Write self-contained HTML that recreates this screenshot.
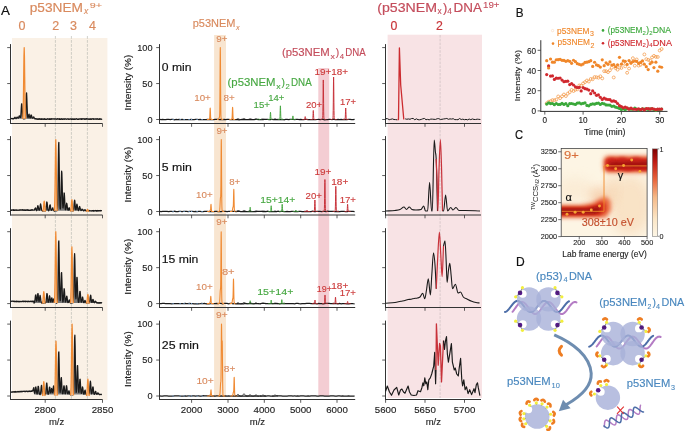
<!DOCTYPE html>
<html><head><meta charset="utf-8"><style>
html,body{margin:0;padding:0;background:#fff;}
svg{display:block;font-family:"Liberation Sans", sans-serif;will-change:transform;}
</style></head><body>
<svg width="685" height="432" viewBox="0 0 685 432">
<rect width="685" height="432" fill="#fff"/>
<rect x="12.00" y="38.00" width="95.40" height="362.00" fill="#faf1e6"/>
<rect x="387.60" y="34.70" width="94.40" height="363.30" fill="#f8e3e5"/>
<rect x="214.10" y="35.00" width="11.90" height="362.00" fill="#f8e5d0"/>
<rect x="318.30" y="68.00" width="10.90" height="328.00" fill="#f4cdd3"/>
<line x1="55.40" y1="36.00" x2="55.40" y2="400.00" stroke="#bdbdb6" stroke-width="0.7" stroke-dasharray="2.8,1.2"/>
<line x1="71.40" y1="36.00" x2="71.40" y2="400.00" stroke="#bdbdb6" stroke-width="0.7" stroke-dasharray="2.8,1.2"/>
<line x1="87.40" y1="36.00" x2="87.40" y2="400.00" stroke="#bdbdb6" stroke-width="0.7" stroke-dasharray="2.8,1.2"/>
<line x1="440.10" y1="35.00" x2="440.10" y2="398.00" stroke="#d2c2c4" stroke-width="0.8" stroke-dasharray="2.6,1.2"/>
<line x1="10.50" y1="44.10" x2="10.50" y2="123.90" stroke="#333" stroke-width="1.0"/>
<line x1="10.10" y1="123.50" x2="102.50" y2="123.50" stroke="#333" stroke-width="1.0"/>
<line x1="7.20" y1="47.60" x2="10.50" y2="47.60" stroke="#333" stroke-width="0.8"/>
<line x1="7.20" y1="83.55" x2="10.50" y2="83.55" stroke="#333" stroke-width="0.8"/>
<line x1="7.20" y1="119.50" x2="10.50" y2="119.50" stroke="#333" stroke-width="0.8"/>
<line x1="45.20" y1="123.50" x2="45.20" y2="126.80" stroke="#333" stroke-width="0.8"/>
<line x1="102.50" y1="123.50" x2="102.50" y2="126.80" stroke="#333" stroke-width="0.8"/>
<line x1="159.50" y1="44.10" x2="159.50" y2="123.90" stroke="#333" stroke-width="1.0"/>
<line x1="159.10" y1="123.50" x2="355.20" y2="123.50" stroke="#333" stroke-width="1.0"/>
<line x1="156.20" y1="47.60" x2="159.50" y2="47.60" stroke="#333" stroke-width="0.8"/>
<line x1="156.20" y1="83.55" x2="159.50" y2="83.55" stroke="#333" stroke-width="0.8"/>
<line x1="156.20" y1="119.50" x2="159.50" y2="119.50" stroke="#333" stroke-width="0.8"/>
<line x1="191.60" y1="123.50" x2="191.60" y2="126.80" stroke="#333" stroke-width="0.8"/>
<line x1="228.00" y1="123.50" x2="228.00" y2="126.80" stroke="#333" stroke-width="0.8"/>
<line x1="264.30" y1="123.50" x2="264.30" y2="126.80" stroke="#333" stroke-width="0.8"/>
<line x1="300.70" y1="123.50" x2="300.70" y2="126.80" stroke="#333" stroke-width="0.8"/>
<line x1="337.00" y1="123.50" x2="337.00" y2="126.80" stroke="#333" stroke-width="0.8"/>
<line x1="385.50" y1="44.10" x2="385.50" y2="123.90" stroke="#333" stroke-width="1.0"/>
<line x1="385.10" y1="123.50" x2="481.00" y2="123.50" stroke="#333" stroke-width="1.0"/>
<line x1="382.20" y1="47.60" x2="385.50" y2="47.60" stroke="#333" stroke-width="0.8"/>
<line x1="382.20" y1="83.55" x2="385.50" y2="83.55" stroke="#333" stroke-width="0.8"/>
<line x1="382.20" y1="119.50" x2="385.50" y2="119.50" stroke="#333" stroke-width="0.8"/>
<line x1="385.60" y1="123.50" x2="385.60" y2="126.80" stroke="#333" stroke-width="0.8"/>
<line x1="425.00" y1="123.50" x2="425.00" y2="126.80" stroke="#333" stroke-width="0.8"/>
<line x1="464.50" y1="123.50" x2="464.50" y2="126.80" stroke="#333" stroke-width="0.8"/>
<text x="152.60" y="50.90" font-size="9.2" fill="#222" stroke="#222" stroke-width="0.13" text-anchor="end">100</text>
<text x="152.60" y="86.85" font-size="9.2" fill="#222" stroke="#222" stroke-width="0.13" text-anchor="end">50</text>
<text x="152.60" y="122.80" font-size="9.2" fill="#222" stroke="#222" stroke-width="0.13" text-anchor="end">0</text>
<text x="131.00" y="82.55" font-size="8.5" fill="#222" stroke="#222" stroke-width="0.12" text-anchor="middle" textLength="56.0" lengthAdjust="spacingAndGlyphs" transform="rotate(-90 131.00 82.55)">Intensity (%)</text>
<line x1="10.50" y1="136.10" x2="10.50" y2="215.40" stroke="#333" stroke-width="1.0"/>
<line x1="10.10" y1="215.00" x2="102.50" y2="215.00" stroke="#333" stroke-width="1.0"/>
<line x1="7.20" y1="139.60" x2="10.50" y2="139.60" stroke="#333" stroke-width="0.8"/>
<line x1="7.20" y1="175.55" x2="10.50" y2="175.55" stroke="#333" stroke-width="0.8"/>
<line x1="7.20" y1="211.50" x2="10.50" y2="211.50" stroke="#333" stroke-width="0.8"/>
<line x1="45.20" y1="215.00" x2="45.20" y2="218.30" stroke="#333" stroke-width="0.8"/>
<line x1="102.50" y1="215.00" x2="102.50" y2="218.30" stroke="#333" stroke-width="0.8"/>
<line x1="159.50" y1="136.10" x2="159.50" y2="215.40" stroke="#333" stroke-width="1.0"/>
<line x1="159.10" y1="215.00" x2="355.20" y2="215.00" stroke="#333" stroke-width="1.0"/>
<line x1="156.20" y1="139.60" x2="159.50" y2="139.60" stroke="#333" stroke-width="0.8"/>
<line x1="156.20" y1="175.55" x2="159.50" y2="175.55" stroke="#333" stroke-width="0.8"/>
<line x1="156.20" y1="211.50" x2="159.50" y2="211.50" stroke="#333" stroke-width="0.8"/>
<line x1="191.60" y1="215.00" x2="191.60" y2="218.30" stroke="#333" stroke-width="0.8"/>
<line x1="228.00" y1="215.00" x2="228.00" y2="218.30" stroke="#333" stroke-width="0.8"/>
<line x1="264.30" y1="215.00" x2="264.30" y2="218.30" stroke="#333" stroke-width="0.8"/>
<line x1="300.70" y1="215.00" x2="300.70" y2="218.30" stroke="#333" stroke-width="0.8"/>
<line x1="337.00" y1="215.00" x2="337.00" y2="218.30" stroke="#333" stroke-width="0.8"/>
<line x1="385.50" y1="136.10" x2="385.50" y2="215.40" stroke="#333" stroke-width="1.0"/>
<line x1="385.10" y1="215.00" x2="481.00" y2="215.00" stroke="#333" stroke-width="1.0"/>
<line x1="382.20" y1="139.60" x2="385.50" y2="139.60" stroke="#333" stroke-width="0.8"/>
<line x1="382.20" y1="175.55" x2="385.50" y2="175.55" stroke="#333" stroke-width="0.8"/>
<line x1="382.20" y1="211.50" x2="385.50" y2="211.50" stroke="#333" stroke-width="0.8"/>
<line x1="385.60" y1="215.00" x2="385.60" y2="218.30" stroke="#333" stroke-width="0.8"/>
<line x1="425.00" y1="215.00" x2="425.00" y2="218.30" stroke="#333" stroke-width="0.8"/>
<line x1="464.50" y1="215.00" x2="464.50" y2="218.30" stroke="#333" stroke-width="0.8"/>
<text x="152.60" y="142.90" font-size="9.2" fill="#222" stroke="#222" stroke-width="0.13" text-anchor="end">100</text>
<text x="152.60" y="178.85" font-size="9.2" fill="#222" stroke="#222" stroke-width="0.13" text-anchor="end">50</text>
<text x="152.60" y="214.80" font-size="9.2" fill="#222" stroke="#222" stroke-width="0.13" text-anchor="end">0</text>
<text x="131.00" y="174.55" font-size="8.5" fill="#222" stroke="#222" stroke-width="0.12" text-anchor="middle" textLength="56.0" lengthAdjust="spacingAndGlyphs" transform="rotate(-90 131.00 174.55)">Intensity (%)</text>
<line x1="10.50" y1="228.20" x2="10.50" y2="307.90" stroke="#333" stroke-width="1.0"/>
<line x1="10.10" y1="307.50" x2="102.50" y2="307.50" stroke="#333" stroke-width="1.0"/>
<line x1="7.20" y1="231.70" x2="10.50" y2="231.70" stroke="#333" stroke-width="0.8"/>
<line x1="7.20" y1="267.65" x2="10.50" y2="267.65" stroke="#333" stroke-width="0.8"/>
<line x1="7.20" y1="303.60" x2="10.50" y2="303.60" stroke="#333" stroke-width="0.8"/>
<line x1="45.20" y1="307.50" x2="45.20" y2="310.80" stroke="#333" stroke-width="0.8"/>
<line x1="102.50" y1="307.50" x2="102.50" y2="310.80" stroke="#333" stroke-width="0.8"/>
<line x1="159.50" y1="228.20" x2="159.50" y2="307.90" stroke="#333" stroke-width="1.0"/>
<line x1="159.10" y1="307.50" x2="355.20" y2="307.50" stroke="#333" stroke-width="1.0"/>
<line x1="156.20" y1="231.70" x2="159.50" y2="231.70" stroke="#333" stroke-width="0.8"/>
<line x1="156.20" y1="267.65" x2="159.50" y2="267.65" stroke="#333" stroke-width="0.8"/>
<line x1="156.20" y1="303.60" x2="159.50" y2="303.60" stroke="#333" stroke-width="0.8"/>
<line x1="191.60" y1="307.50" x2="191.60" y2="310.80" stroke="#333" stroke-width="0.8"/>
<line x1="228.00" y1="307.50" x2="228.00" y2="310.80" stroke="#333" stroke-width="0.8"/>
<line x1="264.30" y1="307.50" x2="264.30" y2="310.80" stroke="#333" stroke-width="0.8"/>
<line x1="300.70" y1="307.50" x2="300.70" y2="310.80" stroke="#333" stroke-width="0.8"/>
<line x1="337.00" y1="307.50" x2="337.00" y2="310.80" stroke="#333" stroke-width="0.8"/>
<line x1="385.50" y1="228.20" x2="385.50" y2="307.90" stroke="#333" stroke-width="1.0"/>
<line x1="385.10" y1="307.50" x2="481.00" y2="307.50" stroke="#333" stroke-width="1.0"/>
<line x1="382.20" y1="231.70" x2="385.50" y2="231.70" stroke="#333" stroke-width="0.8"/>
<line x1="382.20" y1="267.65" x2="385.50" y2="267.65" stroke="#333" stroke-width="0.8"/>
<line x1="382.20" y1="303.60" x2="385.50" y2="303.60" stroke="#333" stroke-width="0.8"/>
<line x1="385.60" y1="307.50" x2="385.60" y2="310.80" stroke="#333" stroke-width="0.8"/>
<line x1="425.00" y1="307.50" x2="425.00" y2="310.80" stroke="#333" stroke-width="0.8"/>
<line x1="464.50" y1="307.50" x2="464.50" y2="310.80" stroke="#333" stroke-width="0.8"/>
<text x="152.60" y="235.00" font-size="9.2" fill="#222" stroke="#222" stroke-width="0.13" text-anchor="end">100</text>
<text x="152.60" y="270.95" font-size="9.2" fill="#222" stroke="#222" stroke-width="0.13" text-anchor="end">50</text>
<text x="152.60" y="306.90" font-size="9.2" fill="#222" stroke="#222" stroke-width="0.13" text-anchor="end">0</text>
<text x="131.00" y="266.65" font-size="8.5" fill="#222" stroke="#222" stroke-width="0.12" text-anchor="middle" textLength="56.0" lengthAdjust="spacingAndGlyphs" transform="rotate(-90 131.00 266.65)">Intensity (%)</text>
<line x1="10.50" y1="320.60" x2="10.50" y2="399.90" stroke="#333" stroke-width="1.0"/>
<line x1="10.10" y1="399.50" x2="102.50" y2="399.50" stroke="#333" stroke-width="1.0"/>
<line x1="7.20" y1="324.10" x2="10.50" y2="324.10" stroke="#333" stroke-width="0.8"/>
<line x1="7.20" y1="360.05" x2="10.50" y2="360.05" stroke="#333" stroke-width="0.8"/>
<line x1="7.20" y1="396.00" x2="10.50" y2="396.00" stroke="#333" stroke-width="0.8"/>
<line x1="45.20" y1="399.50" x2="45.20" y2="402.80" stroke="#333" stroke-width="0.8"/>
<line x1="102.50" y1="399.50" x2="102.50" y2="402.80" stroke="#333" stroke-width="0.8"/>
<line x1="159.50" y1="320.60" x2="159.50" y2="399.90" stroke="#333" stroke-width="1.0"/>
<line x1="159.10" y1="399.50" x2="355.20" y2="399.50" stroke="#333" stroke-width="1.0"/>
<line x1="156.20" y1="324.10" x2="159.50" y2="324.10" stroke="#333" stroke-width="0.8"/>
<line x1="156.20" y1="360.05" x2="159.50" y2="360.05" stroke="#333" stroke-width="0.8"/>
<line x1="156.20" y1="396.00" x2="159.50" y2="396.00" stroke="#333" stroke-width="0.8"/>
<line x1="191.60" y1="399.50" x2="191.60" y2="402.80" stroke="#333" stroke-width="0.8"/>
<line x1="228.00" y1="399.50" x2="228.00" y2="402.80" stroke="#333" stroke-width="0.8"/>
<line x1="264.30" y1="399.50" x2="264.30" y2="402.80" stroke="#333" stroke-width="0.8"/>
<line x1="300.70" y1="399.50" x2="300.70" y2="402.80" stroke="#333" stroke-width="0.8"/>
<line x1="337.00" y1="399.50" x2="337.00" y2="402.80" stroke="#333" stroke-width="0.8"/>
<line x1="385.50" y1="320.60" x2="385.50" y2="399.90" stroke="#333" stroke-width="1.0"/>
<line x1="385.10" y1="399.50" x2="481.00" y2="399.50" stroke="#333" stroke-width="1.0"/>
<line x1="382.20" y1="324.10" x2="385.50" y2="324.10" stroke="#333" stroke-width="0.8"/>
<line x1="382.20" y1="360.05" x2="385.50" y2="360.05" stroke="#333" stroke-width="0.8"/>
<line x1="382.20" y1="396.00" x2="385.50" y2="396.00" stroke="#333" stroke-width="0.8"/>
<line x1="385.60" y1="399.50" x2="385.60" y2="402.80" stroke="#333" stroke-width="0.8"/>
<line x1="425.00" y1="399.50" x2="425.00" y2="402.80" stroke="#333" stroke-width="0.8"/>
<line x1="464.50" y1="399.50" x2="464.50" y2="402.80" stroke="#333" stroke-width="0.8"/>
<text x="152.60" y="327.40" font-size="9.2" fill="#222" stroke="#222" stroke-width="0.13" text-anchor="end">100</text>
<text x="152.60" y="363.35" font-size="9.2" fill="#222" stroke="#222" stroke-width="0.13" text-anchor="end">50</text>
<text x="152.60" y="399.30" font-size="9.2" fill="#222" stroke="#222" stroke-width="0.13" text-anchor="end">0</text>
<text x="131.00" y="359.05" font-size="8.5" fill="#222" stroke="#222" stroke-width="0.12" text-anchor="middle" textLength="56.0" lengthAdjust="spacingAndGlyphs" transform="rotate(-90 131.00 359.05)">Intensity (%)</text>
<text x="45.20" y="412.70" font-size="9.2" fill="#222" stroke="#222" stroke-width="0.13" text-anchor="middle" textLength="21.6" lengthAdjust="spacingAndGlyphs">2800</text>
<text x="102.50" y="412.70" font-size="9.2" fill="#222" stroke="#222" stroke-width="0.13" text-anchor="middle" textLength="21.6" lengthAdjust="spacingAndGlyphs">2850</text>
<text x="191.60" y="412.70" font-size="9.2" fill="#222" stroke="#222" stroke-width="0.13" text-anchor="middle" textLength="21.6" lengthAdjust="spacingAndGlyphs">2000</text>
<text x="228.00" y="412.70" font-size="9.2" fill="#222" stroke="#222" stroke-width="0.13" text-anchor="middle" textLength="21.6" lengthAdjust="spacingAndGlyphs">3000</text>
<text x="264.30" y="412.70" font-size="9.2" fill="#222" stroke="#222" stroke-width="0.13" text-anchor="middle" textLength="21.6" lengthAdjust="spacingAndGlyphs">4000</text>
<text x="300.70" y="412.70" font-size="9.2" fill="#222" stroke="#222" stroke-width="0.13" text-anchor="middle" textLength="21.6" lengthAdjust="spacingAndGlyphs">5000</text>
<text x="337.00" y="412.70" font-size="9.2" fill="#222" stroke="#222" stroke-width="0.13" text-anchor="middle" textLength="21.6" lengthAdjust="spacingAndGlyphs">6000</text>
<text x="385.60" y="412.70" font-size="9.2" fill="#222" stroke="#222" stroke-width="0.13" text-anchor="middle" textLength="21.6" lengthAdjust="spacingAndGlyphs">5600</text>
<text x="425.00" y="412.70" font-size="9.2" fill="#222" stroke="#222" stroke-width="0.13" text-anchor="middle" textLength="21.6" lengthAdjust="spacingAndGlyphs">5650</text>
<text x="464.50" y="412.70" font-size="9.2" fill="#222" stroke="#222" stroke-width="0.13" text-anchor="middle" textLength="21.6" lengthAdjust="spacingAndGlyphs">5700</text>
<text x="56.60" y="424.70" font-size="9.4" fill="#222" stroke="#222" stroke-width="0.13" text-anchor="middle" textLength="15.3" lengthAdjust="spacingAndGlyphs">m/z</text>
<text x="257.40" y="424.70" font-size="9.4" fill="#222" stroke="#222" stroke-width="0.13" text-anchor="middle" textLength="15.3" lengthAdjust="spacingAndGlyphs">m/z</text>
<text x="433.30" y="424.70" font-size="9.4" fill="#222" stroke="#222" stroke-width="0.13" text-anchor="middle" textLength="15.3" lengthAdjust="spacingAndGlyphs">m/z</text>
<text x="0.90" y="14.80" font-size="13.6" fill="#111" stroke="#111" stroke-width="0.19" textLength="8.9" lengthAdjust="spacingAndGlyphs">A</text>
<text x="29.70" y="12.00" font-size="12.7" fill="#d98a5e" stroke="#d98a5e" stroke-width="0.18" textLength="53.3" lengthAdjust="spacingAndGlyphs">p53NEM</text>
<text x="84.00" y="14.40" font-size="8.5" fill="#d98a5e" stroke="#d98a5e" stroke-width="0.12" font-style="italic">x</text>
<text x="89.80" y="7.90" font-size="7.8" fill="#d98a5e" stroke="#d98a5e" stroke-width="0.11" textLength="12.3" lengthAdjust="spacingAndGlyphs">9+</text>
<text x="22.00" y="30.10" font-size="12.5" fill="#d98a5e" stroke="#d98a5e" stroke-width="0.18" text-anchor="middle">0</text>
<text x="55.70" y="30.10" font-size="12.5" fill="#d98a5e" stroke="#d98a5e" stroke-width="0.18" text-anchor="middle">2</text>
<text x="73.40" y="30.10" font-size="12.5" fill="#d98a5e" stroke="#d98a5e" stroke-width="0.18" text-anchor="middle">3</text>
<text x="92.60" y="30.10" font-size="12.5" fill="#d98a5e" stroke="#d98a5e" stroke-width="0.18" text-anchor="middle">4</text>
<text x="377.20" y="11.90" font-size="12.9" fill="#c44d5c" stroke="#c44d5c" stroke-width="0.18" textLength="59.8" lengthAdjust="spacingAndGlyphs">(p53NEM</text>
<text x="437.40" y="13.60" font-size="8.3" fill="#c44d5c" stroke="#c44d5c" stroke-width="0.12">x</text>
<text x="443.00" y="11.90" font-size="12.9" fill="#c44d5c" stroke="#c44d5c" stroke-width="0.18">)</text>
<text x="447.20" y="14.30" font-size="8.6" fill="#c44d5c" stroke="#c44d5c" stroke-width="0.12" textLength="4.6" lengthAdjust="spacingAndGlyphs">4</text>
<text x="453.60" y="11.90" font-size="12.9" fill="#c44d5c" stroke="#c44d5c" stroke-width="0.18" textLength="28.4" lengthAdjust="spacingAndGlyphs">DNA</text>
<text x="483.00" y="7.90" font-size="8.2" fill="#c44d5c" stroke="#c44d5c" stroke-width="0.11" textLength="16.5" lengthAdjust="spacingAndGlyphs">19+</text>
<text x="394.00" y="29.60" font-size="12.3" fill="#c83438" stroke="#c83438" stroke-width="0.17" text-anchor="middle">0</text>
<text x="439.40" y="29.60" font-size="12.3" fill="#c83438" stroke="#c83438" stroke-width="0.17" text-anchor="middle">2</text>
<text x="192.70" y="27.20" font-size="10.3" fill="#d98a5e" stroke="#d98a5e" stroke-width="0.14" textLength="42.8" lengthAdjust="spacingAndGlyphs">p53NEM</text>
<text x="236.00" y="29.60" font-size="7.2" fill="#d98a5e" stroke="#d98a5e" stroke-width="0.10" font-style="italic">x</text>
<text x="281.90" y="56.40" font-size="10.3" fill="#c44d5c" stroke="#c44d5c" stroke-width="0.14" textLength="47.9" lengthAdjust="spacingAndGlyphs">(p53NEM</text>
<text x="330.50" y="58.60" font-size="7.8" fill="#c44d5c" stroke="#c44d5c" stroke-width="0.11" textLength="4.4" lengthAdjust="spacingAndGlyphs">x</text>
<text x="335.80" y="56.40" font-size="10.3" fill="#c44d5c" stroke="#c44d5c" stroke-width="0.14">)</text>
<text x="339.80" y="58.60" font-size="7.8" fill="#c44d5c" stroke="#c44d5c" stroke-width="0.11" textLength="4.3" lengthAdjust="spacingAndGlyphs">4</text>
<text x="345.30" y="56.40" font-size="10.3" fill="#c44d5c" stroke="#c44d5c" stroke-width="0.14" textLength="20.5" lengthAdjust="spacingAndGlyphs">DNA</text>
<text x="227.60" y="86.40" font-size="10.3" fill="#47a842" stroke="#47a842" stroke-width="0.14" textLength="47.9" lengthAdjust="spacingAndGlyphs">(p53NEM</text>
<text x="276.20" y="88.60" font-size="7.8" fill="#47a842" stroke="#47a842" stroke-width="0.11" textLength="4.4" lengthAdjust="spacingAndGlyphs">x</text>
<text x="281.50" y="86.40" font-size="10.3" fill="#47a842" stroke="#47a842" stroke-width="0.14">)</text>
<text x="285.50" y="88.60" font-size="7.8" fill="#47a842" stroke="#47a842" stroke-width="0.11" textLength="4.3" lengthAdjust="spacingAndGlyphs">2</text>
<text x="291.00" y="86.40" font-size="10.3" fill="#47a842" stroke="#47a842" stroke-width="0.14" textLength="20.7" lengthAdjust="spacingAndGlyphs">DNA</text>
<text x="161.80" y="70.90" font-size="10.4" fill="#111" stroke="#111" stroke-width="0.15" textLength="29.8" lengthAdjust="spacingAndGlyphs">0 min</text>
<text x="161.80" y="171.40" font-size="10.4" fill="#111" stroke="#111" stroke-width="0.15" textLength="30.1" lengthAdjust="spacingAndGlyphs">5 min</text>
<text x="161.80" y="262.50" font-size="10.4" fill="#111" stroke="#111" stroke-width="0.15" textLength="36.6" lengthAdjust="spacingAndGlyphs">15 min</text>
<text x="161.80" y="348.50" font-size="10.4" fill="#111" stroke="#111" stroke-width="0.15" textLength="37.1" lengthAdjust="spacingAndGlyphs">25 min</text>
<path d="M159.60,119.37 L161.10,119.52 L162.60,119.43 L164.10,119.55 L165.60,119.56 L167.10,119.28 L168.60,119.26 L170.10,119.67 L171.60,119.38 L173.10,119.37 L174.60,119.75 L176.10,119.49 L177.60,119.67 L179.10,119.49 L180.60,119.57 L182.10,119.33 L183.60,119.57 L185.10,119.68 L186.60,119.51 L188.10,119.62 L189.60,119.59 L191.10,119.28 L192.60,119.63 L194.10,119.55 L195.60,119.40 L197.10,119.27 L198.60,119.68 L200.10,119.49 L201.60,119.61 L203.10,119.69 L204.60,119.61 L206.10,119.71 L207.60,119.45 L209.10,119.65 L210.60,119.47 L212.10,119.72 L213.60,119.69 L215.10,119.30 L216.60,119.32 L218.10,119.36 L219.60,119.73 L221.10,119.47 L222.60,119.56 L224.10,119.40 L225.60,119.50 L227.10,119.44 L228.60,119.43 L230.10,119.54 L231.60,119.54 L233.10,119.70 L234.60,119.59 L236.10,119.71 L237.60,119.68 L239.10,119.75 L240.60,119.59 L242.10,119.33 L243.60,119.68 L245.10,119.73 L246.60,119.70 L248.10,119.53 L249.60,119.61 L251.10,119.36 L252.60,119.67 L254.10,119.54 L255.60,119.39 L257.10,119.28 L258.60,119.68 L260.10,119.74 L261.60,119.29 L263.10,119.65 L264.60,119.46 L266.10,119.33 L267.60,119.40 L269.10,119.63 L270.60,119.69 L272.10,119.27 L273.60,119.56 L275.10,119.27 L276.60,119.61 L278.10,119.42 L279.60,119.69 L281.10,119.74 L282.60,119.50 L284.10,119.75 L285.60,119.40 L287.10,119.29 L288.60,119.55 L290.10,119.27 L291.60,119.35 L293.10,119.45 L294.60,119.56 L296.10,119.33 L297.60,119.27 L299.10,119.68 L300.60,119.41 L302.10,119.73 L303.60,119.70 L305.10,119.44 L306.60,119.48 L308.10,119.51 L309.60,119.57 L311.10,119.55 L312.60,119.53 L314.10,119.56 L315.60,119.72 L317.10,119.50 L318.60,119.47 L320.10,119.61 L321.60,119.37 L323.10,119.40 L324.60,119.74 L326.10,119.51 L327.60,119.52 L329.10,119.26 L330.60,119.46 L332.10,119.54 L333.60,119.26 L335.10,119.56 L336.60,119.57 L338.10,119.28 L339.60,119.56 L341.10,119.48 L342.60,119.59 L344.10,119.43 L345.60,119.60 L347.10,119.62 L348.60,119.26 L350.10,119.28 L351.60,119.59 L353.10,119.73 L354.60,119.38" stroke="#1a1a1a" stroke-width="1.25" fill="none"/>
<line x1="172.50" y1="119.50" x2="173.70" y2="119.50" stroke="#6f9fd0" stroke-width="1.0"/>
<line x1="179.50" y1="119.50" x2="180.70" y2="119.50" stroke="#6f9fd0" stroke-width="1.0"/>
<line x1="183.50" y1="119.50" x2="184.70" y2="119.50" stroke="#6f9fd0" stroke-width="1.0"/>
<line x1="188.50" y1="119.50" x2="189.70" y2="119.50" stroke="#6f9fd0" stroke-width="1.0"/>
<line x1="191.00" y1="119.50" x2="192.20" y2="119.50" stroke="#6f9fd0" stroke-width="1.0"/>
<line x1="196.50" y1="119.50" x2="197.70" y2="119.50" stroke="#6f9fd0" stroke-width="1.0"/>
<line x1="201.50" y1="119.50" x2="202.70" y2="119.50" stroke="#6f9fd0" stroke-width="1.0"/>
<path d="M159.60,211.48 L161.10,211.55 L162.60,211.41 L164.10,211.43 L165.60,211.41 L167.10,211.43 L168.60,211.55 L170.10,211.40 L171.60,211.44 L173.10,211.64 L174.60,211.26 L176.10,211.53 L177.60,211.62 L179.10,211.41 L180.60,211.36 L182.10,211.65 L183.60,211.37 L185.10,211.34 L186.60,211.47 L188.10,211.60 L189.60,211.30 L191.10,211.41 L192.60,211.42 L194.10,211.67 L195.60,211.47 L197.10,211.68 L198.60,211.33 L200.10,211.42 L201.60,211.58 L203.10,211.69 L204.60,211.48 L206.10,211.36 L207.60,211.31 L209.10,211.51 L210.60,211.35 L212.10,211.65 L213.60,211.67 L215.10,211.34 L216.60,211.39 L218.10,211.65 L219.60,211.57 L221.10,211.65 L222.60,211.42 L224.10,211.31 L225.60,211.40 L227.10,211.65 L228.60,211.39 L230.10,211.42 L231.60,211.46 L233.10,211.46 L234.60,211.45 L236.10,211.71 L237.60,211.33 L239.10,211.25 L240.60,211.72 L242.10,211.69 L243.60,211.74 L245.10,211.47 L246.60,211.73 L248.10,211.71 L249.60,211.36 L251.10,211.62 L252.60,211.67 L254.10,211.58 L255.60,211.51 L257.10,211.39 L258.60,211.42 L260.10,211.36 L261.60,211.28 L263.10,211.54 L264.60,211.39 L266.10,211.66 L267.60,211.27 L269.10,211.70 L270.60,211.60 L272.10,211.71 L273.60,211.70 L275.10,211.70 L276.60,211.54 L278.10,211.26 L279.60,211.62 L281.10,211.34 L282.60,211.40 L284.10,211.58 L285.60,211.51 L287.10,211.46 L288.60,211.72 L290.10,211.56 L291.60,211.42 L293.10,211.38 L294.60,211.68 L296.10,211.49 L297.60,211.64 L299.10,211.43 L300.60,211.35 L302.10,211.52 L303.60,211.66 L305.10,211.34 L306.60,211.65 L308.10,211.71 L309.60,211.65 L311.10,211.66 L312.60,211.25 L314.10,211.56 L315.60,211.68 L317.10,211.27 L318.60,211.39 L320.10,211.38 L321.60,211.51 L323.10,211.46 L324.60,211.49 L326.10,211.64 L327.60,211.25 L329.10,211.28 L330.60,211.31 L332.10,211.31 L333.60,211.28 L335.10,211.74 L336.60,211.68 L338.10,211.29 L339.60,211.50 L341.10,211.41 L342.60,211.41 L344.10,211.43 L345.60,211.57 L347.10,211.54 L348.60,211.43 L350.10,211.35 L351.60,211.41 L353.10,211.31 L354.60,211.53" stroke="#1a1a1a" stroke-width="1.25" fill="none"/>
<line x1="172.50" y1="211.50" x2="173.70" y2="211.50" stroke="#6f9fd0" stroke-width="1.0"/>
<line x1="179.50" y1="211.50" x2="180.70" y2="211.50" stroke="#6f9fd0" stroke-width="1.0"/>
<line x1="183.50" y1="211.50" x2="184.70" y2="211.50" stroke="#6f9fd0" stroke-width="1.0"/>
<line x1="188.50" y1="211.50" x2="189.70" y2="211.50" stroke="#6f9fd0" stroke-width="1.0"/>
<line x1="191.00" y1="211.50" x2="192.20" y2="211.50" stroke="#6f9fd0" stroke-width="1.0"/>
<line x1="196.50" y1="211.50" x2="197.70" y2="211.50" stroke="#6f9fd0" stroke-width="1.0"/>
<line x1="201.50" y1="211.50" x2="202.70" y2="211.50" stroke="#6f9fd0" stroke-width="1.0"/>
<path d="M159.60,303.71 L161.10,303.54 L162.60,303.39 L164.10,303.44 L165.60,303.54 L167.10,303.65 L168.60,303.74 L170.10,303.54 L171.60,303.75 L173.10,303.66 L174.60,303.57 L176.10,303.54 L177.60,303.60 L179.10,303.70 L180.60,303.56 L182.10,303.70 L183.60,303.58 L185.10,303.47 L186.60,303.62 L188.10,303.70 L189.60,303.39 L191.10,303.56 L192.60,303.56 L194.10,303.79 L195.60,303.82 L197.10,303.54 L198.60,303.80 L200.10,303.75 L201.60,303.48 L203.10,303.58 L204.60,303.41 L206.10,303.76 L207.60,303.68 L209.10,303.79 L210.60,303.75 L212.10,303.68 L213.60,303.72 L215.10,303.63 L216.60,303.40 L218.10,303.64 L219.60,303.35 L221.10,303.42 L222.60,303.74 L224.10,303.37 L225.60,303.40 L227.10,303.40 L228.60,303.79 L230.10,303.44 L231.60,303.36 L233.10,303.77 L234.60,303.41 L236.10,303.77 L237.60,303.69 L239.10,303.77 L240.60,303.83 L242.10,303.64 L243.60,303.75 L245.10,303.37 L246.60,303.73 L248.10,303.61 L249.60,303.71 L251.10,303.40 L252.60,303.72 L254.10,303.82 L255.60,303.38 L257.10,303.51 L258.60,303.63 L260.10,303.76 L261.60,303.47 L263.10,303.44 L264.60,303.47 L266.10,303.66 L267.60,303.73 L269.10,303.55 L270.60,303.53 L272.10,303.55 L273.60,303.53 L275.10,303.56 L276.60,303.39 L278.10,303.60 L279.60,303.84 L281.10,303.56 L282.60,303.72 L284.10,303.43 L285.60,303.70 L287.10,303.73 L288.60,303.69 L290.10,303.61 L291.60,303.59 L293.10,303.67 L294.60,303.80 L296.10,303.42 L297.60,303.40 L299.10,303.72 L300.60,303.81 L302.10,303.61 L303.60,303.57 L305.10,303.71 L306.60,303.44 L308.10,303.48 L309.60,303.45 L311.10,303.64 L312.60,303.51 L314.10,303.47 L315.60,303.70 L317.10,303.83 L318.60,303.50 L320.10,303.70 L321.60,303.56 L323.10,303.78 L324.60,303.64 L326.10,303.48 L327.60,303.46 L329.10,303.36 L330.60,303.59 L332.10,303.54 L333.60,303.44 L335.10,303.53 L336.60,303.51 L338.10,303.74 L339.60,303.42 L341.10,303.85 L342.60,303.59 L344.10,303.65 L345.60,303.58 L347.10,303.77 L348.60,303.76 L350.10,303.63 L351.60,303.59 L353.10,303.71 L354.60,303.78" stroke="#1a1a1a" stroke-width="1.25" fill="none"/>
<line x1="172.50" y1="303.60" x2="173.70" y2="303.60" stroke="#6f9fd0" stroke-width="1.0"/>
<line x1="179.50" y1="303.60" x2="180.70" y2="303.60" stroke="#6f9fd0" stroke-width="1.0"/>
<line x1="183.50" y1="303.60" x2="184.70" y2="303.60" stroke="#6f9fd0" stroke-width="1.0"/>
<line x1="188.50" y1="303.60" x2="189.70" y2="303.60" stroke="#6f9fd0" stroke-width="1.0"/>
<line x1="191.00" y1="303.60" x2="192.20" y2="303.60" stroke="#6f9fd0" stroke-width="1.0"/>
<line x1="196.50" y1="303.60" x2="197.70" y2="303.60" stroke="#6f9fd0" stroke-width="1.0"/>
<line x1="201.50" y1="303.60" x2="202.70" y2="303.60" stroke="#6f9fd0" stroke-width="1.0"/>
<path d="M159.60,395.95 L161.10,396.12 L162.60,396.23 L164.10,395.98 L165.60,395.86 L167.10,395.87 L168.60,396.11 L170.10,396.09 L171.60,396.23 L173.10,396.18 L174.60,395.87 L176.10,395.84 L177.60,395.88 L179.10,395.84 L180.60,396.10 L182.10,396.18 L183.60,396.20 L185.10,395.88 L186.60,396.18 L188.10,395.91 L189.60,395.96 L191.10,396.11 L192.60,395.79 L194.10,395.80 L195.60,396.17 L197.10,395.90 L198.60,395.93 L200.10,396.04 L201.60,396.09 L203.10,395.75 L204.60,395.92 L206.10,395.97 L207.60,395.99 L209.10,395.86 L210.60,396.04 L212.10,396.23 L213.60,395.95 L215.10,396.02 L216.60,395.81 L218.10,395.89 L219.60,396.08 L221.10,395.81 L222.60,396.19 L224.10,396.20 L225.60,395.80 L227.10,396.22 L228.60,395.94 L230.10,396.14 L231.60,396.13 L233.10,395.90 L234.60,396.09 L236.10,396.08 L237.60,396.15 L239.10,395.88 L240.60,396.13 L242.10,396.23 L243.60,396.09 L245.10,396.02 L246.60,395.81 L248.10,396.00 L249.60,395.93 L251.10,396.11 L252.60,396.09 L254.10,396.03 L255.60,395.84 L257.10,396.07 L258.60,396.07 L260.10,395.84 L261.60,396.19 L263.10,396.08 L264.60,395.81 L266.10,396.22 L267.60,395.82 L269.10,395.92 L270.60,396.11 L272.10,396.05 L273.60,396.03 L275.10,396.07 L276.60,395.98 L278.10,395.91 L279.60,395.84 L281.10,395.78 L282.60,396.11 L284.10,396.13 L285.60,396.02 L287.10,396.12 L288.60,395.93 L290.10,395.88 L291.60,395.94 L293.10,396.19 L294.60,395.77 L296.10,396.00 L297.60,395.87 L299.10,396.13 L300.60,395.93 L302.10,395.92 L303.60,395.95 L305.10,396.02 L306.60,396.14 L308.10,395.93 L309.60,396.17 L311.10,395.81 L312.60,395.89 L314.10,395.80 L315.60,395.81 L317.10,396.14 L318.60,396.11 L320.10,395.84 L321.60,395.84 L323.10,395.96 L324.60,396.12 L326.10,396.16 L327.60,396.12 L329.10,396.05 L330.60,395.82 L332.10,395.95 L333.60,395.85 L335.10,396.01 L336.60,396.03 L338.10,395.85 L339.60,395.88 L341.10,396.14 L342.60,395.77 L344.10,396.15 L345.60,396.20 L347.10,396.22 L348.60,395.94 L350.10,396.03 L351.60,396.04 L353.10,396.07 L354.60,396.24" stroke="#1a1a1a" stroke-width="1.25" fill="none"/>
<line x1="172.50" y1="396.00" x2="173.70" y2="396.00" stroke="#6f9fd0" stroke-width="1.0"/>
<line x1="179.50" y1="396.00" x2="180.70" y2="396.00" stroke="#6f9fd0" stroke-width="1.0"/>
<line x1="183.50" y1="396.00" x2="184.70" y2="396.00" stroke="#6f9fd0" stroke-width="1.0"/>
<line x1="188.50" y1="396.00" x2="189.70" y2="396.00" stroke="#6f9fd0" stroke-width="1.0"/>
<line x1="191.00" y1="396.00" x2="192.20" y2="396.00" stroke="#6f9fd0" stroke-width="1.0"/>
<line x1="196.50" y1="396.00" x2="197.70" y2="396.00" stroke="#6f9fd0" stroke-width="1.0"/>
<line x1="201.50" y1="396.00" x2="202.70" y2="396.00" stroke="#6f9fd0" stroke-width="1.0"/>
<path d="M206.90,119.50 L207.00,119.50 L207.10,119.50 L207.20,119.50 L207.30,119.50 L207.40,119.50 L207.50,119.50 L207.60,119.49 L207.70,119.49 L207.80,119.49 L207.90,119.48 L208.00,119.47 L208.10,119.46 L208.20,119.45 L208.30,119.44 L208.40,119.42 L208.50,119.40 L208.60,119.38 L208.70,119.36 L208.80,119.33 L208.90,119.30 L209.00,119.26 L209.10,119.23 L209.20,119.20 L209.30,119.16 L209.40,119.09 L209.50,118.95 L209.60,118.60 L209.70,117.80 L209.80,116.29 L209.90,113.98 L210.00,111.22 L210.10,108.90 L210.20,108.00 L210.30,108.94 L210.40,111.30 L210.50,114.09 L210.60,116.43 L210.70,117.96 L210.80,118.78 L210.90,119.14 L211.00,119.28 L211.10,119.35 L211.20,119.38 L211.30,119.40 L211.40,119.42 L211.50,119.44 L211.60,119.45 L211.70,119.46 L211.80,119.47 L211.90,119.48 L212.00,119.49 L212.10,119.49 L212.20,119.49 L212.30,119.50 L212.40,119.50 L212.50,119.50 L212.60,119.50 L212.70,119.50 L212.80,119.50 L212.90,119.50 L213.00,119.50 L213.10,119.50 L213.20,119.50" stroke="#f08a32" stroke-width="1.1" fill="none" stroke-linejoin="round"/>
<path d="M217.00,119.50 L217.10,119.50 L217.20,119.49 L217.30,119.49 L217.40,119.49 L217.50,119.48 L217.60,119.47 L217.70,119.46 L217.80,119.44 L217.90,119.41 L218.00,119.38 L218.10,119.33 L218.20,119.28 L218.30,119.21 L218.40,119.12 L218.50,119.02 L218.60,118.90 L218.70,118.76 L218.80,118.60 L218.90,118.42 L219.00,118.23 L219.10,118.03 L219.20,117.82 L219.30,117.60 L219.40,117.35 L219.50,116.95 L219.60,116.07 L219.70,113.87 L219.80,108.90 L219.90,99.46 L220.00,84.99 L220.10,67.77 L220.20,53.26 L220.30,47.60 L220.40,53.50 L220.50,68.24 L220.60,85.67 L220.70,100.33 L220.80,109.91 L220.90,114.98 L221.00,117.25 L221.10,118.15 L221.20,118.54 L221.30,118.75 L221.40,118.90 L221.50,119.02 L221.60,119.12 L221.70,119.21 L221.80,119.28 L221.90,119.33 L222.00,119.38 L222.10,119.41 L222.20,119.44 L222.30,119.46 L222.40,119.47 L222.50,119.48 L222.60,119.49 L222.70,119.49 L222.80,119.49 L222.90,119.50 L223.00,119.50 L223.10,119.50 L223.20,119.50 L223.30,119.50" stroke="#f08a32" stroke-width="1.1" fill="none" stroke-linejoin="round"/>
<path d="M229.30,119.50 L229.40,119.50 L229.50,119.50 L229.60,119.50 L229.70,119.50 L229.80,119.50 L229.90,119.49 L230.00,119.49 L230.10,119.49 L230.20,119.48 L230.30,119.48 L230.40,119.47 L230.50,119.46 L230.60,119.45 L230.70,119.44 L230.80,119.42 L230.90,119.40 L231.00,119.37 L231.10,119.35 L231.20,119.32 L231.30,119.28 L231.40,119.25 L231.50,119.21 L231.60,119.18 L231.70,119.13 L231.80,119.07 L231.90,118.92 L232.00,118.54 L232.10,117.70 L232.20,116.09 L232.30,113.63 L232.40,110.71 L232.50,108.24 L232.60,107.28 L232.70,108.28 L232.80,110.79 L232.90,113.75 L233.00,116.24 L233.10,117.87 L233.20,118.73 L233.30,119.12 L233.40,119.27 L233.50,119.34 L233.60,119.37 L233.70,119.40 L233.80,119.42 L233.90,119.44 L234.00,119.45 L234.10,119.46 L234.20,119.47 L234.30,119.48 L234.40,119.48 L234.50,119.49 L234.60,119.49 L234.70,119.49 L234.80,119.50 L234.90,119.50 L235.00,119.50 L235.10,119.50 L235.20,119.50 L235.30,119.50 L235.40,119.50 L235.50,119.50 L235.60,119.50" stroke="#f08a32" stroke-width="1.1" fill="none" stroke-linejoin="round"/>
<path d="M255.90,119.50 L256.00,119.50 L256.10,119.50 L256.20,119.50 L256.30,119.50 L256.40,119.50 L256.50,119.50 L256.60,119.50 L256.70,119.50 L256.80,119.50 L256.90,119.50 L257.00,119.50 L257.10,119.50 L257.20,119.50 L257.30,119.50 L257.40,119.50 L257.50,119.50 L257.60,119.50 L257.70,119.50 L257.80,119.49 L257.90,119.49 L258.00,119.49 L258.10,119.49 L258.20,119.48 L258.30,119.47 L258.40,119.43 L258.50,119.35 L258.60,119.21 L258.70,119.02 L258.80,118.85 L258.90,118.78 L259.00,118.85 L259.10,119.02 L259.20,119.21 L259.30,119.35 L259.40,119.43 L259.50,119.47 L259.60,119.48 L259.70,119.49 L259.80,119.49 L259.90,119.49 L260.00,119.49 L260.10,119.50 L260.20,119.50 L260.30,119.50 L260.40,119.50 L260.50,119.50 L260.60,119.50 L260.70,119.50 L260.80,119.50 L260.90,119.50 L261.00,119.50 L261.10,119.50 L261.20,119.50 L261.30,119.50 L261.40,119.50 L261.50,119.50 L261.60,119.50 L261.70,119.50 L261.80,119.50 L261.90,119.50" stroke="#47a842" stroke-width="1.0" fill="none" stroke-linejoin="round"/>
<path d="M267.50,119.50 L267.60,119.50 L267.70,119.50 L267.80,119.50 L267.90,119.50 L268.00,119.50 L268.10,119.50 L268.20,119.50 L268.30,119.50 L268.40,119.50 L268.50,119.50 L268.60,119.49 L268.70,119.49 L268.80,119.49 L268.90,119.48 L269.00,119.48 L269.10,119.47 L269.20,119.46 L269.30,119.45 L269.40,119.44 L269.50,119.42 L269.60,119.41 L269.70,119.38 L269.80,119.33 L269.90,119.19 L270.00,118.81 L270.10,117.99 L270.20,116.55 L270.30,114.68 L270.40,113.00 L270.50,112.31 L270.60,113.00 L270.70,114.68 L270.80,116.55 L270.90,117.99 L271.00,118.81 L271.10,119.19 L271.20,119.33 L271.30,119.38 L271.40,119.41 L271.50,119.42 L271.60,119.44 L271.70,119.45 L271.80,119.46 L271.90,119.47 L272.00,119.48 L272.10,119.48 L272.20,119.49 L272.30,119.49 L272.40,119.49 L272.50,119.50 L272.60,119.50 L272.70,119.50 L272.80,119.50 L272.90,119.50 L273.00,119.50 L273.10,119.50 L273.20,119.50 L273.30,119.50 L273.40,119.50 L273.50,119.50" stroke="#47a842" stroke-width="1.0" fill="none" stroke-linejoin="round"/>
<path d="M277.40,119.50 L277.50,119.50 L277.60,119.50 L277.70,119.50 L277.80,119.50 L277.90,119.50 L278.00,119.50 L278.10,119.50 L278.20,119.50 L278.30,119.50 L278.40,119.49 L278.50,119.49 L278.60,119.49 L278.70,119.48 L278.80,119.47 L278.90,119.46 L279.00,119.45 L279.10,119.43 L279.20,119.41 L279.30,119.38 L279.40,119.36 L279.50,119.32 L279.60,119.28 L279.70,119.17 L279.80,118.90 L279.90,118.19 L280.00,116.62 L280.10,113.90 L280.20,110.34 L280.30,107.14 L280.40,105.84 L280.50,107.14 L280.60,110.34 L280.70,113.90 L280.80,116.62 L280.90,118.19 L281.00,118.90 L281.10,119.17 L281.20,119.28 L281.30,119.32 L281.40,119.36 L281.50,119.38 L281.60,119.41 L281.70,119.43 L281.80,119.45 L281.90,119.46 L282.00,119.47 L282.10,119.48 L282.20,119.49 L282.30,119.49 L282.40,119.49 L282.50,119.50 L282.60,119.50 L282.70,119.50 L282.80,119.50 L282.90,119.50 L283.00,119.50 L283.10,119.50 L283.20,119.50 L283.30,119.50 L283.40,119.50" stroke="#47a842" stroke-width="1.0" fill="none" stroke-linejoin="round"/>
<path d="M289.90,119.50 L290.00,119.50 L290.10,119.50 L290.20,119.50 L290.30,119.50 L290.40,119.50 L290.50,119.50 L290.60,119.50 L290.70,119.50 L290.80,119.50 L290.90,119.50 L291.00,119.50 L291.10,119.50 L291.20,119.49 L291.30,119.49 L291.40,119.49 L291.50,119.49 L291.60,119.48 L291.70,119.48 L291.80,119.47 L291.90,119.46 L292.00,119.45 L292.10,119.44 L292.20,119.41 L292.30,119.34 L292.40,119.16 L292.50,118.74 L292.60,118.03 L292.70,117.09 L292.80,116.25 L292.90,115.91 L293.00,116.25 L293.10,117.09 L293.20,118.03 L293.30,118.74 L293.40,119.16 L293.50,119.34 L293.60,119.41 L293.70,119.44 L293.80,119.45 L293.90,119.46 L294.00,119.47 L294.10,119.48 L294.20,119.48 L294.30,119.49 L294.40,119.49 L294.50,119.49 L294.60,119.49 L294.70,119.50 L294.80,119.50 L294.90,119.50 L295.00,119.50 L295.10,119.50 L295.20,119.50 L295.30,119.50 L295.40,119.50 L295.50,119.50 L295.60,119.50 L295.70,119.50 L295.80,119.50 L295.90,119.50" stroke="#47a842" stroke-width="1.0" fill="none" stroke-linejoin="round"/>
<path d="M302.20,119.50 L302.30,119.50 L302.40,119.50 L302.50,119.50 L302.60,119.50 L302.70,119.50 L302.80,119.50 L302.90,119.50 L303.00,119.50 L303.10,119.50 L303.20,119.50 L303.30,119.50 L303.40,119.50 L303.50,119.50 L303.60,119.49 L303.70,119.49 L303.80,119.49 L303.90,119.49 L304.00,119.48 L304.10,119.48 L304.20,119.47 L304.30,119.46 L304.40,119.45 L304.50,119.43 L304.60,119.37 L304.70,119.22 L304.80,118.89 L304.90,118.32 L305.00,117.57 L305.10,116.90 L305.20,116.62 L305.30,116.90 L305.40,117.57 L305.50,118.32 L305.60,118.89 L305.70,119.22 L305.80,119.37 L305.90,119.43 L306.00,119.45 L306.10,119.46 L306.20,119.47 L306.30,119.48 L306.40,119.48 L306.50,119.49 L306.60,119.49 L306.70,119.49 L306.80,119.49 L306.90,119.50 L307.00,119.50 L307.10,119.50 L307.20,119.50 L307.30,119.50 L307.40,119.50 L307.50,119.50 L307.60,119.50 L307.70,119.50 L307.80,119.50 L307.90,119.50 L308.00,119.50 L308.10,119.50 L308.20,119.50" stroke="#c8323a" stroke-width="1.0" fill="none" stroke-linejoin="round"/>
<path d="M310.30,119.50 L310.40,119.50 L310.50,119.50 L310.60,119.50 L310.70,119.50 L310.80,119.50 L310.90,119.50 L311.00,119.50 L311.10,119.50 L311.20,119.50 L311.30,119.50 L311.40,119.49 L311.50,119.49 L311.60,119.49 L311.70,119.48 L311.80,119.47 L311.90,119.46 L312.00,119.45 L312.10,119.44 L312.20,119.42 L312.30,119.41 L312.40,119.38 L312.50,119.35 L312.60,119.29 L312.70,119.11 L312.80,118.64 L312.90,117.61 L313.00,115.82 L313.10,113.48 L313.20,111.37 L313.30,110.51 L313.40,111.37 L313.50,113.48 L313.60,115.82 L313.70,117.61 L313.80,118.64 L313.90,119.11 L314.00,119.29 L314.10,119.35 L314.20,119.38 L314.30,119.41 L314.40,119.42 L314.50,119.44 L314.60,119.45 L314.70,119.46 L314.80,119.47 L314.90,119.48 L315.00,119.49 L315.10,119.49 L315.20,119.49 L315.30,119.50 L315.40,119.50 L315.50,119.50 L315.60,119.50 L315.70,119.50 L315.80,119.50 L315.90,119.50 L316.00,119.50 L316.10,119.50 L316.20,119.50 L316.30,119.50" stroke="#c8323a" stroke-width="1.0" fill="none" stroke-linejoin="round"/>
<path d="M320.30,119.50 L320.40,119.50 L320.50,119.50 L320.60,119.50 L320.70,119.50 L320.80,119.50 L320.90,119.50 L321.00,119.49 L321.10,119.49 L321.20,119.49 L321.30,119.48 L321.40,119.47 L321.50,119.46 L321.60,119.44 L321.70,119.42 L321.80,119.38 L321.90,119.34 L322.00,119.29 L322.10,119.23 L322.20,119.16 L322.30,119.08 L322.40,118.99 L322.50,118.85 L322.60,118.56 L322.70,117.77 L322.80,115.71 L322.90,111.17 L323.00,103.30 L323.10,93.00 L323.20,83.73 L323.30,79.95 L323.40,83.73 L323.50,93.00 L323.60,103.30 L323.70,111.17 L323.80,115.71 L323.90,117.77 L324.00,118.56 L324.10,118.85 L324.20,118.99 L324.30,119.08 L324.40,119.16 L324.50,119.23 L324.60,119.29 L324.70,119.34 L324.80,119.38 L324.90,119.42 L325.00,119.44 L325.10,119.46 L325.20,119.47 L325.30,119.48 L325.40,119.49 L325.50,119.49 L325.60,119.49 L325.70,119.50 L325.80,119.50 L325.90,119.50 L326.00,119.50 L326.10,119.50 L326.20,119.50 L326.30,119.50" stroke="#c8323a" stroke-width="1.0" fill="none" stroke-linejoin="round"/>
<path d="M330.60,119.50 L330.70,119.50 L330.80,119.50 L330.90,119.50 L331.00,119.50 L331.10,119.50 L331.20,119.50 L331.30,119.49 L331.40,119.49 L331.50,119.49 L331.60,119.48 L331.70,119.47 L331.80,119.45 L331.90,119.44 L332.00,119.41 L332.10,119.38 L332.20,119.33 L332.30,119.28 L332.40,119.22 L332.50,119.14 L332.60,119.05 L332.70,118.95 L332.80,118.80 L332.90,118.49 L333.00,117.65 L333.10,115.43 L333.20,110.56 L333.30,102.12 L333.40,91.07 L333.50,81.13 L333.60,77.08 L333.70,81.13 L333.80,91.07 L333.90,102.12 L334.00,110.56 L334.10,115.43 L334.20,117.65 L334.30,118.49 L334.40,118.80 L334.50,118.95 L334.60,119.05 L334.70,119.14 L334.80,119.22 L334.90,119.28 L335.00,119.33 L335.10,119.38 L335.20,119.41 L335.30,119.44 L335.40,119.45 L335.50,119.47 L335.60,119.48 L335.70,119.49 L335.80,119.49 L335.90,119.49 L336.00,119.50 L336.10,119.50 L336.20,119.50 L336.30,119.50 L336.40,119.50 L336.50,119.50 L336.60,119.50" stroke="#c8323a" stroke-width="1.0" fill="none" stroke-linejoin="round"/>
<path d="M342.70,119.50 L342.80,119.50 L342.90,119.50 L343.00,119.50 L343.10,119.50 L343.20,119.50 L343.30,119.50 L343.40,119.50 L343.50,119.50 L343.60,119.50 L343.70,119.49 L343.80,119.49 L343.90,119.49 L344.00,119.48 L344.10,119.48 L344.20,119.47 L344.30,119.45 L344.40,119.44 L344.50,119.42 L344.60,119.40 L344.70,119.38 L344.80,119.35 L344.90,119.31 L345.00,119.23 L345.10,119.00 L345.20,118.40 L345.30,117.08 L345.40,114.79 L345.50,111.79 L345.60,109.10 L345.70,108.00 L345.80,109.10 L345.90,111.79 L346.00,114.79 L346.10,117.08 L346.20,118.40 L346.30,119.00 L346.40,119.23 L346.50,119.31 L346.60,119.35 L346.70,119.38 L346.80,119.40 L346.90,119.42 L347.00,119.44 L347.10,119.45 L347.20,119.47 L347.30,119.48 L347.40,119.48 L347.50,119.49 L347.60,119.49 L347.70,119.49 L347.80,119.50 L347.90,119.50 L348.00,119.50 L348.10,119.50 L348.20,119.50 L348.30,119.50 L348.40,119.50 L348.50,119.50 L348.60,119.50 L348.70,119.50" stroke="#c8323a" stroke-width="1.0" fill="none" stroke-linejoin="round"/>
<path d="M207.20,211.50 L207.30,211.50 L207.40,211.50 L207.50,211.50 L207.60,211.50 L207.70,211.50 L207.80,211.50 L207.90,211.50 L208.00,211.50 L208.10,211.50 L208.20,211.50 L208.30,211.50 L208.40,211.50 L208.50,211.49 L208.60,211.49 L208.70,211.49 L208.80,211.48 L208.90,211.48 L209.00,211.47 L209.10,211.45 L209.20,211.43 L209.30,211.40 L209.40,211.34 L209.50,211.25 L209.60,211.13 L209.70,210.95 L209.80,210.75 L209.90,210.53 L210.00,210.32 L210.10,210.17 L210.20,210.08 L210.30,210.04 L210.40,209.95 L210.50,209.65 L210.60,208.91 L210.70,207.67 L210.80,206.12 L210.90,204.80 L211.00,204.31 L211.10,204.94 L211.20,206.42 L211.30,208.15 L211.40,209.60 L211.50,210.55 L211.60,211.05 L211.70,211.28 L211.80,211.37 L211.90,211.40 L212.00,211.43 L212.10,211.44 L212.20,211.45 L212.30,211.46 L212.40,211.47 L212.50,211.48 L212.60,211.48 L212.70,211.49 L212.80,211.49 L212.90,211.49 L213.00,211.50 L213.10,211.50 L213.20,211.50 L213.30,211.50 L213.40,211.50 L213.50,211.50 L213.60,211.50 L213.70,211.50 L213.80,211.50 L213.90,211.50 L214.00,211.50" stroke="#f08a32" stroke-width="1.1" fill="none" stroke-linejoin="round"/>
<path d="M217.50,211.50 L217.60,211.50 L217.70,211.50 L217.80,211.50 L217.90,211.50 L218.00,211.50 L218.10,211.50 L218.20,211.49 L218.30,211.49 L218.40,211.49 L218.50,211.48 L218.60,211.47 L218.70,211.46 L218.80,211.44 L218.90,211.41 L219.00,211.38 L219.10,211.33 L219.20,211.27 L219.30,211.18 L219.40,211.05 L219.50,210.83 L219.60,210.48 L219.70,209.91 L219.80,209.03 L219.90,207.76 L220.00,206.05 L220.10,203.98 L220.20,201.77 L220.30,199.73 L220.40,198.19 L220.50,197.34 L220.60,196.93 L220.70,196.05 L220.80,192.96 L220.90,185.64 L221.00,173.21 L221.10,157.70 L221.20,144.47 L221.30,139.60 L221.40,145.86 L221.50,160.65 L221.60,177.99 L221.70,192.52 L221.80,202.01 L221.90,207.03 L222.00,209.27 L222.10,210.17 L222.20,210.55 L222.30,210.76 L222.40,210.91 L222.50,211.03 L222.60,211.13 L222.70,211.21 L222.80,211.28 L222.90,211.34 L223.00,211.38 L223.10,211.41 L223.20,211.44 L223.30,211.46 L223.40,211.47 L223.50,211.48 L223.60,211.49 L223.70,211.49 L223.80,211.49 L223.90,211.50 L224.00,211.50 L224.10,211.50 L224.20,211.50 L224.30,211.50" stroke="#f08a32" stroke-width="1.1" fill="none" stroke-linejoin="round"/>
<path d="M230.00,211.50 L230.10,211.50 L230.20,211.50 L230.30,211.50 L230.40,211.50 L230.50,211.50 L230.60,211.50 L230.70,211.50 L230.80,211.50 L230.90,211.50 L231.00,211.49 L231.10,211.49 L231.20,211.49 L231.30,211.48 L231.40,211.47 L231.50,211.46 L231.60,211.45 L231.70,211.43 L231.80,211.40 L231.90,211.36 L232.00,211.29 L232.10,211.18 L232.20,211.01 L232.30,210.74 L232.40,210.34 L232.50,209.81 L232.60,209.17 L232.70,208.48 L232.80,207.85 L232.90,207.37 L233.00,207.11 L233.10,206.98 L233.20,206.71 L233.30,205.75 L233.40,203.48 L233.50,199.63 L233.60,194.82 L233.70,190.72 L233.80,189.21 L233.90,191.15 L234.00,195.74 L234.10,201.11 L234.20,205.62 L234.30,208.56 L234.40,210.11 L234.50,210.81 L234.60,211.09 L234.70,211.21 L234.80,211.27 L234.90,211.32 L235.00,211.35 L235.10,211.39 L235.20,211.41 L235.30,211.43 L235.40,211.45 L235.50,211.46 L235.60,211.47 L235.70,211.48 L235.80,211.49 L235.90,211.49 L236.00,211.49 L236.10,211.50 L236.20,211.50 L236.30,211.50 L236.40,211.50 L236.50,211.50 L236.60,211.50 L236.70,211.50 L236.80,211.50" stroke="#f08a32" stroke-width="1.1" fill="none" stroke-linejoin="round"/>
<path d="M247.20,211.50 L247.30,211.50 L247.40,211.50 L247.50,211.50 L247.60,211.50 L247.70,211.50 L247.80,211.50 L247.90,211.50 L248.00,211.50 L248.10,211.50 L248.20,211.50 L248.30,211.50 L248.40,211.50 L248.50,211.49 L248.60,211.49 L248.70,211.49 L248.80,211.48 L248.90,211.48 L249.00,211.47 L249.10,211.46 L249.20,211.45 L249.30,211.44 L249.40,211.43 L249.50,211.40 L249.60,211.31 L249.70,211.09 L249.80,210.59 L249.90,209.73 L250.00,208.61 L250.10,207.60 L250.20,207.19 L250.30,207.60 L250.40,208.61 L250.50,209.73 L250.60,210.59 L250.70,211.09 L250.80,211.31 L250.90,211.40 L251.00,211.43 L251.10,211.44 L251.20,211.45 L251.30,211.46 L251.40,211.47 L251.50,211.48 L251.60,211.48 L251.70,211.49 L251.80,211.49 L251.90,211.49 L252.00,211.50 L252.10,211.50 L252.20,211.50 L252.30,211.50 L252.40,211.50 L252.50,211.50 L252.60,211.50 L252.70,211.50 L252.80,211.50 L252.90,211.50 L253.00,211.50 L253.10,211.50 L253.20,211.50" stroke="#47a842" stroke-width="1.0" fill="none" stroke-linejoin="round"/>
<path d="M268.20,211.50 L268.30,211.50 L268.40,211.50 L268.50,211.50 L268.60,211.50 L268.70,211.50 L268.80,211.50 L268.90,211.50 L269.00,211.50 L269.10,211.50 L269.20,211.50 L269.30,211.50 L269.40,211.49 L269.50,211.49 L269.60,211.49 L269.70,211.48 L269.80,211.48 L269.90,211.47 L270.00,211.46 L270.10,211.45 L270.20,211.44 L270.30,211.43 L270.40,211.41 L270.50,211.36 L270.60,211.25 L270.70,210.95 L270.80,210.29 L270.90,209.14 L271.00,207.64 L271.10,206.30 L271.20,205.75 L271.30,206.30 L271.40,207.64 L271.50,209.14 L271.60,210.29 L271.70,210.95 L271.80,211.25 L271.90,211.36 L272.00,211.41 L272.10,211.43 L272.20,211.44 L272.30,211.45 L272.40,211.46 L272.50,211.47 L272.60,211.48 L272.70,211.48 L272.80,211.49 L272.90,211.49 L273.00,211.49 L273.10,211.50 L273.20,211.50 L273.30,211.50 L273.40,211.50 L273.50,211.50 L273.60,211.50 L273.70,211.50 L273.80,211.50 L273.90,211.50 L274.00,211.50 L274.10,211.50 L274.20,211.50" stroke="#47a842" stroke-width="1.0" fill="none" stroke-linejoin="round"/>
<path d="M279.20,211.50 L279.30,211.50 L279.40,211.50 L279.50,211.50 L279.60,211.50 L279.70,211.50 L279.80,211.50 L279.90,211.50 L280.00,211.50 L280.10,211.50 L280.20,211.50 L280.30,211.49 L280.40,211.49 L280.50,211.49 L280.60,211.48 L280.70,211.48 L280.80,211.47 L280.90,211.46 L281.00,211.45 L281.10,211.44 L281.20,211.42 L281.30,211.41 L281.40,211.38 L281.50,211.33 L281.60,211.19 L281.70,210.81 L281.80,209.99 L281.90,208.55 L282.00,206.68 L282.10,205.00 L282.20,204.31 L282.30,205.00 L282.40,206.68 L282.50,208.55 L282.60,209.99 L282.70,210.81 L282.80,211.19 L282.90,211.33 L283.00,211.38 L283.10,211.41 L283.20,211.42 L283.30,211.44 L283.40,211.45 L283.50,211.46 L283.60,211.47 L283.70,211.48 L283.80,211.48 L283.90,211.49 L284.00,211.49 L284.10,211.49 L284.20,211.50 L284.30,211.50 L284.40,211.50 L284.50,211.50 L284.60,211.50 L284.70,211.50 L284.80,211.50 L284.90,211.50 L285.00,211.50 L285.10,211.50 L285.20,211.50" stroke="#47a842" stroke-width="1.0" fill="none" stroke-linejoin="round"/>
<path d="M292.80,211.50 L292.90,211.50 L293.00,211.50 L293.10,211.50 L293.20,211.50 L293.30,211.50 L293.40,211.50 L293.50,211.50 L293.60,211.50 L293.70,211.50 L293.80,211.50 L293.90,211.50 L294.00,211.50 L294.10,211.50 L294.20,211.50 L294.30,211.50 L294.40,211.49 L294.50,211.49 L294.60,211.49 L294.70,211.49 L294.80,211.48 L294.90,211.48 L295.00,211.48 L295.10,211.47 L295.20,211.44 L295.30,211.36 L295.40,211.20 L295.50,210.91 L295.60,210.54 L295.70,210.20 L295.80,210.06 L295.90,210.20 L296.00,210.54 L296.10,210.91 L296.20,211.20 L296.30,211.36 L296.40,211.44 L296.50,211.47 L296.60,211.48 L296.70,211.48 L296.80,211.48 L296.90,211.49 L297.00,211.49 L297.10,211.49 L297.20,211.49 L297.30,211.50 L297.40,211.50 L297.50,211.50 L297.60,211.50 L297.70,211.50 L297.80,211.50 L297.90,211.50 L298.00,211.50 L298.10,211.50 L298.20,211.50 L298.30,211.50 L298.40,211.50 L298.50,211.50 L298.60,211.50 L298.70,211.50 L298.80,211.50" stroke="#47a842" stroke-width="1.0" fill="none" stroke-linejoin="round"/>
<path d="M304.00,211.50 L304.10,211.50 L304.20,211.50 L304.30,211.50 L304.40,211.50 L304.50,211.50 L304.60,211.50 L304.70,211.50 L304.80,211.50 L304.90,211.50 L305.00,211.50 L305.10,211.50 L305.20,211.50 L305.30,211.50 L305.40,211.50 L305.50,211.50 L305.60,211.49 L305.70,211.49 L305.80,211.49 L305.90,211.49 L306.00,211.48 L306.10,211.48 L306.20,211.48 L306.30,211.47 L306.40,211.44 L306.50,211.36 L306.60,211.20 L306.70,210.91 L306.80,210.54 L306.90,210.20 L307.00,210.06 L307.10,210.20 L307.20,210.54 L307.30,210.91 L307.40,211.20 L307.50,211.36 L307.60,211.44 L307.70,211.47 L307.80,211.48 L307.90,211.48 L308.00,211.48 L308.10,211.49 L308.20,211.49 L308.30,211.49 L308.40,211.49 L308.50,211.50 L308.60,211.50 L308.70,211.50 L308.80,211.50 L308.90,211.50 L309.00,211.50 L309.10,211.50 L309.20,211.50 L309.30,211.50 L309.40,211.50 L309.50,211.50 L309.60,211.50 L309.70,211.50 L309.80,211.50 L309.90,211.50 L310.00,211.50" stroke="#c8323a" stroke-width="1.0" fill="none" stroke-linejoin="round"/>
<path d="M311.90,211.50 L312.00,211.50 L312.10,211.50 L312.20,211.50 L312.30,211.50 L312.40,211.50 L312.50,211.50 L312.60,211.50 L312.70,211.50 L312.80,211.50 L312.90,211.49 L313.00,211.49 L313.10,211.49 L313.20,211.48 L313.30,211.48 L313.40,211.47 L313.50,211.45 L313.60,211.44 L313.70,211.42 L313.80,211.40 L313.90,211.38 L314.00,211.35 L314.10,211.31 L314.20,211.23 L314.30,211.00 L314.40,210.40 L314.50,209.08 L314.60,206.79 L314.70,203.79 L314.80,201.10 L314.90,200.00 L315.00,201.10 L315.10,203.79 L315.20,206.79 L315.30,209.08 L315.40,210.40 L315.50,211.00 L315.60,211.23 L315.70,211.31 L315.80,211.35 L315.90,211.38 L316.00,211.40 L316.10,211.42 L316.20,211.44 L316.30,211.45 L316.40,211.47 L316.50,211.48 L316.60,211.48 L316.70,211.49 L316.80,211.49 L316.90,211.49 L317.00,211.50 L317.10,211.50 L317.20,211.50 L317.30,211.50 L317.40,211.50 L317.50,211.50 L317.60,211.50 L317.70,211.50 L317.80,211.50 L317.90,211.50" stroke="#c8323a" stroke-width="1.0" fill="none" stroke-linejoin="round"/>
<path d="M321.90,211.50 L322.00,211.50 L322.10,211.50 L322.20,211.50 L322.30,211.50 L322.40,211.50 L322.50,211.50 L322.60,211.50 L322.70,211.49 L322.80,211.49 L322.90,211.48 L323.00,211.48 L323.10,211.47 L323.20,211.45 L323.30,211.43 L323.40,211.41 L323.50,211.37 L323.60,211.33 L323.70,211.29 L323.80,211.23 L323.90,211.16 L324.00,211.09 L324.10,210.97 L324.20,210.74 L324.30,210.10 L324.40,208.43 L324.50,204.76 L324.60,198.39 L324.70,190.06 L324.80,182.56 L324.90,179.50 L325.00,182.56 L325.10,190.06 L325.20,198.39 L325.30,204.76 L325.40,208.43 L325.50,210.10 L325.60,210.74 L325.70,210.97 L325.80,211.09 L325.90,211.16 L326.00,211.23 L326.10,211.29 L326.20,211.33 L326.30,211.37 L326.40,211.41 L326.50,211.43 L326.60,211.45 L326.70,211.47 L326.80,211.48 L326.90,211.48 L327.00,211.49 L327.10,211.49 L327.20,211.50 L327.30,211.50 L327.40,211.50 L327.50,211.50 L327.60,211.50 L327.70,211.50 L327.80,211.50 L327.90,211.50" stroke="#c8323a" stroke-width="1.0" fill="none" stroke-linejoin="round"/>
<path d="M332.80,211.50 L332.90,211.50 L333.00,211.50 L333.10,211.50 L333.20,211.50 L333.30,211.50 L333.40,211.50 L333.50,211.50 L333.60,211.49 L333.70,211.49 L333.80,211.49 L333.90,211.48 L334.00,211.47 L334.10,211.46 L334.20,211.45 L334.30,211.43 L334.40,211.40 L334.50,211.37 L334.60,211.33 L334.70,211.29 L334.80,211.24 L334.90,211.17 L335.00,211.09 L335.10,210.90 L335.20,210.40 L335.30,209.09 L335.40,206.20 L335.50,201.19 L335.60,194.63 L335.70,188.74 L335.80,186.34 L335.90,188.74 L336.00,194.63 L336.10,201.19 L336.20,206.20 L336.30,209.09 L336.40,210.40 L336.50,210.90 L336.60,211.09 L336.70,211.17 L336.80,211.24 L336.90,211.29 L337.00,211.33 L337.10,211.37 L337.20,211.40 L337.30,211.43 L337.40,211.45 L337.50,211.46 L337.60,211.47 L337.70,211.48 L337.80,211.49 L337.90,211.49 L338.00,211.49 L338.10,211.50 L338.20,211.50 L338.30,211.50 L338.40,211.50 L338.50,211.50 L338.60,211.50 L338.70,211.50 L338.80,211.50" stroke="#c8323a" stroke-width="1.0" fill="none" stroke-linejoin="round"/>
<path d="M344.60,211.50 L344.70,211.50 L344.80,211.50 L344.90,211.50 L345.00,211.50 L345.10,211.50 L345.20,211.50 L345.30,211.50 L345.40,211.50 L345.50,211.50 L345.60,211.50 L345.70,211.49 L345.80,211.49 L345.90,211.49 L346.00,211.48 L346.10,211.48 L346.20,211.47 L346.30,211.46 L346.40,211.45 L346.50,211.44 L346.60,211.42 L346.70,211.41 L346.80,211.38 L346.90,211.33 L347.00,211.19 L347.10,210.81 L347.20,209.99 L347.30,208.55 L347.40,206.68 L347.50,205.00 L347.60,204.31 L347.70,205.00 L347.80,206.68 L347.90,208.55 L348.00,209.99 L348.10,210.81 L348.20,211.19 L348.30,211.33 L348.40,211.38 L348.50,211.41 L348.60,211.42 L348.70,211.44 L348.80,211.45 L348.90,211.46 L349.00,211.47 L349.10,211.48 L349.20,211.48 L349.30,211.49 L349.40,211.49 L349.50,211.49 L349.60,211.50 L349.70,211.50 L349.80,211.50 L349.90,211.50 L350.00,211.50 L350.10,211.50 L350.20,211.50 L350.30,211.50 L350.40,211.50 L350.50,211.50 L350.60,211.50" stroke="#c8323a" stroke-width="1.0" fill="none" stroke-linejoin="round"/>
<path d="M207.00,303.60 L207.10,303.60 L207.20,303.60 L207.30,303.60 L207.40,303.60 L207.50,303.60 L207.60,303.60 L207.70,303.60 L207.80,303.60 L207.90,303.60 L208.00,303.60 L208.10,303.60 L208.20,303.60 L208.30,303.59 L208.40,303.59 L208.50,303.59 L208.60,303.58 L208.70,303.58 L208.80,303.57 L208.90,303.55 L209.00,303.53 L209.10,303.50 L209.20,303.44 L209.30,303.35 L209.40,303.23 L209.50,303.05 L209.60,302.85 L209.70,302.63 L209.80,302.42 L209.90,302.27 L210.00,302.18 L210.10,302.14 L210.20,302.05 L210.30,301.75 L210.40,301.01 L210.50,299.77 L210.60,298.22 L210.70,296.90 L210.80,296.41 L210.90,297.04 L211.00,298.52 L211.10,300.25 L211.20,301.70 L211.30,302.65 L211.40,303.15 L211.50,303.38 L211.60,303.47 L211.70,303.50 L211.80,303.53 L211.90,303.54 L212.00,303.55 L212.10,303.56 L212.20,303.57 L212.30,303.58 L212.40,303.58 L212.50,303.59 L212.60,303.59 L212.70,303.59 L212.80,303.60 L212.90,303.60 L213.00,303.60 L213.10,303.60 L213.20,303.60 L213.30,303.60 L213.40,303.60 L213.50,303.60 L213.60,303.60 L213.70,303.60 L213.80,303.60" stroke="#f08a32" stroke-width="1.1" fill="none" stroke-linejoin="round"/>
<path d="M217.40,303.60 L217.50,303.60 L217.60,303.60 L217.70,303.60 L217.80,303.60 L217.90,303.60 L218.00,303.60 L218.10,303.59 L218.20,303.59 L218.30,303.59 L218.40,303.58 L218.50,303.57 L218.60,303.56 L218.70,303.54 L218.80,303.51 L218.90,303.48 L219.00,303.43 L219.10,303.37 L219.20,303.28 L219.30,303.15 L219.40,302.93 L219.50,302.58 L219.60,302.01 L219.70,301.13 L219.80,299.86 L219.90,298.15 L220.00,296.08 L220.10,293.87 L220.20,291.83 L220.30,290.29 L220.40,289.44 L220.50,289.03 L220.60,288.15 L220.70,285.06 L220.80,277.74 L220.90,265.31 L221.00,249.80 L221.10,236.57 L221.20,231.70 L221.30,237.96 L221.40,252.75 L221.50,270.09 L221.60,284.62 L221.70,294.11 L221.80,299.13 L221.90,301.37 L222.00,302.27 L222.10,302.65 L222.20,302.86 L222.30,303.01 L222.40,303.13 L222.50,303.23 L222.60,303.31 L222.70,303.38 L222.80,303.44 L222.90,303.48 L223.00,303.51 L223.10,303.54 L223.20,303.56 L223.30,303.57 L223.40,303.58 L223.50,303.59 L223.60,303.59 L223.70,303.59 L223.80,303.60 L223.90,303.60 L224.00,303.60 L224.10,303.60 L224.20,303.60" stroke="#f08a32" stroke-width="1.1" fill="none" stroke-linejoin="round"/>
<path d="M229.70,303.60 L229.80,303.60 L229.90,303.60 L230.00,303.60 L230.10,303.60 L230.20,303.60 L230.30,303.60 L230.40,303.60 L230.50,303.60 L230.60,303.60 L230.70,303.59 L230.80,303.59 L230.90,303.59 L231.00,303.58 L231.10,303.57 L231.20,303.56 L231.30,303.54 L231.40,303.52 L231.50,303.49 L231.60,303.45 L231.70,303.37 L231.80,303.25 L231.90,303.06 L232.00,302.76 L232.10,302.33 L232.20,301.75 L232.30,301.04 L232.40,300.29 L232.50,299.60 L232.60,299.08 L232.70,298.78 L232.80,298.65 L232.90,298.35 L233.00,297.30 L233.10,294.81 L233.20,290.58 L233.30,285.31 L233.40,280.81 L233.50,279.15 L233.60,281.28 L233.70,286.31 L233.80,292.21 L233.90,297.15 L234.00,300.37 L234.10,302.08 L234.20,302.84 L234.30,303.15 L234.40,303.28 L234.50,303.35 L234.60,303.40 L234.70,303.44 L234.80,303.47 L234.90,303.50 L235.00,303.53 L235.10,303.54 L235.20,303.56 L235.30,303.57 L235.40,303.58 L235.50,303.59 L235.60,303.59 L235.70,303.59 L235.80,303.60 L235.90,303.60 L236.00,303.60 L236.10,303.60 L236.20,303.60 L236.30,303.60 L236.40,303.60 L236.50,303.60" stroke="#f08a32" stroke-width="1.1" fill="none" stroke-linejoin="round"/>
<path d="M247.20,303.60 L247.30,303.60 L247.40,303.60 L247.50,303.60 L247.60,303.60 L247.70,303.60 L247.80,303.60 L247.90,303.60 L248.00,303.60 L248.10,303.60 L248.20,303.60 L248.30,303.60 L248.40,303.60 L248.50,303.60 L248.60,303.59 L248.70,303.59 L248.80,303.59 L248.90,303.59 L249.00,303.58 L249.10,303.58 L249.20,303.57 L249.30,303.56 L249.40,303.55 L249.50,303.53 L249.60,303.47 L249.70,303.32 L249.80,302.99 L249.90,302.42 L250.00,301.67 L250.10,301.00 L250.20,300.72 L250.30,301.00 L250.40,301.67 L250.50,302.42 L250.60,302.99 L250.70,303.32 L250.80,303.47 L250.90,303.53 L251.00,303.55 L251.10,303.56 L251.20,303.57 L251.30,303.58 L251.40,303.58 L251.50,303.59 L251.60,303.59 L251.70,303.59 L251.80,303.59 L251.90,303.60 L252.00,303.60 L252.10,303.60 L252.20,303.60 L252.30,303.60 L252.40,303.60 L252.50,303.60 L252.60,303.60 L252.70,303.60 L252.80,303.60 L252.90,303.60 L253.00,303.60 L253.10,303.60 L253.20,303.60" stroke="#47a842" stroke-width="1.0" fill="none" stroke-linejoin="round"/>
<path d="M268.20,303.60 L268.30,303.60 L268.40,303.60 L268.50,303.60 L268.60,303.60 L268.70,303.60 L268.80,303.60 L268.90,303.60 L269.00,303.60 L269.10,303.60 L269.20,303.60 L269.30,303.60 L269.40,303.60 L269.50,303.59 L269.60,303.59 L269.70,303.59 L269.80,303.59 L269.90,303.58 L270.00,303.58 L270.10,303.57 L270.20,303.56 L270.30,303.55 L270.40,303.54 L270.50,303.51 L270.60,303.44 L270.70,303.26 L270.80,302.84 L270.90,302.13 L271.00,301.19 L271.10,300.35 L271.20,300.00 L271.30,300.35 L271.40,301.19 L271.50,302.13 L271.60,302.84 L271.70,303.26 L271.80,303.44 L271.90,303.51 L272.00,303.54 L272.10,303.55 L272.20,303.56 L272.30,303.57 L272.40,303.58 L272.50,303.58 L272.60,303.59 L272.70,303.59 L272.80,303.59 L272.90,303.59 L273.00,303.60 L273.10,303.60 L273.20,303.60 L273.30,303.60 L273.40,303.60 L273.50,303.60 L273.60,303.60 L273.70,303.60 L273.80,303.60 L273.90,303.60 L274.00,303.60 L274.10,303.60 L274.20,303.60" stroke="#47a842" stroke-width="1.0" fill="none" stroke-linejoin="round"/>
<path d="M278.80,303.60 L278.90,303.60 L279.00,303.60 L279.10,303.60 L279.20,303.60 L279.30,303.60 L279.40,303.60 L279.50,303.60 L279.60,303.60 L279.70,303.60 L279.80,303.60 L279.90,303.60 L280.00,303.60 L280.10,303.59 L280.20,303.59 L280.30,303.59 L280.40,303.58 L280.50,303.58 L280.60,303.57 L280.70,303.57 L280.80,303.56 L280.90,303.55 L281.00,303.53 L281.10,303.51 L281.20,303.43 L281.30,303.22 L281.40,302.77 L281.50,301.98 L281.60,300.95 L281.70,300.02 L281.80,299.65 L281.90,300.02 L282.00,300.95 L282.10,301.98 L282.20,302.77 L282.30,303.22 L282.40,303.43 L282.50,303.51 L282.60,303.53 L282.70,303.55 L282.80,303.56 L282.90,303.57 L283.00,303.57 L283.10,303.58 L283.20,303.58 L283.30,303.59 L283.40,303.59 L283.50,303.59 L283.60,303.60 L283.70,303.60 L283.80,303.60 L283.90,303.60 L284.00,303.60 L284.10,303.60 L284.20,303.60 L284.30,303.60 L284.40,303.60 L284.50,303.60 L284.60,303.60 L284.70,303.60 L284.80,303.60" stroke="#47a842" stroke-width="1.0" fill="none" stroke-linejoin="round"/>
<path d="M312.00,303.60 L312.10,303.60 L312.20,303.60 L312.30,303.60 L312.40,303.60 L312.50,303.60 L312.60,303.60 L312.70,303.60 L312.80,303.60 L312.90,303.60 L313.00,303.60 L313.10,303.60 L313.20,303.60 L313.30,303.59 L313.40,303.59 L313.50,303.59 L313.60,303.59 L313.70,303.58 L313.80,303.58 L313.90,303.57 L314.00,303.56 L314.10,303.55 L314.20,303.54 L314.30,303.51 L314.40,303.44 L314.50,303.26 L314.60,302.84 L314.70,302.13 L314.80,301.19 L314.90,300.35 L315.00,300.00 L315.10,300.35 L315.20,301.19 L315.30,302.13 L315.40,302.84 L315.50,303.26 L315.60,303.44 L315.70,303.51 L315.80,303.54 L315.90,303.55 L316.00,303.56 L316.10,303.57 L316.20,303.58 L316.30,303.58 L316.40,303.59 L316.50,303.59 L316.60,303.59 L316.70,303.59 L316.80,303.60 L316.90,303.60 L317.00,303.60 L317.10,303.60 L317.20,303.60 L317.30,303.60 L317.40,303.60 L317.50,303.60 L317.60,303.60 L317.70,303.60 L317.80,303.60 L317.90,303.60 L318.00,303.60" stroke="#c8323a" stroke-width="1.0" fill="none" stroke-linejoin="round"/>
<path d="M322.00,303.60 L322.10,303.60 L322.20,303.60 L322.30,303.60 L322.40,303.60 L322.50,303.60 L322.60,303.60 L322.70,303.60 L322.80,303.60 L322.90,303.60 L323.00,303.60 L323.10,303.59 L323.20,303.59 L323.30,303.59 L323.40,303.58 L323.50,303.57 L323.60,303.57 L323.70,303.56 L323.80,303.54 L323.90,303.53 L324.00,303.51 L324.10,303.49 L324.20,303.46 L324.30,303.39 L324.40,303.22 L324.50,302.77 L324.60,301.78 L324.70,300.06 L324.80,297.82 L324.90,295.80 L325.00,294.97 L325.10,295.80 L325.20,297.82 L325.30,300.06 L325.40,301.78 L325.50,302.77 L325.60,303.22 L325.70,303.39 L325.80,303.46 L325.90,303.49 L326.00,303.51 L326.10,303.53 L326.20,303.54 L326.30,303.56 L326.40,303.57 L326.50,303.57 L326.60,303.58 L326.70,303.59 L326.80,303.59 L326.90,303.59 L327.00,303.60 L327.10,303.60 L327.20,303.60 L327.30,303.60 L327.40,303.60 L327.50,303.60 L327.60,303.60 L327.70,303.60 L327.80,303.60 L327.90,303.60 L328.00,303.60" stroke="#c8323a" stroke-width="1.0" fill="none" stroke-linejoin="round"/>
<path d="M332.50,303.60 L332.60,303.60 L332.70,303.60 L332.80,303.60 L332.90,303.60 L333.00,303.60 L333.10,303.60 L333.20,303.60 L333.30,303.60 L333.40,303.60 L333.50,303.60 L333.60,303.60 L333.70,303.59 L333.80,303.59 L333.90,303.59 L334.00,303.58 L334.10,303.57 L334.20,303.57 L334.30,303.56 L334.40,303.55 L334.50,303.53 L334.60,303.52 L334.70,303.49 L334.80,303.45 L334.90,303.32 L335.00,302.98 L335.10,302.24 L335.20,300.95 L335.30,299.26 L335.40,297.75 L335.50,297.13 L335.60,297.75 L335.70,299.26 L335.80,300.95 L335.90,302.24 L336.00,302.98 L336.10,303.32 L336.20,303.45 L336.30,303.49 L336.40,303.52 L336.50,303.53 L336.60,303.55 L336.70,303.56 L336.80,303.57 L336.90,303.57 L337.00,303.58 L337.10,303.59 L337.20,303.59 L337.30,303.59 L337.40,303.60 L337.50,303.60 L337.60,303.60 L337.70,303.60 L337.80,303.60 L337.90,303.60 L338.00,303.60 L338.10,303.60 L338.20,303.60 L338.30,303.60 L338.40,303.60 L338.50,303.60" stroke="#c8323a" stroke-width="1.0" fill="none" stroke-linejoin="round"/>
<path d="M344.60,303.60 L344.70,303.60 L344.80,303.60 L344.90,303.60 L345.00,303.60 L345.10,303.60 L345.20,303.60 L345.30,303.60 L345.40,303.60 L345.50,303.60 L345.60,303.60 L345.70,303.60 L345.80,303.60 L345.90,303.60 L346.00,303.60 L346.10,303.59 L346.20,303.59 L346.30,303.59 L346.40,303.59 L346.50,303.58 L346.60,303.58 L346.70,303.57 L346.80,303.56 L346.90,303.55 L347.00,303.51 L347.10,303.39 L347.20,303.15 L347.30,302.72 L347.40,302.15 L347.50,301.65 L347.60,301.44 L347.70,301.65 L347.80,302.15 L347.90,302.72 L348.00,303.15 L348.10,303.39 L348.20,303.51 L348.30,303.55 L348.40,303.56 L348.50,303.57 L348.60,303.58 L348.70,303.58 L348.80,303.59 L348.90,303.59 L349.00,303.59 L349.10,303.59 L349.20,303.60 L349.30,303.60 L349.40,303.60 L349.50,303.60 L349.60,303.60 L349.70,303.60 L349.80,303.60 L349.90,303.60 L350.00,303.60 L350.10,303.60 L350.20,303.60 L350.30,303.60 L350.40,303.60 L350.50,303.60 L350.60,303.60" stroke="#c8323a" stroke-width="1.0" fill="none" stroke-linejoin="round"/>
<path d="M207.20,396.00 L207.30,396.00 L207.40,396.00 L207.50,396.00 L207.60,396.00 L207.70,396.00 L207.80,396.00 L207.90,396.00 L208.00,396.00 L208.10,396.00 L208.20,396.00 L208.30,396.00 L208.40,396.00 L208.50,395.99 L208.60,395.99 L208.70,395.99 L208.80,395.99 L208.90,395.98 L209.00,395.97 L209.10,395.96 L209.20,395.94 L209.30,395.91 L209.40,395.87 L209.50,395.79 L209.60,395.68 L209.70,395.54 L209.80,395.36 L209.90,395.17 L210.00,395.00 L210.10,394.87 L210.20,394.80 L210.30,394.76 L210.40,394.69 L210.50,394.42 L210.60,393.80 L210.70,392.74 L210.80,391.43 L210.90,390.30 L211.00,389.89 L211.10,390.42 L211.20,391.68 L211.30,393.15 L211.40,394.39 L211.50,395.19 L211.60,395.62 L211.70,395.81 L211.80,395.89 L211.90,395.92 L212.00,395.94 L212.10,395.95 L212.20,395.96 L212.30,395.97 L212.40,395.98 L212.50,395.98 L212.60,395.99 L212.70,395.99 L212.80,395.99 L212.90,395.99 L213.00,396.00 L213.10,396.00 L213.20,396.00 L213.30,396.00 L213.40,396.00 L213.50,396.00 L213.60,396.00 L213.70,396.00 L213.80,396.00 L213.90,396.00 L214.00,396.00" stroke="#f08a32" stroke-width="1.1" fill="none" stroke-linejoin="round"/>
<path d="M217.70,396.00 L217.80,396.00 L217.90,396.00 L218.00,396.00 L218.10,396.00 L218.20,396.00 L218.30,396.00 L218.40,395.99 L218.50,395.99 L218.60,395.99 L218.70,395.98 L218.80,395.97 L218.90,395.96 L219.00,395.94 L219.10,395.92 L219.20,395.88 L219.30,395.84 L219.40,395.78 L219.50,395.69 L219.60,395.56 L219.70,395.35 L219.80,395.01 L219.90,394.47 L220.00,393.61 L220.10,392.38 L220.20,390.73 L220.30,388.73 L220.40,386.59 L220.50,384.61 L220.60,383.12 L220.70,382.30 L220.80,381.90 L220.90,381.05 L221.00,378.06 L221.10,370.96 L221.20,358.86 L221.30,343.64 L221.40,330.25 L221.50,324.10 L221.60,327.15 L221.70,336.03 L221.80,344.47 L221.90,347.77 L222.00,345.73 L222.10,341.93 L222.20,340.82 L222.30,344.97 L222.40,354.00 L222.50,365.42 L222.60,376.31 L222.70,384.78 L222.80,390.30 L222.90,393.39 L223.00,394.89 L223.10,395.54 L223.20,395.79 L223.30,395.89 L223.40,395.93 L223.50,395.96 L223.60,395.97 L223.70,395.98 L223.80,395.99 L223.90,395.99 L224.00,395.99 L224.10,396.00 L224.20,396.00 L224.30,396.00 L224.40,396.00 L224.50,396.00 L224.60,396.00 L224.70,396.00 L224.80,396.00 L224.90,396.00 L225.00,396.00 L225.10,396.00 L225.20,396.00" stroke="#f08a32" stroke-width="1.1" fill="none" stroke-linejoin="round"/>
<path d="M230.40,396.00 L230.50,396.00 L230.60,396.00 L230.70,396.00 L230.80,396.00 L230.90,396.00 L231.00,396.00 L231.10,396.00 L231.20,396.00 L231.30,396.00 L231.40,395.99 L231.50,395.99 L231.60,395.99 L231.70,395.98 L231.80,395.98 L231.90,395.97 L232.00,395.96 L232.10,395.94 L232.20,395.92 L232.30,395.88 L232.40,395.83 L232.50,395.73 L232.60,395.59 L232.70,395.36 L232.80,395.03 L232.90,394.58 L233.00,394.05 L233.10,393.47 L233.20,392.94 L233.30,392.54 L233.40,392.32 L233.50,392.21 L233.60,391.98 L233.70,391.18 L233.80,389.28 L233.90,386.04 L234.00,382.01 L234.10,378.57 L234.20,377.31 L234.30,378.93 L234.40,382.78 L234.50,387.29 L234.60,391.07 L234.70,393.53 L234.80,394.84 L234.90,395.42 L235.00,395.65 L235.10,395.75 L235.20,395.81 L235.30,395.85 L235.40,395.88 L235.50,395.90 L235.60,395.93 L235.70,395.94 L235.80,395.96 L235.90,395.97 L236.00,395.98 L236.10,395.98 L236.20,395.99 L236.30,395.99 L236.40,395.99 L236.50,396.00 L236.60,396.00 L236.70,396.00 L236.80,396.00 L236.90,396.00 L237.00,396.00 L237.10,396.00 L237.20,396.00" stroke="#f08a32" stroke-width="1.1" fill="none" stroke-linejoin="round"/>
<path d="M235.00,119.50 L235.10,119.50 L235.20,119.50 L235.30,119.50 L235.40,119.50 L235.50,119.49 L235.60,119.49 L235.70,119.49 L235.80,119.48 L235.90,119.47 L236.00,119.46 L236.10,119.45 L236.20,119.43 L236.30,119.41 L236.40,119.38 L236.50,119.35 L236.60,119.31 L236.70,119.27 L236.80,119.22 L236.90,119.16 L237.00,119.10 L237.10,119.04 L237.20,118.98 L237.30,118.91 L237.40,118.85 L237.50,118.79 L237.60,118.74 L237.70,118.70 L237.80,118.66 L237.90,118.64 L238.00,118.64 L238.10,118.64 L238.20,118.66 L238.30,118.70 L238.40,118.74 L238.50,118.79 L238.60,118.85 L238.70,118.91 L238.80,118.98 L238.90,119.04 L239.00,119.10 L239.10,119.16 L239.20,119.22 L239.30,119.27 L239.40,119.31 L239.50,119.35 L239.60,119.38 L239.70,119.41 L239.80,119.43 L239.90,119.45 L240.00,119.46 L240.10,119.47 L240.20,119.48 L240.30,119.49 L240.40,119.49 L240.50,119.49 L240.60,119.50 L240.70,119.50 L240.80,119.50 L240.90,119.50 L241.00,119.50" stroke="#222" stroke-width="0.9" fill="none" stroke-linejoin="round"/>
<path d="M241.00,119.50 L241.10,119.50 L241.20,119.50 L241.30,119.50 L241.40,119.49 L241.50,119.49 L241.60,119.49 L241.70,119.48 L241.80,119.47 L241.90,119.46 L242.00,119.45 L242.10,119.43 L242.20,119.41 L242.30,119.38 L242.40,119.34 L242.50,119.30 L242.60,119.25 L242.70,119.19 L242.80,119.13 L242.90,119.05 L243.00,118.97 L243.10,118.89 L243.20,118.80 L243.30,118.72 L243.40,118.63 L243.50,118.55 L243.60,118.48 L243.70,118.43 L243.80,118.38 L243.90,118.36 L244.00,118.35 L244.10,118.36 L244.20,118.38 L244.30,118.43 L244.40,118.48 L244.50,118.55 L244.60,118.63 L244.70,118.72 L244.80,118.80 L244.90,118.89 L245.00,118.97 L245.10,119.05 L245.20,119.13 L245.30,119.19 L245.40,119.25 L245.50,119.30 L245.60,119.34 L245.70,119.38 L245.80,119.41 L245.90,119.43 L246.00,119.45 L246.10,119.46 L246.20,119.47 L246.30,119.48 L246.40,119.49 L246.50,119.49 L246.60,119.49 L246.70,119.50 L246.80,119.50 L246.90,119.50 L247.00,119.50" stroke="#222" stroke-width="0.9" fill="none" stroke-linejoin="round"/>
<path d="M247.00,119.50 L247.10,119.50 L247.20,119.50 L247.30,119.50 L247.40,119.50 L247.50,119.49 L247.60,119.49 L247.70,119.49 L247.80,119.48 L247.90,119.48 L248.00,119.47 L248.10,119.46 L248.20,119.45 L248.30,119.43 L248.40,119.41 L248.50,119.38 L248.60,119.35 L248.70,119.32 L248.80,119.28 L248.90,119.23 L249.00,119.18 L249.10,119.13 L249.20,119.08 L249.30,119.03 L249.40,118.98 L249.50,118.93 L249.60,118.89 L249.70,118.86 L249.80,118.83 L249.90,118.82 L250.00,118.81 L250.10,118.82 L250.20,118.83 L250.30,118.86 L250.40,118.89 L250.50,118.93 L250.60,118.98 L250.70,119.03 L250.80,119.08 L250.90,119.13 L251.00,119.18 L251.10,119.23 L251.20,119.28 L251.30,119.32 L251.40,119.35 L251.50,119.38 L251.60,119.41 L251.70,119.43 L251.80,119.45 L251.90,119.46 L252.00,119.47 L252.10,119.48 L252.20,119.48 L252.30,119.49 L252.40,119.49 L252.50,119.49 L252.60,119.50 L252.70,119.50 L252.80,119.50 L252.90,119.50 L253.00,119.50" stroke="#222" stroke-width="0.9" fill="none" stroke-linejoin="round"/>
<path d="M253.00,119.50 L253.10,119.50 L253.20,119.50 L253.30,119.50 L253.40,119.50 L253.50,119.50 L253.60,119.49 L253.70,119.49 L253.80,119.49 L253.90,119.48 L254.00,119.47 L254.10,119.47 L254.20,119.45 L254.30,119.44 L254.40,119.42 L254.50,119.40 L254.60,119.38 L254.70,119.35 L254.80,119.31 L254.90,119.28 L255.00,119.24 L255.10,119.19 L255.20,119.15 L255.30,119.11 L255.40,119.07 L255.50,119.03 L255.60,118.99 L255.70,118.96 L255.80,118.94 L255.90,118.93 L256.00,118.92 L256.10,118.93 L256.20,118.94 L256.30,118.96 L256.40,118.99 L256.50,119.03 L256.60,119.07 L256.70,119.11 L256.80,119.15 L256.90,119.19 L257.00,119.24 L257.10,119.28 L257.20,119.31 L257.30,119.35 L257.40,119.38 L257.50,119.40 L257.60,119.42 L257.70,119.44 L257.80,119.45 L257.90,119.47 L258.00,119.47 L258.10,119.48 L258.20,119.49 L258.30,119.49 L258.40,119.49 L258.50,119.50 L258.60,119.50 L258.70,119.50 L258.80,119.50 L258.90,119.50 L259.00,119.50" stroke="#222" stroke-width="0.9" fill="none" stroke-linejoin="round"/>
<path d="M260.00,119.50 L260.10,119.50 L260.20,119.50 L260.30,119.50 L260.40,119.50 L260.50,119.50 L260.60,119.49 L260.70,119.49 L260.80,119.49 L260.90,119.49 L261.00,119.48 L261.10,119.47 L261.20,119.46 L261.30,119.45 L261.40,119.44 L261.50,119.42 L261.60,119.40 L261.70,119.38 L261.80,119.35 L261.90,119.32 L262.00,119.29 L262.10,119.26 L262.20,119.22 L262.30,119.19 L262.40,119.15 L262.50,119.12 L262.60,119.09 L262.70,119.07 L262.80,119.05 L262.90,119.04 L263.00,119.04 L263.10,119.04 L263.20,119.05 L263.30,119.07 L263.40,119.09 L263.50,119.12 L263.60,119.15 L263.70,119.19 L263.80,119.22 L263.90,119.26 L264.00,119.29 L264.10,119.32 L264.20,119.35 L264.30,119.38 L264.40,119.40 L264.50,119.42 L264.60,119.44 L264.70,119.45 L264.80,119.46 L264.90,119.47 L265.00,119.48 L265.10,119.49 L265.20,119.49 L265.30,119.49 L265.40,119.49 L265.50,119.50 L265.60,119.50 L265.70,119.50 L265.80,119.50 L265.90,119.50 L266.00,119.50" stroke="#222" stroke-width="0.9" fill="none" stroke-linejoin="round"/>
<path d="M272.00,119.50 L272.10,119.50 L272.20,119.50 L272.30,119.50 L272.40,119.50 L272.50,119.50 L272.60,119.49 L272.70,119.49 L272.80,119.49 L272.90,119.49 L273.00,119.48 L273.10,119.47 L273.20,119.46 L273.30,119.45 L273.40,119.44 L273.50,119.42 L273.60,119.40 L273.70,119.38 L273.80,119.35 L273.90,119.32 L274.00,119.29 L274.10,119.26 L274.20,119.22 L274.30,119.19 L274.40,119.15 L274.50,119.12 L274.60,119.09 L274.70,119.07 L274.80,119.05 L274.90,119.04 L275.00,119.04 L275.10,119.04 L275.20,119.05 L275.30,119.07 L275.40,119.09 L275.50,119.12 L275.60,119.15 L275.70,119.19 L275.80,119.22 L275.90,119.26 L276.00,119.29 L276.10,119.32 L276.20,119.35 L276.30,119.38 L276.40,119.40 L276.50,119.42 L276.60,119.44 L276.70,119.45 L276.80,119.46 L276.90,119.47 L277.00,119.48 L277.10,119.49 L277.20,119.49 L277.30,119.49 L277.40,119.49 L277.50,119.50 L277.60,119.50 L277.70,119.50 L277.80,119.50 L277.90,119.50 L278.00,119.50" stroke="#222" stroke-width="0.9" fill="none" stroke-linejoin="round"/>
<path d="M235.00,211.50 L235.10,211.50 L235.20,211.50 L235.30,211.50 L235.40,211.50 L235.50,211.49 L235.60,211.49 L235.70,211.49 L235.80,211.48 L235.90,211.47 L236.00,211.46 L236.10,211.45 L236.20,211.43 L236.30,211.41 L236.40,211.38 L236.50,211.35 L236.60,211.31 L236.70,211.27 L236.80,211.22 L236.90,211.16 L237.00,211.10 L237.10,211.04 L237.20,210.98 L237.30,210.91 L237.40,210.85 L237.50,210.79 L237.60,210.74 L237.70,210.70 L237.80,210.66 L237.90,210.64 L238.00,210.64 L238.10,210.64 L238.20,210.66 L238.30,210.70 L238.40,210.74 L238.50,210.79 L238.60,210.85 L238.70,210.91 L238.80,210.98 L238.90,211.04 L239.00,211.10 L239.10,211.16 L239.20,211.22 L239.30,211.27 L239.40,211.31 L239.50,211.35 L239.60,211.38 L239.70,211.41 L239.80,211.43 L239.90,211.45 L240.00,211.46 L240.10,211.47 L240.20,211.48 L240.30,211.49 L240.40,211.49 L240.50,211.49 L240.60,211.50 L240.70,211.50 L240.80,211.50 L240.90,211.50 L241.00,211.50" stroke="#222" stroke-width="0.9" fill="none" stroke-linejoin="round"/>
<path d="M241.00,211.50 L241.10,211.50 L241.20,211.50 L241.30,211.50 L241.40,211.49 L241.50,211.49 L241.60,211.49 L241.70,211.48 L241.80,211.47 L241.90,211.46 L242.00,211.45 L242.10,211.43 L242.20,211.41 L242.30,211.38 L242.40,211.34 L242.50,211.30 L242.60,211.25 L242.70,211.19 L242.80,211.13 L242.90,211.05 L243.00,210.97 L243.10,210.89 L243.20,210.80 L243.30,210.72 L243.40,210.63 L243.50,210.55 L243.60,210.48 L243.70,210.43 L243.80,210.38 L243.90,210.36 L244.00,210.35 L244.10,210.36 L244.20,210.38 L244.30,210.43 L244.40,210.48 L244.50,210.55 L244.60,210.63 L244.70,210.72 L244.80,210.80 L244.90,210.89 L245.00,210.97 L245.10,211.05 L245.20,211.13 L245.30,211.19 L245.40,211.25 L245.50,211.30 L245.60,211.34 L245.70,211.38 L245.80,211.41 L245.90,211.43 L246.00,211.45 L246.10,211.46 L246.20,211.47 L246.30,211.48 L246.40,211.49 L246.50,211.49 L246.60,211.49 L246.70,211.50 L246.80,211.50 L246.90,211.50 L247.00,211.50" stroke="#222" stroke-width="0.9" fill="none" stroke-linejoin="round"/>
<path d="M247.00,211.50 L247.10,211.50 L247.20,211.50 L247.30,211.50 L247.40,211.50 L247.50,211.49 L247.60,211.49 L247.70,211.49 L247.80,211.48 L247.90,211.48 L248.00,211.47 L248.10,211.46 L248.20,211.45 L248.30,211.43 L248.40,211.41 L248.50,211.38 L248.60,211.35 L248.70,211.32 L248.80,211.28 L248.90,211.23 L249.00,211.18 L249.10,211.13 L249.20,211.08 L249.30,211.03 L249.40,210.98 L249.50,210.93 L249.60,210.89 L249.70,210.86 L249.80,210.83 L249.90,210.82 L250.00,210.81 L250.10,210.82 L250.20,210.83 L250.30,210.86 L250.40,210.89 L250.50,210.93 L250.60,210.98 L250.70,211.03 L250.80,211.08 L250.90,211.13 L251.00,211.18 L251.10,211.23 L251.20,211.28 L251.30,211.32 L251.40,211.35 L251.50,211.38 L251.60,211.41 L251.70,211.43 L251.80,211.45 L251.90,211.46 L252.00,211.47 L252.10,211.48 L252.20,211.48 L252.30,211.49 L252.40,211.49 L252.50,211.49 L252.60,211.50 L252.70,211.50 L252.80,211.50 L252.90,211.50 L253.00,211.50" stroke="#222" stroke-width="0.9" fill="none" stroke-linejoin="round"/>
<path d="M253.00,211.50 L253.10,211.50 L253.20,211.50 L253.30,211.50 L253.40,211.50 L253.50,211.50 L253.60,211.49 L253.70,211.49 L253.80,211.49 L253.90,211.48 L254.00,211.47 L254.10,211.47 L254.20,211.45 L254.30,211.44 L254.40,211.42 L254.50,211.40 L254.60,211.38 L254.70,211.35 L254.80,211.31 L254.90,211.28 L255.00,211.24 L255.10,211.19 L255.20,211.15 L255.30,211.11 L255.40,211.07 L255.50,211.03 L255.60,210.99 L255.70,210.96 L255.80,210.94 L255.90,210.93 L256.00,210.92 L256.10,210.93 L256.20,210.94 L256.30,210.96 L256.40,210.99 L256.50,211.03 L256.60,211.07 L256.70,211.11 L256.80,211.15 L256.90,211.19 L257.00,211.24 L257.10,211.28 L257.20,211.31 L257.30,211.35 L257.40,211.38 L257.50,211.40 L257.60,211.42 L257.70,211.44 L257.80,211.45 L257.90,211.47 L258.00,211.47 L258.10,211.48 L258.20,211.49 L258.30,211.49 L258.40,211.49 L258.50,211.50 L258.60,211.50 L258.70,211.50 L258.80,211.50 L258.90,211.50 L259.00,211.50" stroke="#222" stroke-width="0.9" fill="none" stroke-linejoin="round"/>
<path d="M260.00,211.50 L260.10,211.50 L260.20,211.50 L260.30,211.50 L260.40,211.50 L260.50,211.50 L260.60,211.49 L260.70,211.49 L260.80,211.49 L260.90,211.49 L261.00,211.48 L261.10,211.47 L261.20,211.46 L261.30,211.45 L261.40,211.44 L261.50,211.42 L261.60,211.40 L261.70,211.38 L261.80,211.35 L261.90,211.32 L262.00,211.29 L262.10,211.26 L262.20,211.22 L262.30,211.19 L262.40,211.15 L262.50,211.12 L262.60,211.09 L262.70,211.07 L262.80,211.05 L262.90,211.04 L263.00,211.04 L263.10,211.04 L263.20,211.05 L263.30,211.07 L263.40,211.09 L263.50,211.12 L263.60,211.15 L263.70,211.19 L263.80,211.22 L263.90,211.26 L264.00,211.29 L264.10,211.32 L264.20,211.35 L264.30,211.38 L264.40,211.40 L264.50,211.42 L264.60,211.44 L264.70,211.45 L264.80,211.46 L264.90,211.47 L265.00,211.48 L265.10,211.49 L265.20,211.49 L265.30,211.49 L265.40,211.49 L265.50,211.50 L265.60,211.50 L265.70,211.50 L265.80,211.50 L265.90,211.50 L266.00,211.50" stroke="#222" stroke-width="0.9" fill="none" stroke-linejoin="round"/>
<path d="M272.00,211.50 L272.10,211.50 L272.20,211.50 L272.30,211.50 L272.40,211.50 L272.50,211.50 L272.60,211.49 L272.70,211.49 L272.80,211.49 L272.90,211.49 L273.00,211.48 L273.10,211.47 L273.20,211.46 L273.30,211.45 L273.40,211.44 L273.50,211.42 L273.60,211.40 L273.70,211.38 L273.80,211.35 L273.90,211.32 L274.00,211.29 L274.10,211.26 L274.20,211.22 L274.30,211.19 L274.40,211.15 L274.50,211.12 L274.60,211.09 L274.70,211.07 L274.80,211.05 L274.90,211.04 L275.00,211.04 L275.10,211.04 L275.20,211.05 L275.30,211.07 L275.40,211.09 L275.50,211.12 L275.60,211.15 L275.70,211.19 L275.80,211.22 L275.90,211.26 L276.00,211.29 L276.10,211.32 L276.20,211.35 L276.30,211.38 L276.40,211.40 L276.50,211.42 L276.60,211.44 L276.70,211.45 L276.80,211.46 L276.90,211.47 L277.00,211.48 L277.10,211.49 L277.20,211.49 L277.30,211.49 L277.40,211.49 L277.50,211.50 L277.60,211.50 L277.70,211.50 L277.80,211.50 L277.90,211.50 L278.00,211.50" stroke="#222" stroke-width="0.9" fill="none" stroke-linejoin="round"/>
<path d="M235.00,303.60 L235.10,303.60 L235.20,303.60 L235.30,303.60 L235.40,303.60 L235.50,303.59 L235.60,303.59 L235.70,303.59 L235.80,303.58 L235.90,303.57 L236.00,303.56 L236.10,303.55 L236.20,303.53 L236.30,303.51 L236.40,303.48 L236.50,303.45 L236.60,303.41 L236.70,303.37 L236.80,303.32 L236.90,303.26 L237.00,303.20 L237.10,303.14 L237.20,303.08 L237.30,303.01 L237.40,302.95 L237.50,302.89 L237.60,302.84 L237.70,302.80 L237.80,302.76 L237.90,302.74 L238.00,302.74 L238.10,302.74 L238.20,302.76 L238.30,302.80 L238.40,302.84 L238.50,302.89 L238.60,302.95 L238.70,303.01 L238.80,303.08 L238.90,303.14 L239.00,303.20 L239.10,303.26 L239.20,303.32 L239.30,303.37 L239.40,303.41 L239.50,303.45 L239.60,303.48 L239.70,303.51 L239.80,303.53 L239.90,303.55 L240.00,303.56 L240.10,303.57 L240.20,303.58 L240.30,303.59 L240.40,303.59 L240.50,303.59 L240.60,303.60 L240.70,303.60 L240.80,303.60 L240.90,303.60 L241.00,303.60" stroke="#222" stroke-width="0.9" fill="none" stroke-linejoin="round"/>
<path d="M241.00,303.60 L241.10,303.60 L241.20,303.60 L241.30,303.60 L241.40,303.59 L241.50,303.59 L241.60,303.59 L241.70,303.58 L241.80,303.57 L241.90,303.56 L242.00,303.55 L242.10,303.53 L242.20,303.51 L242.30,303.48 L242.40,303.44 L242.50,303.40 L242.60,303.35 L242.70,303.29 L242.80,303.23 L242.90,303.15 L243.00,303.07 L243.10,302.99 L243.20,302.90 L243.30,302.82 L243.40,302.73 L243.50,302.65 L243.60,302.58 L243.70,302.53 L243.80,302.48 L243.90,302.46 L244.00,302.45 L244.10,302.46 L244.20,302.48 L244.30,302.53 L244.40,302.58 L244.50,302.65 L244.60,302.73 L244.70,302.82 L244.80,302.90 L244.90,302.99 L245.00,303.07 L245.10,303.15 L245.20,303.23 L245.30,303.29 L245.40,303.35 L245.50,303.40 L245.60,303.44 L245.70,303.48 L245.80,303.51 L245.90,303.53 L246.00,303.55 L246.10,303.56 L246.20,303.57 L246.30,303.58 L246.40,303.59 L246.50,303.59 L246.60,303.59 L246.70,303.60 L246.80,303.60 L246.90,303.60 L247.00,303.60" stroke="#222" stroke-width="0.9" fill="none" stroke-linejoin="round"/>
<path d="M247.00,303.60 L247.10,303.60 L247.20,303.60 L247.30,303.60 L247.40,303.60 L247.50,303.59 L247.60,303.59 L247.70,303.59 L247.80,303.58 L247.90,303.58 L248.00,303.57 L248.10,303.56 L248.20,303.55 L248.30,303.53 L248.40,303.51 L248.50,303.48 L248.60,303.45 L248.70,303.42 L248.80,303.38 L248.90,303.33 L249.00,303.28 L249.10,303.23 L249.20,303.18 L249.30,303.13 L249.40,303.08 L249.50,303.03 L249.60,302.99 L249.70,302.96 L249.80,302.93 L249.90,302.92 L250.00,302.91 L250.10,302.92 L250.20,302.93 L250.30,302.96 L250.40,302.99 L250.50,303.03 L250.60,303.08 L250.70,303.13 L250.80,303.18 L250.90,303.23 L251.00,303.28 L251.10,303.33 L251.20,303.38 L251.30,303.42 L251.40,303.45 L251.50,303.48 L251.60,303.51 L251.70,303.53 L251.80,303.55 L251.90,303.56 L252.00,303.57 L252.10,303.58 L252.20,303.58 L252.30,303.59 L252.40,303.59 L252.50,303.59 L252.60,303.60 L252.70,303.60 L252.80,303.60 L252.90,303.60 L253.00,303.60" stroke="#222" stroke-width="0.9" fill="none" stroke-linejoin="round"/>
<path d="M253.00,303.60 L253.10,303.60 L253.20,303.60 L253.30,303.60 L253.40,303.60 L253.50,303.60 L253.60,303.59 L253.70,303.59 L253.80,303.59 L253.90,303.58 L254.00,303.57 L254.10,303.57 L254.20,303.55 L254.30,303.54 L254.40,303.52 L254.50,303.50 L254.60,303.48 L254.70,303.45 L254.80,303.41 L254.90,303.38 L255.00,303.34 L255.10,303.29 L255.20,303.25 L255.30,303.21 L255.40,303.17 L255.50,303.13 L255.60,303.09 L255.70,303.06 L255.80,303.04 L255.90,303.03 L256.00,303.02 L256.10,303.03 L256.20,303.04 L256.30,303.06 L256.40,303.09 L256.50,303.13 L256.60,303.17 L256.70,303.21 L256.80,303.25 L256.90,303.29 L257.00,303.34 L257.10,303.38 L257.20,303.41 L257.30,303.45 L257.40,303.48 L257.50,303.50 L257.60,303.52 L257.70,303.54 L257.80,303.55 L257.90,303.57 L258.00,303.57 L258.10,303.58 L258.20,303.59 L258.30,303.59 L258.40,303.59 L258.50,303.60 L258.60,303.60 L258.70,303.60 L258.80,303.60 L258.90,303.60 L259.00,303.60" stroke="#222" stroke-width="0.9" fill="none" stroke-linejoin="round"/>
<path d="M260.00,303.60 L260.10,303.60 L260.20,303.60 L260.30,303.60 L260.40,303.60 L260.50,303.60 L260.60,303.59 L260.70,303.59 L260.80,303.59 L260.90,303.59 L261.00,303.58 L261.10,303.57 L261.20,303.56 L261.30,303.55 L261.40,303.54 L261.50,303.52 L261.60,303.50 L261.70,303.48 L261.80,303.45 L261.90,303.42 L262.00,303.39 L262.10,303.36 L262.20,303.32 L262.30,303.29 L262.40,303.25 L262.50,303.22 L262.60,303.19 L262.70,303.17 L262.80,303.15 L262.90,303.14 L263.00,303.14 L263.10,303.14 L263.20,303.15 L263.30,303.17 L263.40,303.19 L263.50,303.22 L263.60,303.25 L263.70,303.29 L263.80,303.32 L263.90,303.36 L264.00,303.39 L264.10,303.42 L264.20,303.45 L264.30,303.48 L264.40,303.50 L264.50,303.52 L264.60,303.54 L264.70,303.55 L264.80,303.56 L264.90,303.57 L265.00,303.58 L265.10,303.59 L265.20,303.59 L265.30,303.59 L265.40,303.59 L265.50,303.60 L265.60,303.60 L265.70,303.60 L265.80,303.60 L265.90,303.60 L266.00,303.60" stroke="#222" stroke-width="0.9" fill="none" stroke-linejoin="round"/>
<path d="M272.00,303.60 L272.10,303.60 L272.20,303.60 L272.30,303.60 L272.40,303.60 L272.50,303.60 L272.60,303.59 L272.70,303.59 L272.80,303.59 L272.90,303.59 L273.00,303.58 L273.10,303.57 L273.20,303.56 L273.30,303.55 L273.40,303.54 L273.50,303.52 L273.60,303.50 L273.70,303.48 L273.80,303.45 L273.90,303.42 L274.00,303.39 L274.10,303.36 L274.20,303.32 L274.30,303.29 L274.40,303.25 L274.50,303.22 L274.60,303.19 L274.70,303.17 L274.80,303.15 L274.90,303.14 L275.00,303.14 L275.10,303.14 L275.20,303.15 L275.30,303.17 L275.40,303.19 L275.50,303.22 L275.60,303.25 L275.70,303.29 L275.80,303.32 L275.90,303.36 L276.00,303.39 L276.10,303.42 L276.20,303.45 L276.30,303.48 L276.40,303.50 L276.50,303.52 L276.60,303.54 L276.70,303.55 L276.80,303.56 L276.90,303.57 L277.00,303.58 L277.10,303.59 L277.20,303.59 L277.30,303.59 L277.40,303.59 L277.50,303.60 L277.60,303.60 L277.70,303.60 L277.80,303.60 L277.90,303.60 L278.00,303.60" stroke="#222" stroke-width="0.9" fill="none" stroke-linejoin="round"/>
<path d="M235.00,396.00 L235.10,396.00 L235.20,396.00 L235.30,395.99 L235.40,395.99 L235.50,395.99 L235.60,395.98 L235.70,395.97 L235.80,395.96 L235.90,395.94 L236.00,395.92 L236.10,395.90 L236.20,395.86 L236.30,395.82 L236.40,395.77 L236.50,395.70 L236.60,395.63 L236.70,395.54 L236.80,395.44 L236.90,395.33 L237.00,395.21 L237.10,395.08 L237.20,394.95 L237.30,394.82 L237.40,394.70 L237.50,394.58 L237.60,394.48 L237.70,394.39 L237.80,394.33 L237.90,394.29 L238.00,394.27 L238.10,394.29 L238.20,394.33 L238.30,394.39 L238.40,394.48 L238.50,394.58 L238.60,394.70 L238.70,394.82 L238.80,394.95 L238.90,395.08 L239.00,395.21 L239.10,395.33 L239.20,395.44 L239.30,395.54 L239.40,395.63 L239.50,395.70 L239.60,395.77 L239.70,395.82 L239.80,395.86 L239.90,395.90 L240.00,395.92 L240.10,395.94 L240.20,395.96 L240.30,395.97 L240.40,395.98 L240.50,395.99 L240.60,395.99 L240.70,395.99 L240.80,396.00 L240.90,396.00 L241.00,396.00" stroke="#222" stroke-width="0.9" fill="none" stroke-linejoin="round"/>
<path d="M241.00,396.00 L241.10,396.00 L241.20,395.99 L241.30,395.99 L241.40,395.99 L241.50,395.98 L241.60,395.97 L241.70,395.96 L241.80,395.95 L241.90,395.93 L242.00,395.90 L242.10,395.86 L242.20,395.82 L242.30,395.76 L242.40,395.69 L242.50,395.60 L242.60,395.50 L242.70,395.39 L242.80,395.25 L242.90,395.11 L243.00,394.95 L243.10,394.78 L243.20,394.60 L243.30,394.43 L243.40,394.26 L243.50,394.11 L243.60,393.97 L243.70,393.86 L243.80,393.77 L243.90,393.72 L244.00,393.70 L244.10,393.72 L244.20,393.77 L244.30,393.86 L244.40,393.97 L244.50,394.11 L244.60,394.26 L244.70,394.43 L244.80,394.60 L244.90,394.78 L245.00,394.95 L245.10,395.11 L245.20,395.25 L245.30,395.39 L245.40,395.50 L245.50,395.60 L245.60,395.69 L245.70,395.76 L245.80,395.82 L245.90,395.86 L246.00,395.90 L246.10,395.93 L246.20,395.95 L246.30,395.96 L246.40,395.97 L246.50,395.98 L246.60,395.99 L246.70,395.99 L246.80,395.99 L246.90,396.00 L247.00,396.00" stroke="#222" stroke-width="0.9" fill="none" stroke-linejoin="round"/>
<path d="M247.00,396.00 L247.10,396.00 L247.20,396.00 L247.30,396.00 L247.40,395.99 L247.50,395.99 L247.60,395.98 L247.70,395.98 L247.80,395.97 L247.90,395.96 L248.00,395.94 L248.10,395.92 L248.20,395.89 L248.30,395.86 L248.40,395.81 L248.50,395.76 L248.60,395.70 L248.70,395.63 L248.80,395.55 L248.90,395.46 L249.00,395.37 L249.10,395.27 L249.20,395.16 L249.30,395.06 L249.40,394.96 L249.50,394.86 L249.60,394.78 L249.70,394.71 L249.80,394.66 L249.90,394.63 L250.00,394.62 L250.10,394.63 L250.20,394.66 L250.30,394.71 L250.40,394.78 L250.50,394.86 L250.60,394.96 L250.70,395.06 L250.80,395.16 L250.90,395.27 L251.00,395.37 L251.10,395.46 L251.20,395.55 L251.30,395.63 L251.40,395.70 L251.50,395.76 L251.60,395.81 L251.70,395.86 L251.80,395.89 L251.90,395.92 L252.00,395.94 L252.10,395.96 L252.20,395.97 L252.30,395.98 L252.40,395.98 L252.50,395.99 L252.60,395.99 L252.70,396.00 L252.80,396.00 L252.90,396.00 L253.00,396.00" stroke="#222" stroke-width="0.9" fill="none" stroke-linejoin="round"/>
<path d="M253.00,396.00 L253.10,396.00 L253.20,396.00 L253.30,396.00 L253.40,395.99 L253.50,395.99 L253.60,395.99 L253.70,395.98 L253.80,395.97 L253.90,395.96 L254.00,395.95 L254.10,395.93 L254.20,395.91 L254.30,395.88 L254.40,395.84 L254.50,395.80 L254.60,395.75 L254.70,395.69 L254.80,395.63 L254.90,395.55 L255.00,395.47 L255.10,395.39 L255.20,395.30 L255.30,395.22 L255.40,395.13 L255.50,395.05 L255.60,394.98 L255.70,394.93 L255.80,394.88 L255.90,394.86 L256.00,394.85 L256.10,394.86 L256.20,394.88 L256.30,394.93 L256.40,394.98 L256.50,395.05 L256.60,395.13 L256.70,395.22 L256.80,395.30 L256.90,395.39 L257.00,395.47 L257.10,395.55 L257.20,395.63 L257.30,395.69 L257.40,395.75 L257.50,395.80 L257.60,395.84 L257.70,395.88 L257.80,395.91 L257.90,395.93 L258.00,395.95 L258.10,395.96 L258.20,395.97 L258.30,395.98 L258.40,395.99 L258.50,395.99 L258.60,395.99 L258.70,396.00 L258.80,396.00 L258.90,396.00 L259.00,396.00" stroke="#222" stroke-width="0.9" fill="none" stroke-linejoin="round"/>
<path d="M260.00,396.00 L260.10,396.00 L260.20,396.00 L260.30,396.00 L260.40,396.00 L260.50,395.99 L260.60,395.99 L260.70,395.99 L260.80,395.98 L260.90,395.97 L261.00,395.96 L261.10,395.95 L261.20,395.93 L261.30,395.90 L261.40,395.88 L261.50,395.84 L261.60,395.80 L261.70,395.75 L261.80,395.70 L261.90,395.64 L262.00,395.58 L262.10,395.51 L262.20,395.44 L262.30,395.37 L262.40,395.31 L262.50,395.24 L262.60,395.19 L262.70,395.14 L262.80,395.11 L262.90,395.09 L263.00,395.08 L263.10,395.09 L263.20,395.11 L263.30,395.14 L263.40,395.19 L263.50,395.24 L263.60,395.31 L263.70,395.37 L263.80,395.44 L263.90,395.51 L264.00,395.58 L264.10,395.64 L264.20,395.70 L264.30,395.75 L264.40,395.80 L264.50,395.84 L264.60,395.88 L264.70,395.90 L264.80,395.93 L264.90,395.95 L265.00,395.96 L265.10,395.97 L265.20,395.98 L265.30,395.99 L265.40,395.99 L265.50,395.99 L265.60,396.00 L265.70,396.00 L265.80,396.00 L265.90,396.00 L266.00,396.00" stroke="#222" stroke-width="0.9" fill="none" stroke-linejoin="round"/>
<path d="M272.00,396.00 L272.10,396.00 L272.20,396.00 L272.30,396.00 L272.40,396.00 L272.50,395.99 L272.60,395.99 L272.70,395.99 L272.80,395.98 L272.90,395.97 L273.00,395.96 L273.10,395.95 L273.20,395.93 L273.30,395.90 L273.40,395.88 L273.50,395.84 L273.60,395.80 L273.70,395.75 L273.80,395.70 L273.90,395.64 L274.00,395.58 L274.10,395.51 L274.20,395.44 L274.30,395.37 L274.40,395.31 L274.50,395.24 L274.60,395.19 L274.70,395.14 L274.80,395.11 L274.90,395.09 L275.00,395.08 L275.10,395.09 L275.20,395.11 L275.30,395.14 L275.40,395.19 L275.50,395.24 L275.60,395.31 L275.70,395.37 L275.80,395.44 L275.90,395.51 L276.00,395.58 L276.10,395.64 L276.20,395.70 L276.30,395.75 L276.40,395.80 L276.50,395.84 L276.60,395.88 L276.70,395.90 L276.80,395.93 L276.90,395.95 L277.00,395.96 L277.10,395.97 L277.20,395.98 L277.30,395.99 L277.40,395.99 L277.50,395.99 L277.60,396.00 L277.70,396.00 L277.80,396.00 L277.90,396.00 L278.00,396.00" stroke="#222" stroke-width="0.9" fill="none" stroke-linejoin="round"/>
<text x="194.20" y="101.00" font-size="9.6" fill="#d98a5e" stroke="#d98a5e" stroke-width="0.13" textLength="16.6" lengthAdjust="spacingAndGlyphs">10+</text>
<text x="223.60" y="101.00" font-size="9.6" fill="#d98a5e" stroke="#d98a5e" stroke-width="0.13" textLength="11.2" lengthAdjust="spacingAndGlyphs">8+</text>
<text x="216.20" y="41.50" font-size="9.6" fill="#d98a5e" stroke="#d98a5e" stroke-width="0.13" textLength="11.2" lengthAdjust="spacingAndGlyphs">9+</text>
<text x="253.60" y="108.00" font-size="9.6" fill="#47a842" stroke="#47a842" stroke-width="0.13" textLength="16.4" lengthAdjust="spacingAndGlyphs">15+</text>
<text x="268.20" y="101.20" font-size="9.6" fill="#47a842" stroke="#47a842" stroke-width="0.13" textLength="16.2" lengthAdjust="spacingAndGlyphs">14+</text>
<text x="305.90" y="107.50" font-size="9.6" fill="#cc3a3a" stroke="#cc3a3a" stroke-width="0.13" textLength="16.2" lengthAdjust="spacingAndGlyphs">20+</text>
<text x="314.40" y="75.10" font-size="9.6" fill="#cc3a3a" stroke="#cc3a3a" stroke-width="0.13" textLength="33.6" lengthAdjust="spacingAndGlyphs">19+18+</text>
<text x="339.90" y="105.20" font-size="9.6" fill="#cc3a3a" stroke="#cc3a3a" stroke-width="0.13" textLength="16.1" lengthAdjust="spacingAndGlyphs">17+</text>
<text x="196.00" y="198.10" font-size="9.6" fill="#d98a5e" stroke="#d98a5e" stroke-width="0.13" textLength="16.6" lengthAdjust="spacingAndGlyphs">10+</text>
<text x="229.20" y="184.60" font-size="9.6" fill="#d98a5e" stroke="#d98a5e" stroke-width="0.13" textLength="11.0" lengthAdjust="spacingAndGlyphs">8+</text>
<text x="216.40" y="133.90" font-size="9.6" fill="#d98a5e" stroke="#d98a5e" stroke-width="0.13" textLength="11.2" lengthAdjust="spacingAndGlyphs">9+</text>
<text x="260.30" y="202.60" font-size="9.6" fill="#47a842" stroke="#47a842" stroke-width="0.13" textLength="35.0" lengthAdjust="spacingAndGlyphs">15+14+</text>
<text x="305.60" y="199.30" font-size="9.6" fill="#cc3a3a" stroke="#cc3a3a" stroke-width="0.13" textLength="16.3" lengthAdjust="spacingAndGlyphs">20+</text>
<text x="314.50" y="174.50" font-size="9.6" fill="#cc3a3a" stroke="#cc3a3a" stroke-width="0.13" textLength="16.8" lengthAdjust="spacingAndGlyphs">19+</text>
<text x="331.30" y="185.30" font-size="9.6" fill="#cc3a3a" stroke="#cc3a3a" stroke-width="0.13" textLength="17.0" lengthAdjust="spacingAndGlyphs">18+</text>
<text x="339.70" y="203.30" font-size="9.6" fill="#cc3a3a" stroke="#cc3a3a" stroke-width="0.13" textLength="16.3" lengthAdjust="spacingAndGlyphs">17+</text>
<text x="196.00" y="290.30" font-size="9.6" fill="#d98a5e" stroke="#d98a5e" stroke-width="0.13" textLength="16.7" lengthAdjust="spacingAndGlyphs">10+</text>
<text x="221.90" y="274.80" font-size="9.6" fill="#d98a5e" stroke="#d98a5e" stroke-width="0.13" textLength="12.8" lengthAdjust="spacingAndGlyphs">8+</text>
<text x="216.20" y="225.40" font-size="9.6" fill="#d98a5e" stroke="#d98a5e" stroke-width="0.13" textLength="11.2" lengthAdjust="spacingAndGlyphs">9+</text>
<text x="257.20" y="294.90" font-size="9.6" fill="#47a842" stroke="#47a842" stroke-width="0.13" textLength="36.2" lengthAdjust="spacingAndGlyphs">15+14+</text>
<text x="316.80" y="292.10" font-size="9.6" fill="#cc3a3a" stroke="#cc3a3a" stroke-width="0.13" textLength="15.2" lengthAdjust="spacingAndGlyphs">19+</text>
<text x="331.30" y="288.60" font-size="9.6" fill="#cc3a3a" stroke="#cc3a3a" stroke-width="0.13" textLength="17.0" lengthAdjust="spacingAndGlyphs">18+</text>
<text x="339.70" y="296.30" font-size="9.6" fill="#cc3a3a" stroke="#cc3a3a" stroke-width="0.13" textLength="16.3" lengthAdjust="spacingAndGlyphs">17+</text>
<text x="196.40" y="383.80" font-size="9.6" fill="#d98a5e" stroke="#d98a5e" stroke-width="0.13" textLength="17.4" lengthAdjust="spacingAndGlyphs">10+</text>
<text x="223.80" y="372.20" font-size="9.6" fill="#d98a5e" stroke="#d98a5e" stroke-width="0.13" textLength="11.6" lengthAdjust="spacingAndGlyphs">8+</text>
<text x="216.10" y="318.40" font-size="9.6" fill="#d98a5e" stroke="#d98a5e" stroke-width="0.13" textLength="11.6" lengthAdjust="spacingAndGlyphs">9+</text>
<path d="M10.80,118.67 L11.05,118.59 L11.30,118.33 L11.55,118.66 L11.80,118.63 L12.05,118.57 L12.30,118.86 L12.55,118.63 L12.80,118.54 L13.05,118.43 L13.30,118.93 L13.55,118.76 L13.80,118.87 L14.05,118.23 L14.30,118.09 L14.55,118.24 L14.80,117.29 L15.05,117.23 L15.30,117.63 L15.56,117.96 L15.81,118.55 L16.06,118.74 L16.31,118.22 L16.56,118.16 L16.81,117.54 L17.06,117.10 L17.31,117.22 L17.56,117.27 L17.81,117.80 L18.06,117.90 L18.31,118.20 L18.56,117.79 L18.81,117.20 L19.06,116.24 L19.31,115.84 L19.56,116.06 L19.81,116.21 L20.06,117.01 L20.31,117.53 L20.56,117.17 L20.81,115.61 L21.06,112.14 L21.31,107.62 L21.56,104.41 L21.81,103.72 L22.06,107.10 L22.31,111.26 L22.56,115.31 L22.81,117.04 L23.06,118.02 L23.31,118.91 L23.56,118.83 L23.81,118.34 L24.06,118.66 L24.31,118.29 L24.57,118.70 L24.82,118.86 L25.07,118.12 L25.32,116.87 L25.57,114.28 L25.82,108.77 L26.07,100.97 L26.32,94.10 L26.57,92.80 L26.82,97.76 L27.07,105.24 L27.32,112.12 L27.57,116.24 L27.82,117.36 L28.07,117.92 L28.32,116.85 L28.57,115.69 L28.82,114.82 L29.07,114.20 L29.32,115.39 L29.57,116.27 L29.82,117.71 L30.07,117.98 L30.32,117.94 L30.57,117.14 L30.82,115.59 L31.07,114.94 L31.32,115.29 L31.57,115.64 L31.82,117.18 L32.07,117.90 L32.32,117.98 L32.57,118.13 L32.82,118.19 L33.07,117.03 L33.32,117.15 L33.58,117.03 L33.83,116.99 L34.08,117.83 L34.33,118.32 L34.58,118.77 L34.83,118.88 L35.08,118.57 L35.33,118.82 L35.58,118.56 L35.83,118.73 L36.08,119.10 L36.33,118.74 L36.58,119.08 L36.83,119.01 L37.08,118.81 L37.33,119.30 L37.58,119.32 L37.83,118.77 L38.08,118.84 L38.33,119.25 L38.58,119.29 L38.83,118.90 L39.08,118.75 L39.33,119.29 L39.58,118.74 L39.83,118.79 L40.08,118.99 L40.33,119.13 L40.58,119.35 L40.83,119.40 L41.08,118.74 L41.33,119.26 L41.58,118.92 L41.83,119.24 L42.08,118.84 L42.33,119.00 L42.58,119.22 L42.84,119.30 L43.09,118.91 L43.34,119.38 L43.59,119.26 L43.84,119.03 L44.09,118.82 L44.34,118.99 L44.59,119.23 L44.84,118.77 L45.09,119.28 L45.34,119.42 L45.59,119.23 L45.84,119.11 L46.09,119.38 L46.34,119.30 L46.59,119.16 L46.84,119.02 L47.09,119.33 L47.34,119.17 L47.59,118.79 L47.84,118.72 L48.09,118.96 L48.34,118.93 L48.59,119.01 L48.84,119.33 L49.09,119.40 L49.34,119.42 L49.59,118.77 L49.84,118.92 L50.09,118.74 L50.34,119.41 L50.59,118.97 L50.84,119.08 L51.09,118.90 L51.34,119.20 L51.59,118.71 L51.85,119.37 L52.10,119.04 L52.35,118.90 L52.60,118.78 L52.85,118.90 L53.10,118.92 L53.35,118.86 L53.60,118.77 L53.85,119.18 L54.10,118.94 L54.35,118.78 L54.60,118.80 L54.85,119.13 L55.10,118.86 L55.35,118.81 L55.60,119.02 L55.85,118.98 L56.10,119.15 L56.35,119.01 L56.60,118.99 L56.85,119.37 L57.10,118.97 L57.35,118.71 L57.60,118.80 L57.85,118.90 L58.10,119.15 L58.35,118.90 L58.60,119.01 L58.85,119.11 L59.10,118.83 L59.35,119.37 L59.60,118.89 L59.85,119.41 L60.10,119.00 L60.35,119.08 L60.60,119.26 L60.85,118.93 L61.11,119.07 L61.36,118.99 L61.61,118.77 L61.86,119.24 L62.11,119.42 L62.36,119.21 L62.61,118.94 L62.86,119.28 L63.11,119.31 L63.36,118.78 L63.61,118.95 L63.86,119.11 L64.11,118.79 L64.36,119.19 L64.61,118.95 L64.86,119.29 L65.11,119.12 L65.36,118.85 L65.61,118.77 L65.86,118.80 L66.11,119.15 L66.36,119.01 L66.61,119.20 L66.86,119.33 L67.11,119.07 L67.36,118.83 L67.61,118.82 L67.86,118.92 L68.11,118.75 L68.36,119.23 L68.61,119.31 L68.86,119.10 L69.11,119.23 L69.36,119.27 L69.61,119.13 L69.86,118.98 L70.12,119.07 L70.37,119.20 L70.62,118.82 L70.87,118.72 L71.12,119.10 L71.37,119.37 L71.62,119.41 L71.87,118.80 L72.12,119.40 L72.37,118.92 L72.62,119.02 L72.87,119.21 L73.12,118.86 L73.37,119.41 L73.62,119.33 L73.87,119.10 L74.12,119.41 L74.37,118.83 L74.62,119.26 L74.87,119.33 L75.12,119.39 L75.37,118.98 L75.62,119.11 L75.87,118.98 L76.12,118.96 L76.37,118.85 L76.62,118.74 L76.87,118.94 L77.12,119.28 L77.37,119.09 L77.62,119.30 L77.87,119.42 L78.12,119.09 L78.37,118.91 L78.62,119.30 L78.87,119.23 L79.12,119.18 L79.38,118.93 L79.63,119.05 L79.88,118.99 L80.13,118.88 L80.38,119.15 L80.63,118.86 L80.88,118.78 L81.13,119.37 L81.38,118.76 L81.63,118.91 L81.88,119.33 L82.13,119.10 L82.38,118.98 L82.63,118.77 L82.88,119.16 L83.13,119.02 L83.38,118.80 L83.63,118.86 L83.88,118.75 L84.13,119.09 L84.38,118.96 L84.63,119.28 L84.88,118.91 L85.13,118.84 L85.38,118.97 L85.63,118.91 L85.88,119.27 L86.13,118.78 L86.38,118.72 L86.63,118.73 L86.88,119.04 L87.13,118.86 L87.38,119.20 L87.63,118.77 L87.88,118.81 L88.13,119.18 L88.39,119.37 L88.64,119.11 L88.89,119.03 L89.14,118.88 L89.39,119.08 L89.64,119.41 L89.89,118.85 L90.14,119.38 L90.39,118.85 L90.64,119.30 L90.89,119.19 L91.14,118.86 L91.39,119.33 L91.64,119.32 L91.89,119.06 L92.14,118.91 L92.39,118.82 L92.64,118.93 L92.89,118.75 L93.14,119.07 L93.39,118.75 L93.64,119.37 L93.89,119.27 L94.14,119.05 L94.39,119.22 L94.64,118.90 L94.89,118.97 L95.14,119.05 L95.39,118.82 L95.64,119.03 L95.89,119.20 L96.14,119.15 L96.39,118.82 L96.64,118.78 L96.89,119.28 L97.14,118.82 L97.40,118.73 L97.65,119.05 L97.90,119.02 L98.15,119.28 L98.40,119.04 L98.65,119.07 L98.90,118.99 L99.15,119.41 L99.40,118.73 L99.65,119.06 L99.90,119.14 L100.15,118.85 L100.40,119.02 L100.65,119.08 L100.90,118.93 L101.15,119.38 L101.40,119.04 L101.65,119.13 L101.90,118.74 L101.90,119.07 L101.65,119.07 L101.40,119.07 L101.15,119.07 L100.90,119.07 L100.65,119.07 L100.40,119.07 L100.15,119.07 L99.90,119.07 L99.65,119.07 L99.40,119.07 L99.15,119.07 L98.90,119.07 L98.65,119.07 L98.40,119.07 L98.15,119.07 L97.90,119.07 L97.65,119.07 L97.40,119.07 L97.14,119.07 L96.89,119.07 L96.64,119.07 L96.39,119.07 L96.14,119.07 L95.89,119.07 L95.64,119.07 L95.39,119.07 L95.14,119.07 L94.89,119.07 L94.64,119.07 L94.39,119.07 L94.14,119.07 L93.89,119.07 L93.64,119.07 L93.39,119.07 L93.14,119.07 L92.89,119.07 L92.64,119.07 L92.39,119.07 L92.14,119.07 L91.89,119.07 L91.64,119.07 L91.39,119.07 L91.14,119.07 L90.89,119.07 L90.64,119.07 L90.39,119.07 L90.14,119.07 L89.89,119.07 L89.64,119.07 L89.39,119.07 L89.14,119.07 L88.89,119.07 L88.64,119.07 L88.39,119.07 L88.13,119.07 L87.88,119.07 L87.63,119.07 L87.38,119.07 L87.13,119.07 L86.88,119.07 L86.63,119.07 L86.38,119.07 L86.13,119.07 L85.88,119.07 L85.63,119.07 L85.38,119.07 L85.13,119.07 L84.88,119.07 L84.63,119.07 L84.38,119.07 L84.13,119.07 L83.88,119.07 L83.63,119.07 L83.38,119.07 L83.13,119.07 L82.88,119.07 L82.63,119.07 L82.38,119.07 L82.13,119.07 L81.88,119.07 L81.63,119.07 L81.38,119.07 L81.13,119.07 L80.88,119.07 L80.63,119.07 L80.38,119.07 L80.13,119.07 L79.88,119.07 L79.63,119.07 L79.38,119.07 L79.12,119.07 L78.87,119.07 L78.62,119.07 L78.37,119.07 L78.12,119.07 L77.87,119.07 L77.62,119.07 L77.37,119.07 L77.12,119.07 L76.87,119.07 L76.62,119.07 L76.37,119.07 L76.12,119.07 L75.87,119.07 L75.62,119.07 L75.37,119.07 L75.12,119.07 L74.87,119.07 L74.62,119.07 L74.37,119.07 L74.12,119.07 L73.87,119.07 L73.62,119.07 L73.37,119.07 L73.12,119.07 L72.87,119.07 L72.62,119.07 L72.37,119.07 L72.12,119.07 L71.87,119.07 L71.62,119.07 L71.37,119.07 L71.12,119.07 L70.87,119.07 L70.62,119.07 L70.37,119.07 L70.12,119.07 L69.86,119.07 L69.61,119.07 L69.36,119.07 L69.11,119.07 L68.86,119.07 L68.61,119.07 L68.36,119.07 L68.11,119.07 L67.86,119.07 L67.61,119.07 L67.36,119.07 L67.11,119.07 L66.86,119.07 L66.61,119.07 L66.36,119.07 L66.11,119.07 L65.86,119.07 L65.61,119.07 L65.36,119.07 L65.11,119.07 L64.86,119.07 L64.61,119.07 L64.36,119.07 L64.11,119.07 L63.86,119.07 L63.61,119.07 L63.36,119.07 L63.11,119.07 L62.86,119.07 L62.61,119.07 L62.36,119.07 L62.11,119.07 L61.86,119.07 L61.61,119.07 L61.36,119.07 L61.11,119.07 L60.85,119.07 L60.60,119.07 L60.35,119.07 L60.10,119.07 L59.85,119.07 L59.60,119.07 L59.35,119.07 L59.10,119.07 L58.85,119.07 L58.60,119.07 L58.35,119.07 L58.10,119.07 L57.85,119.07 L57.60,119.07 L57.35,119.07 L57.10,119.07 L56.85,119.07 L56.60,119.07 L56.35,119.07 L56.10,119.07 L55.85,119.07 L55.60,119.07 L55.35,119.07 L55.10,119.07 L54.85,119.07 L54.60,119.07 L54.35,119.07 L54.10,119.07 L53.85,119.07 L53.60,119.07 L53.35,119.07 L53.10,119.07 L52.85,119.07 L52.60,119.07 L52.35,119.07 L52.10,119.07 L51.85,119.07 L51.59,119.07 L51.34,119.07 L51.09,119.07 L50.84,119.07 L50.59,119.07 L50.34,119.07 L50.09,119.07 L49.84,119.07 L49.59,119.07 L49.34,119.07 L49.09,119.07 L48.84,119.07 L48.59,119.07 L48.34,119.07 L48.09,119.07 L47.84,119.07 L47.59,119.07 L47.34,119.07 L47.09,119.07 L46.84,119.07 L46.59,119.07 L46.34,119.07 L46.09,119.07 L45.84,119.07 L45.59,119.07 L45.34,119.07 L45.09,119.07 L44.84,119.07 L44.59,119.07 L44.34,119.07 L44.09,119.07 L43.84,119.07 L43.59,119.07 L43.34,119.07 L43.09,119.07 L42.84,119.07 L42.58,119.07 L42.33,119.07 L42.08,119.07 L41.83,119.07 L41.58,119.07 L41.33,119.07 L41.08,119.07 L40.83,119.07 L40.58,119.07 L40.33,119.07 L40.08,119.07 L39.83,119.07 L39.58,119.07 L39.33,119.07 L39.08,119.07 L38.83,119.07 L38.58,119.07 L38.33,119.07 L38.08,119.07 L37.83,119.07 L37.58,119.07 L37.33,119.07 L37.08,119.07 L36.83,119.07 L36.58,119.07 L36.33,119.07 L36.08,119.07 L35.83,118.64 L35.58,118.64 L35.33,118.64 L35.08,118.64 L34.83,118.64 L34.58,118.64 L34.33,118.64 L34.08,118.64 L33.83,118.64 L33.58,118.64 L33.32,118.64 L33.07,118.64 L32.82,118.64 L32.57,118.64 L32.32,118.64 L32.07,118.64 L31.82,118.64 L31.57,118.64 L31.32,118.64 L31.07,118.64 L30.82,118.64 L30.57,118.64 L30.32,118.64 L30.07,118.64 L29.82,118.64 L29.57,118.64 L29.32,118.64 L29.07,118.64 L28.82,118.64 L28.57,118.64 L28.32,118.64 L28.07,118.64 L27.82,118.64 L27.57,118.64 L27.32,118.64 L27.07,118.64 L26.82,118.64 L26.57,118.64 L26.32,118.64 L26.07,118.64 L25.82,118.64 L25.57,118.64 L25.32,118.64 L25.07,118.64 L24.82,118.64 L24.57,118.64 L24.31,118.64 L24.06,118.64 L23.81,118.64 L23.56,118.64 L23.31,118.64 L23.06,118.64 L22.81,118.64 L22.56,118.64 L22.31,118.64 L22.06,118.64 L21.81,118.64 L21.56,118.64 L21.31,118.64 L21.06,118.64 L20.81,118.64 L20.56,118.64 L20.31,118.64 L20.06,118.64 L19.81,118.64 L19.56,118.64 L19.31,118.64 L19.06,118.64 L18.81,118.64 L18.56,118.64 L18.31,118.64 L18.06,118.64 L17.81,118.64 L17.56,118.64 L17.31,118.64 L17.06,118.64 L16.81,118.64 L16.56,118.64 L16.31,118.64 L16.06,118.64 L15.81,118.64 L15.56,118.64 L15.30,118.64 L15.05,118.64 L14.80,118.64 L14.55,118.64 L14.30,118.64 L14.05,118.64 L13.80,118.64 L13.55,118.64 L13.30,118.64 L13.05,118.64 L12.80,118.64 L12.55,118.64 L12.30,118.64 L12.05,118.64 L11.80,118.64 L11.55,118.64 L11.30,118.64 L11.05,118.64 L10.80,118.64 Z" stroke="none" stroke-width="0" fill="#7a7a7a"/>
<path d="M10.80,118.67 L11.05,118.59 L11.30,118.33 L11.55,118.66 L11.80,118.63 L12.05,118.57 L12.30,118.86 L12.55,118.63 L12.80,118.54 L13.05,118.43 L13.30,118.93 L13.55,118.76 L13.80,118.87 L14.05,118.23 L14.30,118.09 L14.55,118.24 L14.80,117.29 L15.05,117.23 L15.30,117.63 L15.56,117.96 L15.81,118.55 L16.06,118.74 L16.31,118.22 L16.56,118.16 L16.81,117.54 L17.06,117.10 L17.31,117.22 L17.56,117.27 L17.81,117.80 L18.06,117.90 L18.31,118.20 L18.56,117.79 L18.81,117.20 L19.06,116.24 L19.31,115.84 L19.56,116.06 L19.81,116.21 L20.06,117.01 L20.31,117.53 L20.56,117.17 L20.81,115.61 L21.06,112.14 L21.31,107.62 L21.56,104.41 L21.81,103.72 L22.06,107.10 L22.31,111.26 L22.56,115.31 L22.81,117.04 L23.06,118.02 L23.31,118.91 L23.56,118.83 L23.81,118.34 L24.06,118.66 L24.31,118.29 L24.57,118.70 L24.82,118.86 L25.07,118.12 L25.32,116.87 L25.57,114.28 L25.82,108.77 L26.07,100.97 L26.32,94.10 L26.57,92.80 L26.82,97.76 L27.07,105.24 L27.32,112.12 L27.57,116.24 L27.82,117.36 L28.07,117.92 L28.32,116.85 L28.57,115.69 L28.82,114.82 L29.07,114.20 L29.32,115.39 L29.57,116.27 L29.82,117.71 L30.07,117.98 L30.32,117.94 L30.57,117.14 L30.82,115.59 L31.07,114.94 L31.32,115.29 L31.57,115.64 L31.82,117.18 L32.07,117.90 L32.32,117.98 L32.57,118.13 L32.82,118.19 L33.07,117.03 L33.32,117.15 L33.58,117.03 L33.83,116.99 L34.08,117.83 L34.33,118.32 L34.58,118.77 L34.83,118.88 L35.08,118.57 L35.33,118.82 L35.58,118.56 L35.83,118.73 L36.08,119.10 L36.33,118.74 L36.58,119.08 L36.83,119.01 L37.08,118.81 L37.33,119.30 L37.58,119.32 L37.83,118.77 L38.08,118.84 L38.33,119.25 L38.58,119.29 L38.83,118.90 L39.08,118.75 L39.33,119.29 L39.58,118.74 L39.83,118.79 L40.08,118.99 L40.33,119.13 L40.58,119.35 L40.83,119.40 L41.08,118.74 L41.33,119.26 L41.58,118.92 L41.83,119.24 L42.08,118.84 L42.33,119.00 L42.58,119.22 L42.84,119.30 L43.09,118.91 L43.34,119.38 L43.59,119.26 L43.84,119.03 L44.09,118.82 L44.34,118.99 L44.59,119.23 L44.84,118.77 L45.09,119.28 L45.34,119.42 L45.59,119.23 L45.84,119.11 L46.09,119.38 L46.34,119.30 L46.59,119.16 L46.84,119.02 L47.09,119.33 L47.34,119.17 L47.59,118.79 L47.84,118.72 L48.09,118.96 L48.34,118.93 L48.59,119.01 L48.84,119.33 L49.09,119.40 L49.34,119.42 L49.59,118.77 L49.84,118.92 L50.09,118.74 L50.34,119.41 L50.59,118.97 L50.84,119.08 L51.09,118.90 L51.34,119.20 L51.59,118.71 L51.85,119.37 L52.10,119.04 L52.35,118.90 L52.60,118.78 L52.85,118.90 L53.10,118.92 L53.35,118.86 L53.60,118.77 L53.85,119.18 L54.10,118.94 L54.35,118.78 L54.60,118.80 L54.85,119.13 L55.10,118.86 L55.35,118.81 L55.60,119.02 L55.85,118.98 L56.10,119.15 L56.35,119.01 L56.60,118.99 L56.85,119.37 L57.10,118.97 L57.35,118.71 L57.60,118.80 L57.85,118.90 L58.10,119.15 L58.35,118.90 L58.60,119.01 L58.85,119.11 L59.10,118.83 L59.35,119.37 L59.60,118.89 L59.85,119.41 L60.10,119.00 L60.35,119.08 L60.60,119.26 L60.85,118.93 L61.11,119.07 L61.36,118.99 L61.61,118.77 L61.86,119.24 L62.11,119.42 L62.36,119.21 L62.61,118.94 L62.86,119.28 L63.11,119.31 L63.36,118.78 L63.61,118.95 L63.86,119.11 L64.11,118.79 L64.36,119.19 L64.61,118.95 L64.86,119.29 L65.11,119.12 L65.36,118.85 L65.61,118.77 L65.86,118.80 L66.11,119.15 L66.36,119.01 L66.61,119.20 L66.86,119.33 L67.11,119.07 L67.36,118.83 L67.61,118.82 L67.86,118.92 L68.11,118.75 L68.36,119.23 L68.61,119.31 L68.86,119.10 L69.11,119.23 L69.36,119.27 L69.61,119.13 L69.86,118.98 L70.12,119.07 L70.37,119.20 L70.62,118.82 L70.87,118.72 L71.12,119.10 L71.37,119.37 L71.62,119.41 L71.87,118.80 L72.12,119.40 L72.37,118.92 L72.62,119.02 L72.87,119.21 L73.12,118.86 L73.37,119.41 L73.62,119.33 L73.87,119.10 L74.12,119.41 L74.37,118.83 L74.62,119.26 L74.87,119.33 L75.12,119.39 L75.37,118.98 L75.62,119.11 L75.87,118.98 L76.12,118.96 L76.37,118.85 L76.62,118.74 L76.87,118.94 L77.12,119.28 L77.37,119.09 L77.62,119.30 L77.87,119.42 L78.12,119.09 L78.37,118.91 L78.62,119.30 L78.87,119.23 L79.12,119.18 L79.38,118.93 L79.63,119.05 L79.88,118.99 L80.13,118.88 L80.38,119.15 L80.63,118.86 L80.88,118.78 L81.13,119.37 L81.38,118.76 L81.63,118.91 L81.88,119.33 L82.13,119.10 L82.38,118.98 L82.63,118.77 L82.88,119.16 L83.13,119.02 L83.38,118.80 L83.63,118.86 L83.88,118.75 L84.13,119.09 L84.38,118.96 L84.63,119.28 L84.88,118.91 L85.13,118.84 L85.38,118.97 L85.63,118.91 L85.88,119.27 L86.13,118.78 L86.38,118.72 L86.63,118.73 L86.88,119.04 L87.13,118.86 L87.38,119.20 L87.63,118.77 L87.88,118.81 L88.13,119.18 L88.39,119.37 L88.64,119.11 L88.89,119.03 L89.14,118.88 L89.39,119.08 L89.64,119.41 L89.89,118.85 L90.14,119.38 L90.39,118.85 L90.64,119.30 L90.89,119.19 L91.14,118.86 L91.39,119.33 L91.64,119.32 L91.89,119.06 L92.14,118.91 L92.39,118.82 L92.64,118.93 L92.89,118.75 L93.14,119.07 L93.39,118.75 L93.64,119.37 L93.89,119.27 L94.14,119.05 L94.39,119.22 L94.64,118.90 L94.89,118.97 L95.14,119.05 L95.39,118.82 L95.64,119.03 L95.89,119.20 L96.14,119.15 L96.39,118.82 L96.64,118.78 L96.89,119.28 L97.14,118.82 L97.40,118.73 L97.65,119.05 L97.90,119.02 L98.15,119.28 L98.40,119.04 L98.65,119.07 L98.90,118.99 L99.15,119.41 L99.40,118.73 L99.65,119.06 L99.90,119.14 L100.15,118.85 L100.40,119.02 L100.65,119.08 L100.90,118.93 L101.15,119.38 L101.40,119.04 L101.65,119.13 L101.90,118.74" stroke="#1a1a1a" stroke-width="1.25" fill="none" stroke-linejoin="round"/>
<path d="M22.60,118.87 L22.87,116.81 L23.13,110.73 L23.40,97.48 L23.67,77.01 L23.93,56.46 L24.20,47.60 L24.47,56.46 L24.73,77.01 L25.00,97.48 L25.27,110.73 L25.53,116.81 L25.80,118.87" stroke="#f08a32" stroke-width="1.2" fill="#f7bf8e" stroke-linejoin="round"/>
<path d="M10.80,209.76 L11.05,210.23 L11.30,210.08 L11.55,210.33 L11.80,210.11 L12.05,209.83 L12.30,209.77 L12.55,210.08 L12.80,210.19 L13.05,210.28 L13.30,209.98 L13.55,209.76 L13.80,210.33 L14.05,209.86 L14.30,210.41 L14.55,210.28 L14.80,210.26 L15.05,209.93 L15.30,210.19 L15.56,210.17 L15.81,209.98 L16.06,210.35 L16.31,209.90 L16.56,210.33 L16.81,210.05 L17.06,210.24 L17.31,210.28 L17.56,210.04 L17.81,210.11 L18.06,210.15 L18.31,210.12 L18.56,210.04 L18.81,210.31 L19.06,210.27 L19.31,209.97 L19.56,209.96 L19.81,210.04 L20.06,209.81 L20.31,209.98 L20.56,209.81 L20.81,210.25 L21.06,209.89 L21.31,209.84 L21.56,209.77 L21.81,210.19 L22.06,210.20 L22.31,209.76 L22.56,210.26 L22.81,209.70 L23.06,209.78 L23.31,210.33 L23.56,210.25 L23.81,209.90 L24.06,210.23 L24.31,210.35 L24.57,209.82 L24.82,210.12 L25.07,209.85 L25.32,210.33 L25.57,210.13 L25.82,209.93 L26.07,210.41 L26.32,210.28 L26.57,209.93 L26.82,209.77 L27.07,209.73 L27.32,210.34 L27.57,210.06 L27.82,209.88 L28.07,210.06 L28.32,209.93 L28.57,210.29 L28.82,210.37 L29.07,210.35 L29.32,210.39 L29.57,210.02 L29.82,210.05 L30.07,210.01 L30.32,210.32 L30.57,210.29 L30.82,210.27 L31.07,209.82 L31.32,209.71 L31.57,209.76 L31.82,210.35 L32.07,210.38 L32.32,209.74 L32.57,210.09 L32.82,209.87 L33.07,210.19 L33.32,210.09 L33.58,210.05 L33.83,210.10 L34.08,209.92 L34.33,210.20 L34.58,209.36 L34.83,208.70 L35.08,208.54 L35.33,207.96 L35.58,207.86 L35.83,208.63 L36.08,210.13 L36.33,210.60 L36.58,210.49 L36.83,210.59 L37.08,209.20 L37.33,207.98 L37.58,206.59 L37.83,205.61 L38.08,206.04 L38.33,207.42 L38.58,208.74 L38.83,209.89 L39.08,210.06 L39.33,210.21 L39.58,210.11 L39.83,208.45 L40.08,206.74 L40.33,204.85 L40.58,203.94 L40.83,204.91 L41.08,206.35 L41.33,208.25 L41.58,209.69 L41.83,210.27 L42.08,210.51 L42.33,210.83 L42.58,210.62 L42.84,211.09 L43.09,210.89 L43.34,210.80 L43.59,211.13 L43.84,210.88 L44.09,210.68 L44.34,210.69 L44.59,210.97 L44.84,210.46 L45.09,210.65 L45.34,210.83 L45.59,210.39 L45.84,209.81 L46.09,208.41 L46.34,206.19 L46.59,203.19 L46.84,201.97 L47.09,202.47 L47.34,204.64 L47.59,207.05 L47.84,209.63 L48.09,210.18 L48.34,210.45 L48.59,210.81 L48.84,210.42 L49.09,209.90 L49.34,208.37 L49.59,206.38 L49.84,205.12 L50.09,204.81 L50.34,205.55 L50.59,207.65 L50.84,209.26 L51.09,209.84 L51.34,210.44 L51.59,210.01 L51.85,209.75 L52.10,208.83 L52.35,208.56 L52.60,207.83 L52.85,208.05 L53.10,209.35 L53.35,209.53 L53.60,210.63 L53.85,210.67 L54.10,210.99 L54.35,210.78 L54.60,210.70 L54.85,211.10 L55.10,210.46 L55.35,210.84 L55.60,210.76 L55.85,210.71 L56.10,210.88 L56.35,210.93 L56.60,210.66 L56.85,210.69 L57.10,210.63 L57.35,209.23 L57.60,205.94 L57.85,197.25 L58.10,180.86 L58.35,160.29 L58.60,144.26 L58.85,142.31 L59.10,156.50 L59.35,176.82 L59.60,194.35 L59.85,204.96 L60.10,208.40 L60.35,208.99 L60.60,207.39 L60.85,200.90 L61.11,191.13 L61.36,179.27 L61.61,171.17 L61.86,172.89 L62.11,182.03 L62.36,193.57 L62.61,202.79 L62.86,207.57 L63.11,208.01 L63.36,206.01 L63.61,201.69 L63.86,196.71 L64.11,192.87 L64.36,193.58 L64.61,198.03 L64.86,203.50 L65.11,207.25 L65.36,209.61 L65.61,209.77 L65.86,208.73 L66.11,207.00 L66.36,204.89 L66.61,203.22 L66.86,203.60 L67.11,205.15 L67.36,207.58 L67.61,208.96 L67.86,209.86 L68.11,210.20 L68.36,210.23 L68.61,209.61 L68.86,208.20 L69.11,207.74 L69.36,207.97 L69.61,208.84 L69.86,209.76 L70.12,210.11 L70.37,210.54 L70.62,210.66 L70.87,210.67 L71.12,210.60 L71.37,211.00 L71.62,210.96 L71.87,210.44 L72.12,210.48 L72.37,210.51 L72.62,211.11 L72.87,211.07 L73.12,210.81 L73.37,210.31 L73.62,209.11 L73.87,207.34 L74.12,203.91 L74.37,201.32 L74.62,200.23 L74.87,201.27 L75.12,204.43 L75.37,207.35 L75.62,209.38 L75.87,209.85 L76.12,209.47 L76.37,207.87 L76.62,205.63 L76.87,204.13 L77.12,204.67 L77.37,206.05 L77.62,207.52 L77.87,209.24 L78.12,210.01 L78.37,210.63 L78.62,210.18 L78.87,209.49 L79.12,207.90 L79.38,207.11 L79.63,206.51 L79.88,206.85 L80.13,208.51 L80.38,209.49 L80.63,210.08 L80.88,210.26 L81.13,210.61 L81.38,210.40 L81.63,210.14 L81.88,209.05 L82.13,209.30 L82.38,209.39 L82.63,209.49 L82.88,210.08 L83.13,210.32 L83.38,210.80 L83.63,210.48 L83.88,210.88 L84.13,210.55 L84.38,209.91 L84.63,210.06 L84.88,209.86 L85.13,209.75 L85.38,210.09 L85.63,210.67 L85.88,210.93 L86.13,210.85 L86.38,210.61 L86.63,210.88 L86.88,211.06 L87.13,210.63 L87.38,210.73 L87.63,210.48 L87.88,210.46 L88.13,210.48 L88.39,210.83 L88.64,210.56 L88.89,210.92 L89.14,210.91 L89.39,210.85 L89.64,210.47 L89.89,210.50 L90.14,210.96 L90.39,210.88 L90.64,210.88 L90.89,210.88 L91.14,210.86 L91.39,210.86 L91.64,211.00 L91.89,210.74 L92.14,210.57 L92.39,210.75 L92.64,210.54 L92.89,210.74 L93.14,211.01 L93.39,210.59 L93.64,210.51 L93.89,210.94 L94.14,211.12 L94.39,210.77 L94.64,210.75 L94.89,210.73 L95.14,210.45 L95.39,210.67 L95.64,210.56 L95.89,211.09 L96.14,210.75 L96.39,210.57 L96.64,211.08 L96.89,211.08 L97.14,210.61 L97.40,210.49 L97.65,211.08 L97.90,210.68 L98.15,211.04 L98.40,210.60 L98.65,210.67 L98.90,210.96 L99.15,210.98 L99.40,210.59 L99.65,210.77 L99.90,210.59 L100.15,210.86 L100.40,210.90 L100.65,210.44 L100.90,210.66 L101.15,210.79 L101.40,210.75 L101.65,210.62 L101.90,210.63 L101.90,210.78 L101.65,210.78 L101.40,210.78 L101.15,210.78 L100.90,210.78 L100.65,210.78 L100.40,210.78 L100.15,210.78 L99.90,210.78 L99.65,210.78 L99.40,210.78 L99.15,210.78 L98.90,210.78 L98.65,210.78 L98.40,210.78 L98.15,210.78 L97.90,210.78 L97.65,210.78 L97.40,210.78 L97.14,210.78 L96.89,210.78 L96.64,210.78 L96.39,210.78 L96.14,210.78 L95.89,210.78 L95.64,210.78 L95.39,210.78 L95.14,210.78 L94.89,210.78 L94.64,210.78 L94.39,210.78 L94.14,210.78 L93.89,210.78 L93.64,210.78 L93.39,210.78 L93.14,210.78 L92.89,210.78 L92.64,210.78 L92.39,210.78 L92.14,210.78 L91.89,210.78 L91.64,210.78 L91.39,210.78 L91.14,210.78 L90.89,210.78 L90.64,210.78 L90.39,210.78 L90.14,210.78 L89.89,210.78 L89.64,210.78 L89.39,210.78 L89.14,210.78 L88.89,210.78 L88.64,210.78 L88.39,210.78 L88.13,210.78 L87.88,210.78 L87.63,210.78 L87.38,210.78 L87.13,210.78 L86.88,210.78 L86.63,210.78 L86.38,210.78 L86.13,210.78 L85.88,210.78 L85.63,210.78 L85.38,210.78 L85.13,210.78 L84.88,210.78 L84.63,210.78 L84.38,210.78 L84.13,210.78 L83.88,210.78 L83.63,210.78 L83.38,210.78 L83.13,210.78 L82.88,210.78 L82.63,210.78 L82.38,210.78 L82.13,210.78 L81.88,210.78 L81.63,210.78 L81.38,210.78 L81.13,210.78 L80.88,210.78 L80.63,210.78 L80.38,210.78 L80.13,210.78 L79.88,210.78 L79.63,210.78 L79.38,210.78 L79.12,210.78 L78.87,210.78 L78.62,210.78 L78.37,210.78 L78.12,210.78 L77.87,210.78 L77.62,210.78 L77.37,210.78 L77.12,210.78 L76.87,210.78 L76.62,210.78 L76.37,210.78 L76.12,210.78 L75.87,210.78 L75.62,210.78 L75.37,210.78 L75.12,210.78 L74.87,210.78 L74.62,210.78 L74.37,210.78 L74.12,210.78 L73.87,210.78 L73.62,210.78 L73.37,210.78 L73.12,210.78 L72.87,210.78 L72.62,210.78 L72.37,210.78 L72.12,210.78 L71.87,210.78 L71.62,210.78 L71.37,210.78 L71.12,210.78 L70.87,210.78 L70.62,210.78 L70.37,210.78 L70.12,210.78 L69.86,210.78 L69.61,210.78 L69.36,210.78 L69.11,210.78 L68.86,210.78 L68.61,210.78 L68.36,210.78 L68.11,210.78 L67.86,210.78 L67.61,210.78 L67.36,210.78 L67.11,210.78 L66.86,210.78 L66.61,210.78 L66.36,210.78 L66.11,210.78 L65.86,210.78 L65.61,210.78 L65.36,210.78 L65.11,210.78 L64.86,210.78 L64.61,210.78 L64.36,210.78 L64.11,210.78 L63.86,210.78 L63.61,210.78 L63.36,210.78 L63.11,210.78 L62.86,210.78 L62.61,210.78 L62.36,210.78 L62.11,210.78 L61.86,210.78 L61.61,210.78 L61.36,210.78 L61.11,210.78 L60.85,210.78 L60.60,210.78 L60.35,210.78 L60.10,210.78 L59.85,210.78 L59.60,210.78 L59.35,210.78 L59.10,210.78 L58.85,210.78 L58.60,210.78 L58.35,210.78 L58.10,210.78 L57.85,210.78 L57.60,210.78 L57.35,210.78 L57.10,210.78 L56.85,210.78 L56.60,210.78 L56.35,210.78 L56.10,210.78 L55.85,210.78 L55.60,210.78 L55.35,210.78 L55.10,210.78 L54.85,210.78 L54.60,210.78 L54.35,210.78 L54.10,210.78 L53.85,210.78 L53.60,210.78 L53.35,210.78 L53.10,210.78 L52.85,210.78 L52.60,210.78 L52.35,210.78 L52.10,210.78 L51.85,210.78 L51.59,210.78 L51.34,210.78 L51.09,210.78 L50.84,210.78 L50.59,210.78 L50.34,210.78 L50.09,210.78 L49.84,210.78 L49.59,210.78 L49.34,210.78 L49.09,210.78 L48.84,210.78 L48.59,210.78 L48.34,210.78 L48.09,210.78 L47.84,210.78 L47.59,210.78 L47.34,210.78 L47.09,210.78 L46.84,210.78 L46.59,210.78 L46.34,210.78 L46.09,210.78 L45.84,210.78 L45.59,210.78 L45.34,210.78 L45.09,210.78 L44.84,210.78 L44.59,210.78 L44.34,210.78 L44.09,210.78 L43.84,210.78 L43.59,210.78 L43.34,210.78 L43.09,210.78 L42.84,210.78 L42.58,210.78 L42.33,210.78 L42.08,210.78 L41.83,210.78 L41.58,210.78 L41.33,210.78 L41.08,210.78 L40.83,210.78 L40.58,210.78 L40.33,210.78 L40.08,210.78 L39.83,210.78 L39.58,210.78 L39.33,210.78 L39.08,210.78 L38.83,210.78 L38.58,210.78 L38.33,210.78 L38.08,210.78 L37.83,210.78 L37.58,210.78 L37.33,210.78 L37.08,210.78 L36.83,210.78 L36.58,210.78 L36.33,210.78 L36.08,210.78 L35.83,210.06 L35.58,210.06 L35.33,210.06 L35.08,210.06 L34.83,210.06 L34.58,210.06 L34.33,210.06 L34.08,210.06 L33.83,210.06 L33.58,210.06 L33.32,210.06 L33.07,210.06 L32.82,210.06 L32.57,210.06 L32.32,210.06 L32.07,210.06 L31.82,210.06 L31.57,210.06 L31.32,210.06 L31.07,210.06 L30.82,210.06 L30.57,210.06 L30.32,210.06 L30.07,210.06 L29.82,210.06 L29.57,210.06 L29.32,210.06 L29.07,210.06 L28.82,210.06 L28.57,210.06 L28.32,210.06 L28.07,210.06 L27.82,210.06 L27.57,210.06 L27.32,210.06 L27.07,210.06 L26.82,210.06 L26.57,210.06 L26.32,210.06 L26.07,210.06 L25.82,210.06 L25.57,210.06 L25.32,210.06 L25.07,210.06 L24.82,210.06 L24.57,210.06 L24.31,210.06 L24.06,210.06 L23.81,210.06 L23.56,210.06 L23.31,210.06 L23.06,210.06 L22.81,210.06 L22.56,210.06 L22.31,210.06 L22.06,210.06 L21.81,210.06 L21.56,210.06 L21.31,210.06 L21.06,210.06 L20.81,210.06 L20.56,210.06 L20.31,210.06 L20.06,210.06 L19.81,210.06 L19.56,210.06 L19.31,210.06 L19.06,210.06 L18.81,210.06 L18.56,210.06 L18.31,210.06 L18.06,210.06 L17.81,210.06 L17.56,210.06 L17.31,210.06 L17.06,210.06 L16.81,210.06 L16.56,210.06 L16.31,210.06 L16.06,210.06 L15.81,210.06 L15.56,210.06 L15.30,210.06 L15.05,210.06 L14.80,210.06 L14.55,210.06 L14.30,210.06 L14.05,210.06 L13.80,210.06 L13.55,210.06 L13.30,210.06 L13.05,210.06 L12.80,210.06 L12.55,210.06 L12.30,210.06 L12.05,210.06 L11.80,210.06 L11.55,210.06 L11.30,210.06 L11.05,210.06 L10.80,210.06 Z" stroke="none" stroke-width="0" fill="#7a7a7a"/>
<path d="M10.80,209.76 L11.05,210.23 L11.30,210.08 L11.55,210.33 L11.80,210.11 L12.05,209.83 L12.30,209.77 L12.55,210.08 L12.80,210.19 L13.05,210.28 L13.30,209.98 L13.55,209.76 L13.80,210.33 L14.05,209.86 L14.30,210.41 L14.55,210.28 L14.80,210.26 L15.05,209.93 L15.30,210.19 L15.56,210.17 L15.81,209.98 L16.06,210.35 L16.31,209.90 L16.56,210.33 L16.81,210.05 L17.06,210.24 L17.31,210.28 L17.56,210.04 L17.81,210.11 L18.06,210.15 L18.31,210.12 L18.56,210.04 L18.81,210.31 L19.06,210.27 L19.31,209.97 L19.56,209.96 L19.81,210.04 L20.06,209.81 L20.31,209.98 L20.56,209.81 L20.81,210.25 L21.06,209.89 L21.31,209.84 L21.56,209.77 L21.81,210.19 L22.06,210.20 L22.31,209.76 L22.56,210.26 L22.81,209.70 L23.06,209.78 L23.31,210.33 L23.56,210.25 L23.81,209.90 L24.06,210.23 L24.31,210.35 L24.57,209.82 L24.82,210.12 L25.07,209.85 L25.32,210.33 L25.57,210.13 L25.82,209.93 L26.07,210.41 L26.32,210.28 L26.57,209.93 L26.82,209.77 L27.07,209.73 L27.32,210.34 L27.57,210.06 L27.82,209.88 L28.07,210.06 L28.32,209.93 L28.57,210.29 L28.82,210.37 L29.07,210.35 L29.32,210.39 L29.57,210.02 L29.82,210.05 L30.07,210.01 L30.32,210.32 L30.57,210.29 L30.82,210.27 L31.07,209.82 L31.32,209.71 L31.57,209.76 L31.82,210.35 L32.07,210.38 L32.32,209.74 L32.57,210.09 L32.82,209.87 L33.07,210.19 L33.32,210.09 L33.58,210.05 L33.83,210.10 L34.08,209.92 L34.33,210.20 L34.58,209.36 L34.83,208.70 L35.08,208.54 L35.33,207.96 L35.58,207.86 L35.83,208.63 L36.08,210.13 L36.33,210.60 L36.58,210.49 L36.83,210.59 L37.08,209.20 L37.33,207.98 L37.58,206.59 L37.83,205.61 L38.08,206.04 L38.33,207.42 L38.58,208.74 L38.83,209.89 L39.08,210.06 L39.33,210.21 L39.58,210.11 L39.83,208.45 L40.08,206.74 L40.33,204.85 L40.58,203.94 L40.83,204.91 L41.08,206.35 L41.33,208.25 L41.58,209.69 L41.83,210.27 L42.08,210.51 L42.33,210.83 L42.58,210.62 L42.84,211.09 L43.09,210.89 L43.34,210.80 L43.59,211.13 L43.84,210.88 L44.09,210.68 L44.34,210.69 L44.59,210.97 L44.84,210.46 L45.09,210.65 L45.34,210.83 L45.59,210.39 L45.84,209.81 L46.09,208.41 L46.34,206.19 L46.59,203.19 L46.84,201.97 L47.09,202.47 L47.34,204.64 L47.59,207.05 L47.84,209.63 L48.09,210.18 L48.34,210.45 L48.59,210.81 L48.84,210.42 L49.09,209.90 L49.34,208.37 L49.59,206.38 L49.84,205.12 L50.09,204.81 L50.34,205.55 L50.59,207.65 L50.84,209.26 L51.09,209.84 L51.34,210.44 L51.59,210.01 L51.85,209.75 L52.10,208.83 L52.35,208.56 L52.60,207.83 L52.85,208.05 L53.10,209.35 L53.35,209.53 L53.60,210.63 L53.85,210.67 L54.10,210.99 L54.35,210.78 L54.60,210.70 L54.85,211.10 L55.10,210.46 L55.35,210.84 L55.60,210.76 L55.85,210.71 L56.10,210.88 L56.35,210.93 L56.60,210.66 L56.85,210.69 L57.10,210.63 L57.35,209.23 L57.60,205.94 L57.85,197.25 L58.10,180.86 L58.35,160.29 L58.60,144.26 L58.85,142.31 L59.10,156.50 L59.35,176.82 L59.60,194.35 L59.85,204.96 L60.10,208.40 L60.35,208.99 L60.60,207.39 L60.85,200.90 L61.11,191.13 L61.36,179.27 L61.61,171.17 L61.86,172.89 L62.11,182.03 L62.36,193.57 L62.61,202.79 L62.86,207.57 L63.11,208.01 L63.36,206.01 L63.61,201.69 L63.86,196.71 L64.11,192.87 L64.36,193.58 L64.61,198.03 L64.86,203.50 L65.11,207.25 L65.36,209.61 L65.61,209.77 L65.86,208.73 L66.11,207.00 L66.36,204.89 L66.61,203.22 L66.86,203.60 L67.11,205.15 L67.36,207.58 L67.61,208.96 L67.86,209.86 L68.11,210.20 L68.36,210.23 L68.61,209.61 L68.86,208.20 L69.11,207.74 L69.36,207.97 L69.61,208.84 L69.86,209.76 L70.12,210.11 L70.37,210.54 L70.62,210.66 L70.87,210.67 L71.12,210.60 L71.37,211.00 L71.62,210.96 L71.87,210.44 L72.12,210.48 L72.37,210.51 L72.62,211.11 L72.87,211.07 L73.12,210.81 L73.37,210.31 L73.62,209.11 L73.87,207.34 L74.12,203.91 L74.37,201.32 L74.62,200.23 L74.87,201.27 L75.12,204.43 L75.37,207.35 L75.62,209.38 L75.87,209.85 L76.12,209.47 L76.37,207.87 L76.62,205.63 L76.87,204.13 L77.12,204.67 L77.37,206.05 L77.62,207.52 L77.87,209.24 L78.12,210.01 L78.37,210.63 L78.62,210.18 L78.87,209.49 L79.12,207.90 L79.38,207.11 L79.63,206.51 L79.88,206.85 L80.13,208.51 L80.38,209.49 L80.63,210.08 L80.88,210.26 L81.13,210.61 L81.38,210.40 L81.63,210.14 L81.88,209.05 L82.13,209.30 L82.38,209.39 L82.63,209.49 L82.88,210.08 L83.13,210.32 L83.38,210.80 L83.63,210.48 L83.88,210.88 L84.13,210.55 L84.38,209.91 L84.63,210.06 L84.88,209.86 L85.13,209.75 L85.38,210.09 L85.63,210.67 L85.88,210.93 L86.13,210.85 L86.38,210.61 L86.63,210.88 L86.88,211.06 L87.13,210.63 L87.38,210.73 L87.63,210.48 L87.88,210.46 L88.13,210.48 L88.39,210.83 L88.64,210.56 L88.89,210.92 L89.14,210.91 L89.39,210.85 L89.64,210.47 L89.89,210.50 L90.14,210.96 L90.39,210.88 L90.64,210.88 L90.89,210.88 L91.14,210.86 L91.39,210.86 L91.64,211.00 L91.89,210.74 L92.14,210.57 L92.39,210.75 L92.64,210.54 L92.89,210.74 L93.14,211.01 L93.39,210.59 L93.64,210.51 L93.89,210.94 L94.14,211.12 L94.39,210.77 L94.64,210.75 L94.89,210.73 L95.14,210.45 L95.39,210.67 L95.64,210.56 L95.89,211.09 L96.14,210.75 L96.39,210.57 L96.64,211.08 L96.89,211.08 L97.14,210.61 L97.40,210.49 L97.65,211.08 L97.90,210.68 L98.15,211.04 L98.40,210.60 L98.65,210.67 L98.90,210.96 L99.15,210.98 L99.40,210.59 L99.65,210.77 L99.90,210.59 L100.15,210.86 L100.40,210.90 L100.65,210.44 L100.90,210.66 L101.15,210.79 L101.40,210.75 L101.65,210.62 L101.90,210.63" stroke="#1a1a1a" stroke-width="1.25" fill="none" stroke-linejoin="round"/>
<path d="M54.20,210.87 L54.47,208.81 L54.73,202.73 L55.00,189.48 L55.27,169.01 L55.53,148.46 L55.80,139.60 L56.07,148.46 L56.33,169.01 L56.60,189.48 L56.87,202.73 L57.13,208.81 L57.40,210.87" stroke="#f08a32" stroke-width="1.2" fill="#f7bf8e" stroke-linejoin="round"/>
<path d="M70.30,211.40 L70.57,211.06 L70.83,210.05 L71.10,207.87 L71.37,204.49 L71.63,201.10 L71.90,199.64 L72.17,201.10 L72.43,204.49 L72.70,207.87 L72.97,210.05 L73.23,211.06 L73.50,211.40" stroke="#f08a32" stroke-width="1.2" fill="#f7bf8e" stroke-linejoin="round"/>
<path d="M85.90,211.48 L86.17,211.42 L86.43,211.25 L86.70,210.86 L86.97,210.27 L87.23,209.67 L87.50,209.41 L87.77,209.67 L88.03,210.27 L88.30,210.86 L88.57,211.25 L88.83,211.42 L89.10,211.48" stroke="#f08a32" stroke-width="1.2" fill="#f7bf8e" stroke-linejoin="round"/>
<path d="M42.60,211.41 L42.87,211.11 L43.13,210.23 L43.40,208.31 L43.67,205.34 L43.93,202.36 L44.20,201.07 L44.47,202.36 L44.73,205.34 L45.00,208.31 L45.27,210.23 L45.53,211.11 L45.80,211.41" stroke="#f08a32" stroke-width="1.2" fill="#f7bf8e" stroke-linejoin="round"/>
<path d="M10.80,301.14 L11.05,301.51 L11.30,301.21 L11.55,301.32 L11.80,301.19 L12.05,301.22 L12.30,301.20 L12.55,301.16 L12.80,301.11 L13.05,301.34 L13.30,301.43 L13.55,301.29 L13.80,301.23 L14.05,301.50 L14.30,301.50 L14.55,301.70 L14.80,301.27 L15.05,301.09 L15.30,301.53 L15.56,301.68 L15.81,301.66 L16.06,301.50 L16.31,301.59 L16.56,301.11 L16.81,301.76 L17.06,301.58 L17.31,301.72 L17.56,301.34 L17.81,301.24 L18.06,301.67 L18.31,301.76 L18.56,301.47 L18.81,301.38 L19.06,301.15 L19.31,301.78 L19.56,301.72 L19.81,301.67 L20.06,301.65 L20.31,301.63 L20.56,301.29 L20.81,301.37 L21.06,301.64 L21.31,301.67 L21.56,301.60 L21.81,301.68 L22.06,301.26 L22.31,301.58 L22.56,301.41 L22.81,301.21 L23.06,301.46 L23.31,301.62 L23.56,301.16 L23.81,301.15 L24.06,301.56 L24.31,301.41 L24.57,301.11 L24.82,301.46 L25.07,301.64 L25.32,301.77 L25.57,301.12 L25.82,301.23 L26.07,301.53 L26.32,301.42 L26.57,301.43 L26.82,301.61 L27.07,301.09 L27.32,301.33 L27.57,301.63 L27.82,301.79 L28.07,301.46 L28.32,301.54 L28.57,301.23 L28.82,301.29 L29.07,301.37 L29.32,301.69 L29.57,301.69 L29.82,301.57 L30.07,301.62 L30.32,301.18 L30.57,301.43 L30.82,301.34 L31.07,301.09 L31.32,301.61 L31.57,301.42 L31.82,301.69 L32.07,301.25 L32.32,301.80 L32.57,301.21 L32.82,301.19 L33.07,301.21 L33.32,301.74 L33.58,301.61 L33.83,301.28 L34.08,303.13 L34.33,302.71 L34.58,302.25 L34.83,300.79 L35.08,299.08 L35.33,296.47 L35.58,295.14 L35.83,294.81 L36.08,296.82 L36.33,298.82 L36.58,301.15 L36.83,301.04 L37.08,300.41 L37.33,297.79 L37.58,295.01 L37.83,293.59 L38.08,293.61 L38.33,296.35 L38.58,299.13 L38.83,301.19 L39.08,301.50 L39.33,300.47 L39.58,298.37 L39.83,296.56 L40.08,295.34 L40.33,296.52 L40.58,298.31 L40.83,300.38 L41.08,301.47 L41.33,302.29 L41.58,302.68 L41.83,303.21 L42.08,302.97 L42.33,302.73 L42.58,303.07 L42.84,302.83 L43.09,302.91 L43.34,303.23 L43.59,302.53 L43.84,302.67 L44.09,303.09 L44.34,302.80 L44.59,303.03 L44.84,302.97 L45.09,302.85 L45.34,302.99 L45.59,302.82 L45.84,302.31 L46.09,300.93 L46.34,299.04 L46.59,296.22 L46.84,293.56 L47.09,293.52 L47.34,294.92 L47.59,298.04 L47.84,300.36 L48.09,302.04 L48.34,302.09 L48.59,302.20 L48.84,300.92 L49.09,299.01 L49.34,296.65 L49.59,295.76 L49.84,296.91 L50.09,298.65 L50.34,300.26 L50.59,301.56 L50.84,302.03 L51.09,301.09 L51.34,299.69 L51.59,298.39 L51.85,297.79 L52.10,298.84 L52.35,299.71 L52.60,301.39 L52.85,301.99 L53.10,301.75 L53.35,300.81 L53.60,299.52 L53.85,298.84 L54.10,298.77 L54.35,299.56 L54.60,301.12 L54.85,301.93 L55.10,302.35 L55.35,302.42 L55.60,302.65 L55.85,302.76 L56.10,302.80 L56.35,303.23 L56.60,303.00 L56.85,302.95 L57.10,302.50 L57.35,301.90 L57.60,298.43 L57.85,290.24 L58.10,275.27 L58.35,256.38 L58.60,242.02 L58.85,240.97 L59.10,253.21 L59.35,271.93 L59.60,288.04 L59.85,297.30 L60.10,300.63 L60.35,300.54 L60.60,296.47 L60.85,289.13 L61.11,280.34 L61.36,273.21 L61.61,272.55 L61.86,279.22 L62.11,287.81 L62.36,295.68 L62.61,300.36 L62.86,302.02 L63.11,301.59 L63.36,299.39 L63.61,295.74 L63.86,291.85 L64.11,288.71 L64.36,289.58 L64.61,292.82 L64.86,297.24 L65.11,299.80 L65.36,302.00 L65.61,301.69 L65.86,301.12 L66.11,299.42 L66.36,297.41 L66.61,296.33 L66.86,296.10 L67.11,297.66 L67.36,299.81 L67.61,301.50 L67.86,302.61 L68.11,302.25 L68.36,302.30 L68.61,301.15 L68.86,300.77 L69.11,299.99 L69.36,299.92 L69.61,301.07 L69.86,301.66 L70.12,302.65 L70.37,303.03 L70.62,303.06 L70.87,302.52 L71.12,302.56 L71.37,302.77 L71.62,303.02 L71.87,302.76 L72.12,302.71 L72.37,302.96 L72.62,302.80 L72.87,302.54 L73.12,302.62 L73.37,300.71 L73.62,295.69 L73.87,286.14 L74.12,271.79 L74.37,258.34 L74.62,253.69 L74.87,260.12 L75.12,274.26 L75.37,287.63 L75.62,296.27 L75.87,298.79 L76.12,297.17 L76.37,290.84 L76.62,283.56 L76.87,277.35 L77.12,277.55 L77.37,283.20 L77.62,290.98 L77.87,297.13 L78.12,300.65 L78.37,302.04 L78.62,302.29 L78.87,301.91 L79.12,299.93 L79.38,297.14 L79.63,293.55 L79.88,291.30 L80.13,291.30 L80.38,293.79 L80.63,297.11 L80.88,300.25 L81.13,301.78 L81.38,302.20 L81.63,301.27 L81.88,300.35 L82.13,298.84 L82.38,297.13 L82.63,297.03 L82.88,298.40 L83.13,300.20 L83.38,301.46 L83.63,302.51 L83.88,302.48 L84.13,302.61 L84.38,301.98 L84.63,301.00 L84.88,300.43 L85.13,300.52 L85.38,301.32 L85.63,301.61 L85.88,302.33 L86.13,302.88 L86.38,302.97 L86.63,302.94 L86.88,303.07 L87.13,303.19 L87.38,302.59 L87.63,302.55 L87.88,302.76 L88.13,302.62 L88.39,302.94 L88.64,302.66 L88.89,303.06 L89.14,302.60 L89.39,302.43 L89.64,301.38 L89.89,300.36 L90.14,297.61 L90.39,296.06 L90.64,295.11 L90.89,295.98 L91.14,298.89 L91.39,300.81 L91.64,302.04 L91.89,302.42 L92.14,302.31 L92.39,300.88 L92.64,299.88 L92.89,299.45 L93.14,299.53 L93.39,300.17 L93.64,301.62 L93.89,302.47 L94.14,302.28 L94.39,302.79 L94.64,302.45 L94.89,301.71 L95.14,301.15 L95.39,301.14 L95.64,301.37 L95.89,301.71 L96.14,301.79 L96.39,302.23 L96.64,302.97 L96.89,302.60 L97.14,302.98 L97.40,302.90 L97.65,303.12 L97.90,302.61 L98.15,302.52 L98.40,303.10 L98.65,302.79 L98.90,303.10 L99.15,302.61 L99.40,303.20 L99.65,303.16 L99.90,302.72 L100.15,303.02 L100.40,302.59 L100.65,302.62 L100.90,302.73 L101.15,303.14 L101.40,302.74 L101.65,302.57 L101.90,302.92 L101.90,302.88 L101.65,302.88 L101.40,302.88 L101.15,302.88 L100.90,302.88 L100.65,302.88 L100.40,302.88 L100.15,302.88 L99.90,302.88 L99.65,302.88 L99.40,302.88 L99.15,302.88 L98.90,302.88 L98.65,302.88 L98.40,302.88 L98.15,302.88 L97.90,302.88 L97.65,302.88 L97.40,302.88 L97.14,302.88 L96.89,302.88 L96.64,302.88 L96.39,302.88 L96.14,302.88 L95.89,302.88 L95.64,302.88 L95.39,302.88 L95.14,302.88 L94.89,302.88 L94.64,302.88 L94.39,302.88 L94.14,302.88 L93.89,302.88 L93.64,302.88 L93.39,302.88 L93.14,302.88 L92.89,302.88 L92.64,302.88 L92.39,302.88 L92.14,302.88 L91.89,302.88 L91.64,302.88 L91.39,302.88 L91.14,302.88 L90.89,302.88 L90.64,302.88 L90.39,302.88 L90.14,302.88 L89.89,302.88 L89.64,302.88 L89.39,302.88 L89.14,302.88 L88.89,302.88 L88.64,302.88 L88.39,302.88 L88.13,302.88 L87.88,302.88 L87.63,302.88 L87.38,302.88 L87.13,302.88 L86.88,302.88 L86.63,302.88 L86.38,302.88 L86.13,302.88 L85.88,302.88 L85.63,302.88 L85.38,302.88 L85.13,302.88 L84.88,302.88 L84.63,302.88 L84.38,302.88 L84.13,302.88 L83.88,302.88 L83.63,302.88 L83.38,302.88 L83.13,302.88 L82.88,302.88 L82.63,302.88 L82.38,302.88 L82.13,302.88 L81.88,302.88 L81.63,302.88 L81.38,302.88 L81.13,302.88 L80.88,302.88 L80.63,302.88 L80.38,302.88 L80.13,302.88 L79.88,302.88 L79.63,302.88 L79.38,302.88 L79.12,302.88 L78.87,302.88 L78.62,302.88 L78.37,302.88 L78.12,302.88 L77.87,302.88 L77.62,302.88 L77.37,302.88 L77.12,302.88 L76.87,302.88 L76.62,302.88 L76.37,302.88 L76.12,302.88 L75.87,302.88 L75.62,302.88 L75.37,302.88 L75.12,302.88 L74.87,302.88 L74.62,302.88 L74.37,302.88 L74.12,302.88 L73.87,302.88 L73.62,302.88 L73.37,302.88 L73.12,302.88 L72.87,302.88 L72.62,302.88 L72.37,302.88 L72.12,302.88 L71.87,302.88 L71.62,302.88 L71.37,302.88 L71.12,302.88 L70.87,302.88 L70.62,302.88 L70.37,302.88 L70.12,302.88 L69.86,302.88 L69.61,302.88 L69.36,302.88 L69.11,302.88 L68.86,302.88 L68.61,302.88 L68.36,302.88 L68.11,302.88 L67.86,302.88 L67.61,302.88 L67.36,302.88 L67.11,302.88 L66.86,302.88 L66.61,302.88 L66.36,302.88 L66.11,302.88 L65.86,302.88 L65.61,302.88 L65.36,302.88 L65.11,302.88 L64.86,302.88 L64.61,302.88 L64.36,302.88 L64.11,302.88 L63.86,302.88 L63.61,302.88 L63.36,302.88 L63.11,302.88 L62.86,302.88 L62.61,302.88 L62.36,302.88 L62.11,302.88 L61.86,302.88 L61.61,302.88 L61.36,302.88 L61.11,302.88 L60.85,302.88 L60.60,302.88 L60.35,302.88 L60.10,302.88 L59.85,302.88 L59.60,302.88 L59.35,302.88 L59.10,302.88 L58.85,302.88 L58.60,302.88 L58.35,302.88 L58.10,302.88 L57.85,302.88 L57.60,302.88 L57.35,302.88 L57.10,302.88 L56.85,302.88 L56.60,302.88 L56.35,302.88 L56.10,302.88 L55.85,302.88 L55.60,302.88 L55.35,302.88 L55.10,302.88 L54.85,302.88 L54.60,302.88 L54.35,302.88 L54.10,302.88 L53.85,302.88 L53.60,302.88 L53.35,302.88 L53.10,302.88 L52.85,302.88 L52.60,302.88 L52.35,302.88 L52.10,302.88 L51.85,302.88 L51.59,302.88 L51.34,302.88 L51.09,302.88 L50.84,302.88 L50.59,302.88 L50.34,302.88 L50.09,302.88 L49.84,302.88 L49.59,302.88 L49.34,302.88 L49.09,302.88 L48.84,302.88 L48.59,302.88 L48.34,302.88 L48.09,302.88 L47.84,302.88 L47.59,302.88 L47.34,302.88 L47.09,302.88 L46.84,302.88 L46.59,302.88 L46.34,302.88 L46.09,302.88 L45.84,302.88 L45.59,302.88 L45.34,302.88 L45.09,302.88 L44.84,302.88 L44.59,302.88 L44.34,302.88 L44.09,302.88 L43.84,302.88 L43.59,302.88 L43.34,302.88 L43.09,302.88 L42.84,302.88 L42.58,302.88 L42.33,302.88 L42.08,302.88 L41.83,302.88 L41.58,302.88 L41.33,302.88 L41.08,302.88 L40.83,302.88 L40.58,302.88 L40.33,302.88 L40.08,302.88 L39.83,302.88 L39.58,302.88 L39.33,302.88 L39.08,302.88 L38.83,302.88 L38.58,302.88 L38.33,302.88 L38.08,302.88 L37.83,302.88 L37.58,302.88 L37.33,302.88 L37.08,302.88 L36.83,302.88 L36.58,302.88 L36.33,302.88 L36.08,302.88 L35.83,302.88 L35.58,302.88 L35.33,302.88 L35.08,302.88 L34.83,302.88 L34.58,302.88 L34.33,302.88 L34.08,302.88 L33.83,301.44 L33.58,301.44 L33.32,301.44 L33.07,301.44 L32.82,301.44 L32.57,301.44 L32.32,301.44 L32.07,301.44 L31.82,301.44 L31.57,301.44 L31.32,301.44 L31.07,301.44 L30.82,301.44 L30.57,301.44 L30.32,301.44 L30.07,301.44 L29.82,301.44 L29.57,301.44 L29.32,301.44 L29.07,301.44 L28.82,301.44 L28.57,301.44 L28.32,301.44 L28.07,301.44 L27.82,301.44 L27.57,301.44 L27.32,301.44 L27.07,301.44 L26.82,301.44 L26.57,301.44 L26.32,301.44 L26.07,301.44 L25.82,301.44 L25.57,301.44 L25.32,301.44 L25.07,301.44 L24.82,301.44 L24.57,301.44 L24.31,301.44 L24.06,301.44 L23.81,301.44 L23.56,301.44 L23.31,301.44 L23.06,301.44 L22.81,301.44 L22.56,301.44 L22.31,301.44 L22.06,301.44 L21.81,301.44 L21.56,301.44 L21.31,301.44 L21.06,301.44 L20.81,301.44 L20.56,301.44 L20.31,301.44 L20.06,301.44 L19.81,301.44 L19.56,301.44 L19.31,301.44 L19.06,301.44 L18.81,301.44 L18.56,301.44 L18.31,301.44 L18.06,301.44 L17.81,301.44 L17.56,301.44 L17.31,301.44 L17.06,301.44 L16.81,301.44 L16.56,301.44 L16.31,301.44 L16.06,301.44 L15.81,301.44 L15.56,301.44 L15.30,301.44 L15.05,301.44 L14.80,301.44 L14.55,301.44 L14.30,301.44 L14.05,301.44 L13.80,301.44 L13.55,301.44 L13.30,301.44 L13.05,301.44 L12.80,301.44 L12.55,301.44 L12.30,301.44 L12.05,301.44 L11.80,301.44 L11.55,301.44 L11.30,301.44 L11.05,301.44 L10.80,301.44 Z" stroke="none" stroke-width="0" fill="#7a7a7a"/>
<path d="M10.80,301.14 L11.05,301.51 L11.30,301.21 L11.55,301.32 L11.80,301.19 L12.05,301.22 L12.30,301.20 L12.55,301.16 L12.80,301.11 L13.05,301.34 L13.30,301.43 L13.55,301.29 L13.80,301.23 L14.05,301.50 L14.30,301.50 L14.55,301.70 L14.80,301.27 L15.05,301.09 L15.30,301.53 L15.56,301.68 L15.81,301.66 L16.06,301.50 L16.31,301.59 L16.56,301.11 L16.81,301.76 L17.06,301.58 L17.31,301.72 L17.56,301.34 L17.81,301.24 L18.06,301.67 L18.31,301.76 L18.56,301.47 L18.81,301.38 L19.06,301.15 L19.31,301.78 L19.56,301.72 L19.81,301.67 L20.06,301.65 L20.31,301.63 L20.56,301.29 L20.81,301.37 L21.06,301.64 L21.31,301.67 L21.56,301.60 L21.81,301.68 L22.06,301.26 L22.31,301.58 L22.56,301.41 L22.81,301.21 L23.06,301.46 L23.31,301.62 L23.56,301.16 L23.81,301.15 L24.06,301.56 L24.31,301.41 L24.57,301.11 L24.82,301.46 L25.07,301.64 L25.32,301.77 L25.57,301.12 L25.82,301.23 L26.07,301.53 L26.32,301.42 L26.57,301.43 L26.82,301.61 L27.07,301.09 L27.32,301.33 L27.57,301.63 L27.82,301.79 L28.07,301.46 L28.32,301.54 L28.57,301.23 L28.82,301.29 L29.07,301.37 L29.32,301.69 L29.57,301.69 L29.82,301.57 L30.07,301.62 L30.32,301.18 L30.57,301.43 L30.82,301.34 L31.07,301.09 L31.32,301.61 L31.57,301.42 L31.82,301.69 L32.07,301.25 L32.32,301.80 L32.57,301.21 L32.82,301.19 L33.07,301.21 L33.32,301.74 L33.58,301.61 L33.83,301.28 L34.08,303.13 L34.33,302.71 L34.58,302.25 L34.83,300.79 L35.08,299.08 L35.33,296.47 L35.58,295.14 L35.83,294.81 L36.08,296.82 L36.33,298.82 L36.58,301.15 L36.83,301.04 L37.08,300.41 L37.33,297.79 L37.58,295.01 L37.83,293.59 L38.08,293.61 L38.33,296.35 L38.58,299.13 L38.83,301.19 L39.08,301.50 L39.33,300.47 L39.58,298.37 L39.83,296.56 L40.08,295.34 L40.33,296.52 L40.58,298.31 L40.83,300.38 L41.08,301.47 L41.33,302.29 L41.58,302.68 L41.83,303.21 L42.08,302.97 L42.33,302.73 L42.58,303.07 L42.84,302.83 L43.09,302.91 L43.34,303.23 L43.59,302.53 L43.84,302.67 L44.09,303.09 L44.34,302.80 L44.59,303.03 L44.84,302.97 L45.09,302.85 L45.34,302.99 L45.59,302.82 L45.84,302.31 L46.09,300.93 L46.34,299.04 L46.59,296.22 L46.84,293.56 L47.09,293.52 L47.34,294.92 L47.59,298.04 L47.84,300.36 L48.09,302.04 L48.34,302.09 L48.59,302.20 L48.84,300.92 L49.09,299.01 L49.34,296.65 L49.59,295.76 L49.84,296.91 L50.09,298.65 L50.34,300.26 L50.59,301.56 L50.84,302.03 L51.09,301.09 L51.34,299.69 L51.59,298.39 L51.85,297.79 L52.10,298.84 L52.35,299.71 L52.60,301.39 L52.85,301.99 L53.10,301.75 L53.35,300.81 L53.60,299.52 L53.85,298.84 L54.10,298.77 L54.35,299.56 L54.60,301.12 L54.85,301.93 L55.10,302.35 L55.35,302.42 L55.60,302.65 L55.85,302.76 L56.10,302.80 L56.35,303.23 L56.60,303.00 L56.85,302.95 L57.10,302.50 L57.35,301.90 L57.60,298.43 L57.85,290.24 L58.10,275.27 L58.35,256.38 L58.60,242.02 L58.85,240.97 L59.10,253.21 L59.35,271.93 L59.60,288.04 L59.85,297.30 L60.10,300.63 L60.35,300.54 L60.60,296.47 L60.85,289.13 L61.11,280.34 L61.36,273.21 L61.61,272.55 L61.86,279.22 L62.11,287.81 L62.36,295.68 L62.61,300.36 L62.86,302.02 L63.11,301.59 L63.36,299.39 L63.61,295.74 L63.86,291.85 L64.11,288.71 L64.36,289.58 L64.61,292.82 L64.86,297.24 L65.11,299.80 L65.36,302.00 L65.61,301.69 L65.86,301.12 L66.11,299.42 L66.36,297.41 L66.61,296.33 L66.86,296.10 L67.11,297.66 L67.36,299.81 L67.61,301.50 L67.86,302.61 L68.11,302.25 L68.36,302.30 L68.61,301.15 L68.86,300.77 L69.11,299.99 L69.36,299.92 L69.61,301.07 L69.86,301.66 L70.12,302.65 L70.37,303.03 L70.62,303.06 L70.87,302.52 L71.12,302.56 L71.37,302.77 L71.62,303.02 L71.87,302.76 L72.12,302.71 L72.37,302.96 L72.62,302.80 L72.87,302.54 L73.12,302.62 L73.37,300.71 L73.62,295.69 L73.87,286.14 L74.12,271.79 L74.37,258.34 L74.62,253.69 L74.87,260.12 L75.12,274.26 L75.37,287.63 L75.62,296.27 L75.87,298.79 L76.12,297.17 L76.37,290.84 L76.62,283.56 L76.87,277.35 L77.12,277.55 L77.37,283.20 L77.62,290.98 L77.87,297.13 L78.12,300.65 L78.37,302.04 L78.62,302.29 L78.87,301.91 L79.12,299.93 L79.38,297.14 L79.63,293.55 L79.88,291.30 L80.13,291.30 L80.38,293.79 L80.63,297.11 L80.88,300.25 L81.13,301.78 L81.38,302.20 L81.63,301.27 L81.88,300.35 L82.13,298.84 L82.38,297.13 L82.63,297.03 L82.88,298.40 L83.13,300.20 L83.38,301.46 L83.63,302.51 L83.88,302.48 L84.13,302.61 L84.38,301.98 L84.63,301.00 L84.88,300.43 L85.13,300.52 L85.38,301.32 L85.63,301.61 L85.88,302.33 L86.13,302.88 L86.38,302.97 L86.63,302.94 L86.88,303.07 L87.13,303.19 L87.38,302.59 L87.63,302.55 L87.88,302.76 L88.13,302.62 L88.39,302.94 L88.64,302.66 L88.89,303.06 L89.14,302.60 L89.39,302.43 L89.64,301.38 L89.89,300.36 L90.14,297.61 L90.39,296.06 L90.64,295.11 L90.89,295.98 L91.14,298.89 L91.39,300.81 L91.64,302.04 L91.89,302.42 L92.14,302.31 L92.39,300.88 L92.64,299.88 L92.89,299.45 L93.14,299.53 L93.39,300.17 L93.64,301.62 L93.89,302.47 L94.14,302.28 L94.39,302.79 L94.64,302.45 L94.89,301.71 L95.14,301.15 L95.39,301.14 L95.64,301.37 L95.89,301.71 L96.14,301.79 L96.39,302.23 L96.64,302.97 L96.89,302.60 L97.14,302.98 L97.40,302.90 L97.65,303.12 L97.90,302.61 L98.15,302.52 L98.40,303.10 L98.65,302.79 L98.90,303.10 L99.15,302.61 L99.40,303.20 L99.65,303.16 L99.90,302.72 L100.15,303.02 L100.40,302.59 L100.65,302.62 L100.90,302.73 L101.15,303.14 L101.40,302.74 L101.65,302.57 L101.90,302.92" stroke="#1a1a1a" stroke-width="1.25" fill="none" stroke-linejoin="round"/>
<path d="M54.20,302.97 L54.47,300.91 L54.73,294.83 L55.00,281.58 L55.27,261.11 L55.53,240.56 L55.80,231.70 L56.07,240.56 L56.33,261.11 L56.60,281.58 L56.87,294.83 L57.13,300.91 L57.40,302.97" stroke="#f08a32" stroke-width="1.2" fill="#f7bf8e" stroke-linejoin="round"/>
<path d="M70.30,303.10 L70.57,301.48 L70.83,296.67 L71.10,286.21 L71.37,270.03 L71.63,253.80 L71.90,246.80 L72.17,253.80 L72.43,270.03 L72.70,286.21 L72.97,296.67 L73.23,301.48 L73.50,303.10" stroke="#f08a32" stroke-width="1.2" fill="#f7bf8e" stroke-linejoin="round"/>
<path d="M86.30,303.52 L86.57,303.25 L86.83,302.47 L87.10,300.76 L87.37,298.12 L87.63,295.47 L87.90,294.32 L88.17,295.47 L88.43,298.12 L88.70,300.76 L88.97,302.47 L89.23,303.25 L89.50,303.52" stroke="#f08a32" stroke-width="1.2" fill="#f7bf8e" stroke-linejoin="round"/>
<path d="M42.20,303.49 L42.47,303.15 L42.73,302.13 L43.00,299.90 L43.27,296.46 L43.53,293.01 L43.80,291.52 L44.07,293.01 L44.33,296.46 L44.60,299.90 L44.87,302.13 L45.13,303.15 L45.40,303.49" stroke="#f08a32" stroke-width="1.2" fill="#f7bf8e" stroke-linejoin="round"/>
<path d="M10.80,392.35 L11.05,392.23 L11.30,392.16 L11.55,391.86 L11.80,392.22 L12.05,392.22 L12.30,392.17 L12.55,391.85 L12.80,391.75 L13.05,392.04 L13.30,391.82 L13.55,391.65 L13.80,391.85 L14.05,392.10 L14.30,392.04 L14.55,391.58 L14.80,391.75 L15.05,392.02 L15.30,391.75 L15.56,392.14 L15.81,391.48 L16.06,391.86 L16.31,391.79 L16.56,391.78 L16.81,392.11 L17.06,391.70 L17.31,391.92 L17.56,391.93 L17.81,391.53 L18.06,392.03 L18.31,391.88 L18.56,391.53 L18.81,391.88 L19.06,391.85 L19.31,391.64 L19.56,391.89 L19.81,391.37 L20.06,391.30 L20.31,391.97 L20.56,391.65 L20.81,391.43 L21.06,391.69 L21.31,391.28 L21.56,391.58 L21.81,391.80 L22.06,391.52 L22.31,391.44 L22.56,391.64 L22.81,391.41 L23.06,391.31 L23.31,391.49 L23.56,391.49 L23.81,391.24 L24.06,391.34 L24.31,391.45 L24.57,391.13 L24.82,391.68 L25.07,391.23 L25.32,391.66 L25.57,391.33 L25.82,391.59 L26.07,391.43 L26.32,391.18 L26.57,391.16 L26.82,391.15 L27.07,391.53 L27.32,391.34 L27.57,391.52 L27.82,391.25 L28.07,391.30 L28.32,391.62 L28.57,391.21 L28.82,391.11 L29.07,391.21 L29.32,390.98 L29.57,391.47 L29.82,391.48 L30.07,391.56 L30.32,391.21 L30.57,391.24 L30.82,391.22 L31.07,391.34 L31.32,390.95 L31.57,391.46 L31.82,390.84 L32.07,391.07 L32.32,391.04 L32.57,390.72 L32.82,390.75 L33.07,390.08 L33.32,388.92 L33.58,388.14 L33.83,387.59 L34.08,391.37 L34.33,392.37 L34.58,393.26 L34.83,392.87 L35.08,391.94 L35.33,389.24 L35.58,387.63 L35.83,386.84 L36.08,388.03 L36.33,389.89 L36.58,391.95 L36.83,393.29 L37.08,394.14 L37.33,393.24 L37.58,391.59 L37.83,389.22 L38.08,386.39 L38.33,386.28 L38.58,387.20 L38.83,389.46 L39.08,391.67 L39.33,393.79 L39.58,394.27 L39.83,394.27 L40.08,394.71 L40.33,394.13 L40.58,392.54 L40.83,390.98 L41.08,388.03 L41.33,385.86 L41.58,385.40 L41.83,387.39 L42.08,390.18 L42.33,391.88 L42.58,393.48 L42.84,394.13 L43.09,394.69 L43.34,394.73 L43.59,394.52 L43.84,394.75 L44.09,394.59 L44.34,394.25 L44.59,394.66 L44.84,394.67 L45.09,394.15 L45.34,394.19 L45.59,393.90 L45.84,391.96 L46.09,388.87 L46.34,385.79 L46.59,383.17 L46.84,383.08 L47.09,385.60 L47.34,389.30 L47.59,391.87 L47.84,393.70 L48.09,394.31 L48.34,393.93 L48.59,393.62 L48.84,391.90 L49.09,390.13 L49.34,387.87 L49.59,387.02 L49.84,387.61 L50.09,389.97 L50.34,391.96 L50.59,392.93 L50.84,392.40 L51.09,391.16 L51.34,389.53 L51.59,388.45 L51.85,389.31 L52.10,390.69 L52.35,392.51 L52.60,392.69 L52.85,391.80 L53.10,389.08 L53.35,386.93 L53.60,385.95 L53.85,387.15 L54.10,389.44 L54.35,391.87 L54.60,393.44 L54.85,393.87 L55.10,394.31 L55.35,394.71 L55.60,394.66 L55.85,394.81 L56.10,394.25 L56.35,394.66 L56.60,394.37 L56.85,394.37 L57.10,394.08 L57.35,394.04 L57.60,391.58 L57.85,385.99 L58.10,376.08 L58.35,362.59 L58.60,353.04 L58.85,351.78 L59.10,360.64 L59.35,373.86 L59.60,384.43 L59.85,390.59 L60.10,392.52 L60.35,391.06 L60.60,386.88 L60.85,382.16 L61.11,378.01 L61.36,377.60 L61.61,381.02 L61.86,386.48 L62.11,390.39 L62.36,393.19 L62.61,393.78 L62.86,393.68 L63.11,392.97 L63.36,390.83 L63.61,388.11 L63.86,385.78 L64.11,385.85 L64.36,387.70 L64.61,390.01 L64.86,392.67 L65.11,393.76 L65.36,393.78 L65.61,392.87 L65.86,390.92 L66.11,388.27 L66.36,385.82 L66.61,385.75 L66.86,387.42 L67.11,389.97 L67.36,392.66 L67.61,393.61 L67.86,393.77 L68.11,393.97 L68.36,392.82 L68.61,391.77 L68.86,390.77 L69.11,390.79 L69.36,392.00 L69.61,392.78 L69.86,394.05 L70.12,394.32 L70.37,394.55 L70.62,394.86 L70.87,394.64 L71.12,394.69 L71.37,394.56 L71.62,394.72 L71.87,394.81 L72.12,394.63 L72.37,394.58 L72.62,394.80 L72.87,394.41 L73.12,394.54 L73.37,393.86 L73.62,390.98 L73.87,383.99 L74.12,371.01 L74.37,352.99 L74.62,338.08 L74.87,335.01 L75.12,345.48 L75.37,363.58 L75.62,379.01 L75.87,388.46 L76.12,392.38 L76.37,391.85 L76.62,388.38 L76.87,380.91 L77.12,371.94 L77.37,365.55 L77.62,365.60 L77.87,372.06 L78.12,381.13 L78.37,388.09 L78.62,391.53 L78.87,392.58 L79.12,391.18 L79.38,387.20 L79.63,382.89 L79.88,379.32 L80.13,379.23 L80.38,382.37 L80.63,387.47 L80.88,391.08 L81.13,392.82 L81.38,393.38 L81.63,392.66 L81.88,390.81 L82.13,388.62 L82.38,386.94 L82.63,387.07 L82.88,388.39 L83.13,390.70 L83.38,392.94 L83.63,393.55 L83.88,394.37 L84.13,393.83 L84.38,392.55 L84.63,391.41 L84.88,390.47 L85.13,390.05 L85.38,391.59 L85.63,392.84 L85.88,393.85 L86.13,394.10 L86.38,394.66 L86.63,394.90 L86.88,394.53 L87.13,394.64 L87.38,394.75 L87.63,394.57 L87.88,394.45 L88.13,394.53 L88.39,394.47 L88.64,394.49 L88.89,394.19 L89.14,393.68 L89.39,392.99 L89.64,390.55 L89.89,386.47 L90.14,383.17 L90.39,381.18 L90.64,382.60 L90.89,386.21 L91.14,389.76 L91.39,392.37 L91.64,393.86 L91.89,393.29 L92.14,392.05 L92.39,389.81 L92.64,387.75 L92.89,386.81 L93.14,387.34 L93.39,389.65 L93.64,392.11 L93.89,393.61 L94.14,394.24 L94.39,394.39 L94.64,393.71 L94.89,393.11 L95.14,392.09 L95.39,391.36 L95.64,391.40 L95.89,391.78 L96.14,393.27 L96.39,393.86 L96.64,394.06 L96.89,394.35 L97.14,394.37 L97.40,393.43 L97.65,392.90 L97.90,393.12 L98.15,393.02 L98.40,393.24 L98.65,393.57 L98.90,394.28 L99.15,394.28 L99.40,394.70 L99.65,394.40 L99.90,394.69 L100.15,394.68 L100.40,394.38 L100.65,394.32 L100.90,394.33 L101.15,394.51 L101.40,394.62 L101.65,394.41 L101.90,394.47 L101.90,394.56 L101.65,394.56 L101.40,394.56 L101.15,394.56 L100.90,394.56 L100.65,394.56 L100.40,394.56 L100.15,394.56 L99.90,394.56 L99.65,394.56 L99.40,394.56 L99.15,394.56 L98.90,394.56 L98.65,394.56 L98.40,394.56 L98.15,394.56 L97.90,394.56 L97.65,394.56 L97.40,394.56 L97.14,394.56 L96.89,394.56 L96.64,394.56 L96.39,394.56 L96.14,394.56 L95.89,394.56 L95.64,394.56 L95.39,394.56 L95.14,394.56 L94.89,394.56 L94.64,394.56 L94.39,394.56 L94.14,394.56 L93.89,394.56 L93.64,394.56 L93.39,394.56 L93.14,394.56 L92.89,394.56 L92.64,394.56 L92.39,394.56 L92.14,394.56 L91.89,394.56 L91.64,394.56 L91.39,394.56 L91.14,394.56 L90.89,394.56 L90.64,394.56 L90.39,394.56 L90.14,394.56 L89.89,394.56 L89.64,394.56 L89.39,394.56 L89.14,394.56 L88.89,394.56 L88.64,394.56 L88.39,394.56 L88.13,394.56 L87.88,394.56 L87.63,394.56 L87.38,394.56 L87.13,394.56 L86.88,394.56 L86.63,394.56 L86.38,394.56 L86.13,394.56 L85.88,394.56 L85.63,394.56 L85.38,394.56 L85.13,394.56 L84.88,394.56 L84.63,394.56 L84.38,394.56 L84.13,394.56 L83.88,394.56 L83.63,394.56 L83.38,394.56 L83.13,394.56 L82.88,394.56 L82.63,394.56 L82.38,394.56 L82.13,394.56 L81.88,394.56 L81.63,394.56 L81.38,394.56 L81.13,394.56 L80.88,394.56 L80.63,394.56 L80.38,394.56 L80.13,394.56 L79.88,394.56 L79.63,394.56 L79.38,394.56 L79.12,394.56 L78.87,394.56 L78.62,394.56 L78.37,394.56 L78.12,394.56 L77.87,394.56 L77.62,394.56 L77.37,394.56 L77.12,394.56 L76.87,394.56 L76.62,394.56 L76.37,394.56 L76.12,394.56 L75.87,394.56 L75.62,394.56 L75.37,394.56 L75.12,394.56 L74.87,394.56 L74.62,394.56 L74.37,394.56 L74.12,394.56 L73.87,394.56 L73.62,394.56 L73.37,394.56 L73.12,394.56 L72.87,394.56 L72.62,394.56 L72.37,394.56 L72.12,394.56 L71.87,394.56 L71.62,394.56 L71.37,394.56 L71.12,394.56 L70.87,394.56 L70.62,394.56 L70.37,394.56 L70.12,394.56 L69.86,394.56 L69.61,394.56 L69.36,394.56 L69.11,394.56 L68.86,394.56 L68.61,394.56 L68.36,394.56 L68.11,394.56 L67.86,394.56 L67.61,394.56 L67.36,394.56 L67.11,394.56 L66.86,394.56 L66.61,394.56 L66.36,394.56 L66.11,394.56 L65.86,394.56 L65.61,394.56 L65.36,394.56 L65.11,394.56 L64.86,394.56 L64.61,394.56 L64.36,394.56 L64.11,394.56 L63.86,394.56 L63.61,394.56 L63.36,394.56 L63.11,394.56 L62.86,394.56 L62.61,394.56 L62.36,394.56 L62.11,394.56 L61.86,394.56 L61.61,394.56 L61.36,394.56 L61.11,394.56 L60.85,394.56 L60.60,394.56 L60.35,394.56 L60.10,394.56 L59.85,394.56 L59.60,394.56 L59.35,394.56 L59.10,394.56 L58.85,394.56 L58.60,394.56 L58.35,394.56 L58.10,394.56 L57.85,394.56 L57.60,394.56 L57.35,394.56 L57.10,394.56 L56.85,394.56 L56.60,394.56 L56.35,394.56 L56.10,394.56 L55.85,394.56 L55.60,394.56 L55.35,394.56 L55.10,394.56 L54.85,394.56 L54.60,394.56 L54.35,394.56 L54.10,394.56 L53.85,394.56 L53.60,394.56 L53.35,394.56 L53.10,394.56 L52.85,394.56 L52.60,394.56 L52.35,394.56 L52.10,394.56 L51.85,394.56 L51.59,394.56 L51.34,394.56 L51.09,394.56 L50.84,394.56 L50.59,394.56 L50.34,394.56 L50.09,394.56 L49.84,394.56 L49.59,394.56 L49.34,394.56 L49.09,394.56 L48.84,394.56 L48.59,394.56 L48.34,394.56 L48.09,394.56 L47.84,394.56 L47.59,394.56 L47.34,394.56 L47.09,394.56 L46.84,394.56 L46.59,394.56 L46.34,394.56 L46.09,394.56 L45.84,394.56 L45.59,394.56 L45.34,394.56 L45.09,394.56 L44.84,394.56 L44.59,394.56 L44.34,394.56 L44.09,394.56 L43.84,394.56 L43.59,394.56 L43.34,394.56 L43.09,394.56 L42.84,394.56 L42.58,394.56 L42.33,394.56 L42.08,394.56 L41.83,394.56 L41.58,394.56 L41.33,394.56 L41.08,394.56 L40.83,394.56 L40.58,394.56 L40.33,394.56 L40.08,394.56 L39.83,394.56 L39.58,394.56 L39.33,394.56 L39.08,394.56 L38.83,394.56 L38.58,394.56 L38.33,394.56 L38.08,394.56 L37.83,394.56 L37.58,394.56 L37.33,394.56 L37.08,394.56 L36.83,394.56 L36.58,394.56 L36.33,394.56 L36.08,394.56 L35.83,394.56 L35.58,394.56 L35.33,394.56 L35.08,394.56 L34.83,394.56 L34.58,394.56 L34.33,394.56 L34.08,394.56 L33.83,391.05 L33.58,391.06 L33.32,391.07 L33.07,391.08 L32.82,391.10 L32.57,391.11 L32.32,391.12 L32.07,391.13 L31.82,391.14 L31.57,391.15 L31.32,391.16 L31.07,391.17 L30.82,391.18 L30.57,391.19 L30.32,391.20 L30.07,391.21 L29.82,391.22 L29.57,391.24 L29.32,391.25 L29.07,391.26 L28.82,391.27 L28.57,391.28 L28.32,391.29 L28.07,391.30 L27.82,391.31 L27.57,391.32 L27.32,391.33 L27.07,391.34 L26.82,391.35 L26.57,391.37 L26.32,391.38 L26.07,391.39 L25.82,391.40 L25.57,391.41 L25.32,391.42 L25.07,391.43 L24.82,391.44 L24.57,391.45 L24.31,391.46 L24.06,391.47 L23.81,391.48 L23.56,391.49 L23.31,391.51 L23.06,391.52 L22.81,391.53 L22.56,391.54 L22.31,391.55 L22.06,391.56 L21.81,391.57 L21.56,391.58 L21.31,391.59 L21.06,391.60 L20.81,391.61 L20.56,391.62 L20.31,391.64 L20.06,391.65 L19.81,391.66 L19.56,391.67 L19.31,391.68 L19.06,391.69 L18.81,391.70 L18.56,391.71 L18.31,391.72 L18.06,391.73 L17.81,391.74 L17.56,391.75 L17.31,391.76 L17.06,391.78 L16.81,391.79 L16.56,391.80 L16.31,391.81 L16.06,391.82 L15.81,391.83 L15.56,391.84 L15.30,391.85 L15.05,391.86 L14.80,391.87 L14.55,391.88 L14.30,391.89 L14.05,391.91 L13.80,391.92 L13.55,391.93 L13.30,391.94 L13.05,391.95 L12.80,391.96 L12.55,391.97 L12.30,391.98 L12.05,391.99 L11.80,392.00 L11.55,392.01 L11.30,392.02 L11.05,392.03 L10.80,392.05 Z" stroke="none" stroke-width="0" fill="#7a7a7a"/>
<path d="M10.80,392.35 L11.05,392.23 L11.30,392.16 L11.55,391.86 L11.80,392.22 L12.05,392.22 L12.30,392.17 L12.55,391.85 L12.80,391.75 L13.05,392.04 L13.30,391.82 L13.55,391.65 L13.80,391.85 L14.05,392.10 L14.30,392.04 L14.55,391.58 L14.80,391.75 L15.05,392.02 L15.30,391.75 L15.56,392.14 L15.81,391.48 L16.06,391.86 L16.31,391.79 L16.56,391.78 L16.81,392.11 L17.06,391.70 L17.31,391.92 L17.56,391.93 L17.81,391.53 L18.06,392.03 L18.31,391.88 L18.56,391.53 L18.81,391.88 L19.06,391.85 L19.31,391.64 L19.56,391.89 L19.81,391.37 L20.06,391.30 L20.31,391.97 L20.56,391.65 L20.81,391.43 L21.06,391.69 L21.31,391.28 L21.56,391.58 L21.81,391.80 L22.06,391.52 L22.31,391.44 L22.56,391.64 L22.81,391.41 L23.06,391.31 L23.31,391.49 L23.56,391.49 L23.81,391.24 L24.06,391.34 L24.31,391.45 L24.57,391.13 L24.82,391.68 L25.07,391.23 L25.32,391.66 L25.57,391.33 L25.82,391.59 L26.07,391.43 L26.32,391.18 L26.57,391.16 L26.82,391.15 L27.07,391.53 L27.32,391.34 L27.57,391.52 L27.82,391.25 L28.07,391.30 L28.32,391.62 L28.57,391.21 L28.82,391.11 L29.07,391.21 L29.32,390.98 L29.57,391.47 L29.82,391.48 L30.07,391.56 L30.32,391.21 L30.57,391.24 L30.82,391.22 L31.07,391.34 L31.32,390.95 L31.57,391.46 L31.82,390.84 L32.07,391.07 L32.32,391.04 L32.57,390.72 L32.82,390.75 L33.07,390.08 L33.32,388.92 L33.58,388.14 L33.83,387.59 L34.08,391.37 L34.33,392.37 L34.58,393.26 L34.83,392.87 L35.08,391.94 L35.33,389.24 L35.58,387.63 L35.83,386.84 L36.08,388.03 L36.33,389.89 L36.58,391.95 L36.83,393.29 L37.08,394.14 L37.33,393.24 L37.58,391.59 L37.83,389.22 L38.08,386.39 L38.33,386.28 L38.58,387.20 L38.83,389.46 L39.08,391.67 L39.33,393.79 L39.58,394.27 L39.83,394.27 L40.08,394.71 L40.33,394.13 L40.58,392.54 L40.83,390.98 L41.08,388.03 L41.33,385.86 L41.58,385.40 L41.83,387.39 L42.08,390.18 L42.33,391.88 L42.58,393.48 L42.84,394.13 L43.09,394.69 L43.34,394.73 L43.59,394.52 L43.84,394.75 L44.09,394.59 L44.34,394.25 L44.59,394.66 L44.84,394.67 L45.09,394.15 L45.34,394.19 L45.59,393.90 L45.84,391.96 L46.09,388.87 L46.34,385.79 L46.59,383.17 L46.84,383.08 L47.09,385.60 L47.34,389.30 L47.59,391.87 L47.84,393.70 L48.09,394.31 L48.34,393.93 L48.59,393.62 L48.84,391.90 L49.09,390.13 L49.34,387.87 L49.59,387.02 L49.84,387.61 L50.09,389.97 L50.34,391.96 L50.59,392.93 L50.84,392.40 L51.09,391.16 L51.34,389.53 L51.59,388.45 L51.85,389.31 L52.10,390.69 L52.35,392.51 L52.60,392.69 L52.85,391.80 L53.10,389.08 L53.35,386.93 L53.60,385.95 L53.85,387.15 L54.10,389.44 L54.35,391.87 L54.60,393.44 L54.85,393.87 L55.10,394.31 L55.35,394.71 L55.60,394.66 L55.85,394.81 L56.10,394.25 L56.35,394.66 L56.60,394.37 L56.85,394.37 L57.10,394.08 L57.35,394.04 L57.60,391.58 L57.85,385.99 L58.10,376.08 L58.35,362.59 L58.60,353.04 L58.85,351.78 L59.10,360.64 L59.35,373.86 L59.60,384.43 L59.85,390.59 L60.10,392.52 L60.35,391.06 L60.60,386.88 L60.85,382.16 L61.11,378.01 L61.36,377.60 L61.61,381.02 L61.86,386.48 L62.11,390.39 L62.36,393.19 L62.61,393.78 L62.86,393.68 L63.11,392.97 L63.36,390.83 L63.61,388.11 L63.86,385.78 L64.11,385.85 L64.36,387.70 L64.61,390.01 L64.86,392.67 L65.11,393.76 L65.36,393.78 L65.61,392.87 L65.86,390.92 L66.11,388.27 L66.36,385.82 L66.61,385.75 L66.86,387.42 L67.11,389.97 L67.36,392.66 L67.61,393.61 L67.86,393.77 L68.11,393.97 L68.36,392.82 L68.61,391.77 L68.86,390.77 L69.11,390.79 L69.36,392.00 L69.61,392.78 L69.86,394.05 L70.12,394.32 L70.37,394.55 L70.62,394.86 L70.87,394.64 L71.12,394.69 L71.37,394.56 L71.62,394.72 L71.87,394.81 L72.12,394.63 L72.37,394.58 L72.62,394.80 L72.87,394.41 L73.12,394.54 L73.37,393.86 L73.62,390.98 L73.87,383.99 L74.12,371.01 L74.37,352.99 L74.62,338.08 L74.87,335.01 L75.12,345.48 L75.37,363.58 L75.62,379.01 L75.87,388.46 L76.12,392.38 L76.37,391.85 L76.62,388.38 L76.87,380.91 L77.12,371.94 L77.37,365.55 L77.62,365.60 L77.87,372.06 L78.12,381.13 L78.37,388.09 L78.62,391.53 L78.87,392.58 L79.12,391.18 L79.38,387.20 L79.63,382.89 L79.88,379.32 L80.13,379.23 L80.38,382.37 L80.63,387.47 L80.88,391.08 L81.13,392.82 L81.38,393.38 L81.63,392.66 L81.88,390.81 L82.13,388.62 L82.38,386.94 L82.63,387.07 L82.88,388.39 L83.13,390.70 L83.38,392.94 L83.63,393.55 L83.88,394.37 L84.13,393.83 L84.38,392.55 L84.63,391.41 L84.88,390.47 L85.13,390.05 L85.38,391.59 L85.63,392.84 L85.88,393.85 L86.13,394.10 L86.38,394.66 L86.63,394.90 L86.88,394.53 L87.13,394.64 L87.38,394.75 L87.63,394.57 L87.88,394.45 L88.13,394.53 L88.39,394.47 L88.64,394.49 L88.89,394.19 L89.14,393.68 L89.39,392.99 L89.64,390.55 L89.89,386.47 L90.14,383.17 L90.39,381.18 L90.64,382.60 L90.89,386.21 L91.14,389.76 L91.39,392.37 L91.64,393.86 L91.89,393.29 L92.14,392.05 L92.39,389.81 L92.64,387.75 L92.89,386.81 L93.14,387.34 L93.39,389.65 L93.64,392.11 L93.89,393.61 L94.14,394.24 L94.39,394.39 L94.64,393.71 L94.89,393.11 L95.14,392.09 L95.39,391.36 L95.64,391.40 L95.89,391.78 L96.14,393.27 L96.39,393.86 L96.64,394.06 L96.89,394.35 L97.14,394.37 L97.40,393.43 L97.65,392.90 L97.90,393.12 L98.15,393.02 L98.40,393.24 L98.65,393.57 L98.90,394.28 L99.15,394.28 L99.40,394.70 L99.65,394.40 L99.90,394.69 L100.15,394.68 L100.40,394.38 L100.65,394.32 L100.90,394.33 L101.15,394.51 L101.40,394.62 L101.65,394.41 L101.90,394.47" stroke="#1a1a1a" stroke-width="1.25" fill="none" stroke-linejoin="round"/>
<path d="M54.40,395.52 L54.67,393.95 L54.93,389.29 L55.20,379.16 L55.47,363.49 L55.73,347.77 L56.00,341.00 L56.27,347.77 L56.53,363.49 L56.80,379.16 L57.07,389.29 L57.33,393.95 L57.60,395.52" stroke="#f08a32" stroke-width="1.2" fill="#f7bf8e" stroke-linejoin="round"/>
<path d="M70.50,395.37 L70.77,393.31 L71.03,387.23 L71.30,373.98 L71.57,353.51 L71.83,332.96 L72.10,324.10 L72.37,332.96 L72.63,353.51 L72.90,373.98 L73.17,387.23 L73.43,393.31 L73.70,395.37" stroke="#f08a32" stroke-width="1.2" fill="#f7bf8e" stroke-linejoin="round"/>
<path d="M86.30,395.85 L86.57,395.37 L86.83,393.93 L87.10,390.80 L87.37,385.97 L87.63,381.12 L87.90,379.03 L88.17,381.12 L88.43,385.97 L88.70,390.80 L88.97,393.93 L89.23,395.37 L89.50,395.85" stroke="#f08a32" stroke-width="1.2" fill="#f7bf8e" stroke-linejoin="round"/>
<path d="M42.20,395.87 L42.47,395.47 L42.73,394.25 L43.00,391.62 L43.27,387.54 L43.53,383.45 L43.80,381.69 L44.07,383.45 L44.33,387.54 L44.60,391.62 L44.87,394.25 L45.13,395.47 L45.40,395.87" stroke="#f08a32" stroke-width="1.2" fill="#f7bf8e" stroke-linejoin="round"/>
<path d="M385.60,119.50 L386.00,118.66 L387.60,118.71 L389.20,119.68 L390.80,119.32 L392.40,118.90 L394.00,119.53 L395.60,119.59 L397.20,119.84" stroke="#1a1a1a" stroke-width="1.0" fill="none"/>
<path d="M405.20,118.87 L406.80,119.26 L408.40,118.95 L410.00,119.29 L411.60,118.52 L413.20,118.44 L414.80,119.79 L416.40,118.83 L418.00,119.69 L419.60,119.80 L421.20,119.45 L422.80,118.81 L424.40,118.43 L426.00,119.69 L427.60,119.38 L429.20,119.82 L430.80,119.08 L432.40,119.16 L434.00,119.32 L435.60,119.41 L437.20,118.71 L438.80,118.65 L440.40,119.45 L442.00,119.30 L443.60,118.97 L445.20,118.76 L446.80,118.45 L448.40,119.30 L450.00,118.86 L451.60,119.07 L453.20,118.71 L454.80,119.65 L456.40,119.61 L458.00,119.71 L459.60,118.52 L461.20,119.50 L462.80,119.16 L464.40,119.69 L466.00,119.39 L467.60,119.83 L469.20,119.05 L470.80,119.65 L472.40,118.96 L474.00,119.47 L475.60,119.53 L477.20,119.17 L478.80,119.33 L480.40,119.49" stroke="#1a1a1a" stroke-width="1.0" fill="none"/>
<path d="M397.50,119.50 L398.50,119.50 L399.40,47.90 L400.70,85.00 L403.80,119.50" stroke="#cc2c30" stroke-width="1.3" fill="none" stroke-linejoin="round"/>
<path d="M385.60,211.00 C388.73,210.83 391.87,210.90 395.00,210.50 C396.67,210.29 398.33,210.19 400.00,209.50 C401.33,208.95 402.67,207.00 404.00,207.00 C404.83,207.00 405.67,209.50 406.50,209.50 C407.40,209.50 408.30,207.00 409.20,207.00 C410.13,207.00 411.07,209.15 412.00,209.50 C413.33,210.00 414.67,210.00 416.00,210.00 C417.67,210.00 419.33,210.00 421.00,209.50 C421.90,209.23 422.80,206.00 423.70,206.00 C424.30,206.00 424.90,211.00 425.50,211.00 C426.20,211.00 426.90,211.00 427.60,211.00 C428.27,211.00 428.93,182.20 429.60,182.20 C430.27,182.20 430.93,211.00 431.60,211.00 C431.83,211.00 432.07,211.00 432.30,211.00 C432.93,211.00 433.57,140.00 434.20,140.00 C434.60,140.00 435.00,148.25 435.40,152.00 C435.67,154.50 435.93,152.50 436.20,159.00 C436.63,169.56 437.07,193.67 437.50,211.00" stroke="#1a1a1a" stroke-width="1.1" fill="none" stroke-linejoin="round"/>
<path d="M436.20,159.00 C436.60,169.33 437.00,176.43 437.40,190.00 C437.57,195.65 437.73,211.00 437.90,211.00 C438.27,211.00 438.63,180.83 439.00,170.00 C439.47,156.22 439.93,139.50 440.40,139.50 C440.80,139.50 441.20,155.81 441.60,170.00 C441.90,180.65 442.20,197.33 442.50,211.00" stroke="#c8323a" stroke-width="1.2" fill="none" stroke-linejoin="round"/>
<path d="M442.50,211.00 C442.87,211.00 443.23,211.00 443.60,211.00 C444.27,211.00 444.93,195.00 445.60,195.00 C446.27,195.00 446.93,211.00 447.60,211.00 C448.67,211.00 449.73,207.50 450.80,207.50 C451.53,207.50 452.27,210.00 453.00,210.00 C454.00,210.00 455.00,207.50 456.00,207.50 C457.00,207.50 458.00,210.50 459.00,210.50 C461.00,210.50 463.00,210.50 465.00,210.50 C470.00,210.50 475.00,210.83 480.00,211.00" stroke="#1a1a1a" stroke-width="1.1" fill="none" stroke-linejoin="round"/>
<path d="M385.60,303.30 C388.73,303.03 391.87,302.97 395.00,302.50 C396.93,302.21 398.87,301.63 400.80,301.25 C402.20,300.97 403.60,300.86 405.00,300.50 C406.00,300.24 407.00,299.71 408.00,299.50 C409.08,299.27 410.17,299.39 411.25,299.20 C412.17,299.04 413.08,298.68 414.00,298.50 C415.17,298.27 416.33,298.32 417.50,298.00 C418.33,297.77 419.17,297.74 420.00,297.00 C420.90,296.20 421.80,293.30 422.70,293.30 C423.40,293.30 424.10,298.75 424.80,298.75 C425.37,298.75 425.93,293.23 426.50,290.00 C427.10,286.58 427.70,278.75 428.30,278.75 C429.00,278.75 429.70,295.00 430.40,295.00 C430.87,295.00 431.33,281.37 431.80,275.00 C432.37,267.27 432.93,252.90 433.50,252.90 C434.00,252.90 434.50,258.23 435.00,265.00 C435.42,270.64 435.83,280.83 436.25,288.75" stroke="#1a1a1a" stroke-width="1.1" fill="none" stroke-linejoin="round"/>
<path d="M436.25,288.75 C436.67,279.83 437.08,269.75 437.50,262.00 C438.13,250.22 438.77,232.00 439.40,232.00 C439.87,232.00 440.33,247.27 440.80,255.00 C441.23,262.18 441.67,276.70 442.10,276.70 C442.57,276.70 443.03,256.23 443.50,246.00" stroke="#c8323a" stroke-width="1.2" fill="none" stroke-linejoin="round"/>
<path d="M443.50,246.00 C444.00,244.27 444.50,240.80 445.00,240.80 C445.40,240.80 445.80,253.91 446.20,262.00 C446.50,268.07 446.80,282.50 447.10,282.50 C447.57,282.50 448.03,273.29 448.50,270.00 C448.93,266.95 449.37,263.30 449.80,263.30 C450.27,263.30 450.73,271.59 451.20,276.00 C451.63,280.09 452.07,288.75 452.50,288.75 C453.47,288.75 454.43,284.20 455.40,284.20 C456.30,284.20 457.20,293.00 458.10,293.00 C458.90,293.00 459.70,292.00 460.50,292.00 C461.43,292.00 462.37,295.91 463.30,297.00 C464.53,298.43 465.77,298.37 467.00,299.00 C468.57,299.80 470.13,300.65 471.70,301.25 C473.13,301.80 474.57,302.19 476.00,302.50 C477.20,302.76 478.40,302.83 479.60,303.00" stroke="#1a1a1a" stroke-width="1.1" fill="none" stroke-linejoin="round"/>
<path d="M385.60,391.20 L387.30,386.00 L389.50,392.00 L391.50,395.30 L394.00,390.00 L396.70,387.40 L398.75,395.00 L400.50,390.00 L401.90,389.00 L403.50,392.00 L405.00,393.25 L406.80,389.00 L408.10,386.00 L409.50,392.00 L411.25,395.00 L414.00,395.50 L416.50,395.00 L418.00,390.70 L420.50,391.70 L421.90,387.70 L422.90,382.80 L423.80,385.80 L424.80,377.90 L425.80,383.80 L426.80,381.90 L427.80,389.70 L428.80,379.90 L430.30,377.90 L431.70,374.00 L432.70,370.00 L433.70,366.10 L434.70,352.40 L435.60,383.80 L436.00,370.00" stroke="#1a1a1a" stroke-width="1.15" fill="none" stroke-linejoin="round"/>
<path d="M436.00,370.00 L436.40,323.80 L438.20,365.10 L439.60,343.50 L440.40,346.00 L441.50,381.90 L443.50,340.60" stroke="#c8323a" stroke-width="1.3" fill="none" stroke-linejoin="round"/>
<path d="M443.50,340.60 L444.50,349.40 L445.50,340.60 L446.50,336.60 L447.40,354.30 L448.40,362.20 L450.00,352.40 L451.40,343.50 L452.40,362.20 L454.30,370.00 L455.30,368.10 L456.70,374.00 L458.30,376.00 L459.20,368.10 L460.60,358.30 L461.80,379.90 L462.60,385.80 L463.80,379.90 L465.10,389.70 L466.50,386.80 L468.10,393.60 L469.70,389.70 L471.60,394.60 L474.00,388.70 L475.00,392.70 L476.30,384.80 L477.50,382.80 L478.30,387.70 L479.90,395.60" stroke="#1a1a1a" stroke-width="1.15" fill="none" stroke-linejoin="round"/>
<text x="515.70" y="16.80" font-size="13.2" fill="#111" stroke="#111" stroke-width="0.18" textLength="7.8" lengthAdjust="spacingAndGlyphs">B</text>
<line x1="540.80" y1="40.20" x2="540.80" y2="111.80" stroke="#333" stroke-width="1.0"/>
<line x1="540.40" y1="111.40" x2="667.50" y2="111.40" stroke="#333" stroke-width="1.0"/>
<line x1="537.60" y1="110.90" x2="540.80" y2="110.90" stroke="#333" stroke-width="0.8"/>
<text x="536.00" y="114.30" font-size="8.2" fill="#222" stroke="#222" stroke-width="0.11" text-anchor="end">0</text>
<line x1="537.60" y1="90.70" x2="540.80" y2="90.70" stroke="#333" stroke-width="0.8"/>
<text x="536.00" y="94.10" font-size="8.2" fill="#222" stroke="#222" stroke-width="0.11" text-anchor="end">20</text>
<line x1="537.60" y1="70.50" x2="540.80" y2="70.50" stroke="#333" stroke-width="0.8"/>
<text x="536.00" y="73.90" font-size="8.2" fill="#222" stroke="#222" stroke-width="0.11" text-anchor="end">40</text>
<line x1="537.60" y1="50.30" x2="540.80" y2="50.30" stroke="#333" stroke-width="0.8"/>
<text x="536.00" y="53.70" font-size="8.2" fill="#222" stroke="#222" stroke-width="0.11" text-anchor="end">60</text>
<line x1="544.80" y1="111.40" x2="544.80" y2="114.60" stroke="#333" stroke-width="0.8"/>
<text x="544.80" y="123.40" font-size="8.2" fill="#222" stroke="#222" stroke-width="0.11" text-anchor="middle">0</text>
<line x1="583.10" y1="111.40" x2="583.10" y2="114.60" stroke="#333" stroke-width="0.8"/>
<text x="583.10" y="123.40" font-size="8.2" fill="#222" stroke="#222" stroke-width="0.11" text-anchor="middle">10</text>
<line x1="621.40" y1="111.40" x2="621.40" y2="114.60" stroke="#333" stroke-width="0.8"/>
<text x="621.40" y="123.40" font-size="8.2" fill="#222" stroke="#222" stroke-width="0.11" text-anchor="middle">20</text>
<line x1="659.70" y1="111.40" x2="659.70" y2="114.60" stroke="#333" stroke-width="0.8"/>
<text x="659.70" y="123.40" font-size="8.2" fill="#222" stroke="#222" stroke-width="0.11" text-anchor="middle">30</text>
<text x="519.80" y="75.60" font-size="7.9" fill="#222" stroke="#222" stroke-width="0.11" text-anchor="middle" textLength="51.2" lengthAdjust="spacingAndGlyphs" transform="rotate(-90 519.80 75.60)">Intensity (%)</text>
<text x="604.80" y="134.90" font-size="8.6" fill="#222" stroke="#222" stroke-width="0.12" text-anchor="middle" textLength="41.5" lengthAdjust="spacingAndGlyphs">Time (min)</text>
<circle cx="546.71" cy="103.34" r="1.45" fill="#fff" fill-opacity="0.0" stroke="#f39a4a" stroke-width="0.75"/>
<circle cx="548.63" cy="101.79" r="1.45" fill="#fff" fill-opacity="0.0" stroke="#f39a4a" stroke-width="0.75"/>
<circle cx="550.54" cy="101.22" r="1.45" fill="#fff" fill-opacity="0.0" stroke="#f39a4a" stroke-width="0.75"/>
<circle cx="552.46" cy="100.09" r="1.45" fill="#fff" fill-opacity="0.0" stroke="#f39a4a" stroke-width="0.75"/>
<circle cx="554.38" cy="100.26" r="1.45" fill="#fff" fill-opacity="0.0" stroke="#f39a4a" stroke-width="0.75"/>
<circle cx="556.29" cy="99.63" r="1.45" fill="#fff" fill-opacity="0.0" stroke="#f39a4a" stroke-width="0.75"/>
<circle cx="558.20" cy="96.44" r="1.45" fill="#fff" fill-opacity="0.0" stroke="#f39a4a" stroke-width="0.75"/>
<circle cx="560.12" cy="98.11" r="1.45" fill="#fff" fill-opacity="0.0" stroke="#f39a4a" stroke-width="0.75"/>
<circle cx="562.03" cy="96.31" r="1.45" fill="#fff" fill-opacity="0.0" stroke="#f39a4a" stroke-width="0.75"/>
<circle cx="563.95" cy="94.52" r="1.45" fill="#fff" fill-opacity="0.0" stroke="#f39a4a" stroke-width="0.75"/>
<circle cx="565.87" cy="96.04" r="1.45" fill="#fff" fill-opacity="0.0" stroke="#f39a4a" stroke-width="0.75"/>
<circle cx="567.78" cy="93.65" r="1.45" fill="#fff" fill-opacity="0.0" stroke="#f39a4a" stroke-width="0.75"/>
<circle cx="569.69" cy="92.18" r="1.45" fill="#fff" fill-opacity="0.0" stroke="#f39a4a" stroke-width="0.75"/>
<circle cx="571.61" cy="89.95" r="1.45" fill="#fff" fill-opacity="0.0" stroke="#f39a4a" stroke-width="0.75"/>
<circle cx="573.52" cy="91.00" r="1.45" fill="#fff" fill-opacity="0.0" stroke="#f39a4a" stroke-width="0.75"/>
<circle cx="575.44" cy="89.76" r="1.45" fill="#fff" fill-opacity="0.0" stroke="#f39a4a" stroke-width="0.75"/>
<circle cx="577.35" cy="89.32" r="1.45" fill="#fff" fill-opacity="0.0" stroke="#f39a4a" stroke-width="0.75"/>
<circle cx="579.27" cy="85.47" r="1.45" fill="#fff" fill-opacity="0.0" stroke="#f39a4a" stroke-width="0.75"/>
<circle cx="581.18" cy="85.59" r="1.45" fill="#fff" fill-opacity="0.0" stroke="#f39a4a" stroke-width="0.75"/>
<circle cx="583.10" cy="83.47" r="1.45" fill="#fff" fill-opacity="0.0" stroke="#f39a4a" stroke-width="0.75"/>
<circle cx="585.01" cy="82.10" r="1.45" fill="#fff" fill-opacity="0.0" stroke="#f39a4a" stroke-width="0.75"/>
<circle cx="586.93" cy="80.52" r="1.45" fill="#fff" fill-opacity="0.0" stroke="#f39a4a" stroke-width="0.75"/>
<circle cx="588.84" cy="81.54" r="1.45" fill="#fff" fill-opacity="0.0" stroke="#f39a4a" stroke-width="0.75"/>
<circle cx="590.76" cy="78.96" r="1.45" fill="#fff" fill-opacity="0.0" stroke="#f39a4a" stroke-width="0.75"/>
<circle cx="592.67" cy="79.24" r="1.45" fill="#fff" fill-opacity="0.0" stroke="#f39a4a" stroke-width="0.75"/>
<circle cx="594.59" cy="77.02" r="1.45" fill="#fff" fill-opacity="0.0" stroke="#f39a4a" stroke-width="0.75"/>
<circle cx="596.50" cy="77.24" r="1.45" fill="#fff" fill-opacity="0.0" stroke="#f39a4a" stroke-width="0.75"/>
<circle cx="598.42" cy="77.71" r="1.45" fill="#fff" fill-opacity="0.0" stroke="#f39a4a" stroke-width="0.75"/>
<circle cx="600.33" cy="76.35" r="1.45" fill="#fff" fill-opacity="0.0" stroke="#f39a4a" stroke-width="0.75"/>
<circle cx="602.25" cy="78.38" r="1.45" fill="#fff" fill-opacity="0.0" stroke="#f39a4a" stroke-width="0.75"/>
<circle cx="604.16" cy="71.13" r="1.45" fill="#fff" fill-opacity="0.0" stroke="#f39a4a" stroke-width="0.75"/>
<circle cx="606.08" cy="71.18" r="1.45" fill="#fff" fill-opacity="0.0" stroke="#f39a4a" stroke-width="0.75"/>
<circle cx="608.00" cy="72.11" r="1.45" fill="#fff" fill-opacity="0.0" stroke="#f39a4a" stroke-width="0.75"/>
<circle cx="609.91" cy="70.32" r="1.45" fill="#fff" fill-opacity="0.0" stroke="#f39a4a" stroke-width="0.75"/>
<circle cx="611.82" cy="67.70" r="1.45" fill="#fff" fill-opacity="0.0" stroke="#f39a4a" stroke-width="0.75"/>
<circle cx="613.74" cy="77.46" r="1.45" fill="#fff" fill-opacity="0.0" stroke="#f39a4a" stroke-width="0.75"/>
<circle cx="615.65" cy="68.16" r="1.45" fill="#fff" fill-opacity="0.0" stroke="#f39a4a" stroke-width="0.75"/>
<circle cx="617.57" cy="69.66" r="1.45" fill="#fff" fill-opacity="0.0" stroke="#f39a4a" stroke-width="0.75"/>
<circle cx="619.48" cy="67.57" r="1.45" fill="#fff" fill-opacity="0.0" stroke="#f39a4a" stroke-width="0.75"/>
<circle cx="621.40" cy="67.94" r="1.45" fill="#fff" fill-opacity="0.0" stroke="#f39a4a" stroke-width="0.75"/>
<circle cx="623.31" cy="62.96" r="1.45" fill="#fff" fill-opacity="0.0" stroke="#f39a4a" stroke-width="0.75"/>
<circle cx="625.23" cy="66.32" r="1.45" fill="#fff" fill-opacity="0.0" stroke="#f39a4a" stroke-width="0.75"/>
<circle cx="627.14" cy="72.77" r="1.45" fill="#fff" fill-opacity="0.0" stroke="#f39a4a" stroke-width="0.75"/>
<circle cx="629.06" cy="68.56" r="1.45" fill="#fff" fill-opacity="0.0" stroke="#f39a4a" stroke-width="0.75"/>
<circle cx="630.97" cy="62.85" r="1.45" fill="#fff" fill-opacity="0.0" stroke="#f39a4a" stroke-width="0.75"/>
<circle cx="632.89" cy="58.18" r="1.45" fill="#fff" fill-opacity="0.0" stroke="#f39a4a" stroke-width="0.75"/>
<circle cx="634.80" cy="65.69" r="1.45" fill="#fff" fill-opacity="0.0" stroke="#f39a4a" stroke-width="0.75"/>
<circle cx="636.72" cy="59.48" r="1.45" fill="#fff" fill-opacity="0.0" stroke="#f39a4a" stroke-width="0.75"/>
<circle cx="638.63" cy="65.58" r="1.45" fill="#fff" fill-opacity="0.0" stroke="#f39a4a" stroke-width="0.75"/>
<circle cx="640.55" cy="64.85" r="1.45" fill="#fff" fill-opacity="0.0" stroke="#f39a4a" stroke-width="0.75"/>
<circle cx="642.46" cy="62.65" r="1.45" fill="#fff" fill-opacity="0.0" stroke="#f39a4a" stroke-width="0.75"/>
<circle cx="644.38" cy="54.41" r="1.45" fill="#fff" fill-opacity="0.0" stroke="#f39a4a" stroke-width="0.75"/>
<circle cx="646.29" cy="59.17" r="1.45" fill="#fff" fill-opacity="0.0" stroke="#f39a4a" stroke-width="0.75"/>
<circle cx="648.21" cy="59.87" r="1.45" fill="#fff" fill-opacity="0.0" stroke="#f39a4a" stroke-width="0.75"/>
<circle cx="650.12" cy="60.55" r="1.45" fill="#fff" fill-opacity="0.0" stroke="#f39a4a" stroke-width="0.75"/>
<circle cx="652.04" cy="57.41" r="1.45" fill="#fff" fill-opacity="0.0" stroke="#f39a4a" stroke-width="0.75"/>
<circle cx="653.95" cy="55.90" r="1.45" fill="#fff" fill-opacity="0.0" stroke="#f39a4a" stroke-width="0.75"/>
<circle cx="655.87" cy="56.86" r="1.45" fill="#fff" fill-opacity="0.0" stroke="#f39a4a" stroke-width="0.75"/>
<circle cx="657.78" cy="56.95" r="1.45" fill="#fff" fill-opacity="0.0" stroke="#f39a4a" stroke-width="0.75"/>
<circle cx="659.70" cy="50.49" r="1.45" fill="#fff" fill-opacity="0.0" stroke="#f39a4a" stroke-width="0.75"/>
<circle cx="661.62" cy="49.04" r="1.45" fill="#fff" fill-opacity="0.0" stroke="#f39a4a" stroke-width="0.75"/>
<circle cx="546.71" cy="104.03" r="1.6" fill="#3aa83a"/>
<circle cx="548.63" cy="102.97" r="1.6" fill="#3aa83a"/>
<circle cx="550.54" cy="103.56" r="1.6" fill="#3aa83a"/>
<circle cx="552.46" cy="103.49" r="1.6" fill="#3aa83a"/>
<circle cx="554.38" cy="104.63" r="1.6" fill="#3aa83a"/>
<circle cx="556.29" cy="103.51" r="1.6" fill="#3aa83a"/>
<circle cx="558.20" cy="104.48" r="1.6" fill="#3aa83a"/>
<circle cx="560.12" cy="104.47" r="1.6" fill="#3aa83a"/>
<circle cx="562.03" cy="103.47" r="1.6" fill="#3aa83a"/>
<circle cx="563.95" cy="104.42" r="1.6" fill="#3aa83a"/>
<circle cx="565.87" cy="103.67" r="1.6" fill="#3aa83a"/>
<circle cx="567.78" cy="105.66" r="1.6" fill="#3aa83a"/>
<circle cx="569.69" cy="103.65" r="1.6" fill="#3aa83a"/>
<circle cx="571.61" cy="103.52" r="1.6" fill="#3aa83a"/>
<circle cx="573.52" cy="103.99" r="1.6" fill="#3aa83a"/>
<circle cx="575.44" cy="104.47" r="1.6" fill="#3aa83a"/>
<circle cx="577.35" cy="103.07" r="1.6" fill="#3aa83a"/>
<circle cx="579.27" cy="102.97" r="1.6" fill="#3aa83a"/>
<circle cx="581.18" cy="103.86" r="1.6" fill="#3aa83a"/>
<circle cx="583.10" cy="103.28" r="1.6" fill="#3aa83a"/>
<circle cx="585.01" cy="102.90" r="1.6" fill="#3aa83a"/>
<circle cx="586.93" cy="105.47" r="1.6" fill="#3aa83a"/>
<circle cx="588.84" cy="105.81" r="1.6" fill="#3aa83a"/>
<circle cx="590.76" cy="104.38" r="1.6" fill="#3aa83a"/>
<circle cx="592.67" cy="103.80" r="1.6" fill="#3aa83a"/>
<circle cx="594.59" cy="104.17" r="1.6" fill="#3aa83a"/>
<circle cx="596.50" cy="103.44" r="1.6" fill="#3aa83a"/>
<circle cx="598.42" cy="103.12" r="1.6" fill="#3aa83a"/>
<circle cx="600.33" cy="104.44" r="1.6" fill="#3aa83a"/>
<circle cx="602.25" cy="103.32" r="1.6" fill="#3aa83a"/>
<circle cx="604.16" cy="103.80" r="1.6" fill="#3aa83a"/>
<circle cx="606.08" cy="104.97" r="1.6" fill="#3aa83a"/>
<circle cx="608.00" cy="105.01" r="1.6" fill="#3aa83a"/>
<circle cx="609.91" cy="105.04" r="1.6" fill="#3aa83a"/>
<circle cx="611.82" cy="106.36" r="1.6" fill="#3aa83a"/>
<circle cx="613.74" cy="106.12" r="1.6" fill="#3aa83a"/>
<circle cx="615.65" cy="107.20" r="1.6" fill="#3aa83a"/>
<circle cx="617.57" cy="107.76" r="1.6" fill="#3aa83a"/>
<circle cx="619.48" cy="108.40" r="1.6" fill="#3aa83a"/>
<circle cx="621.40" cy="109.58" r="1.6" fill="#3aa83a"/>
<circle cx="623.31" cy="108.81" r="1.6" fill="#3aa83a"/>
<circle cx="625.23" cy="109.77" r="1.6" fill="#3aa83a"/>
<circle cx="627.14" cy="108.67" r="1.6" fill="#3aa83a"/>
<circle cx="629.06" cy="108.87" r="1.6" fill="#3aa83a"/>
<circle cx="630.97" cy="109.23" r="1.6" fill="#3aa83a"/>
<circle cx="632.89" cy="109.24" r="1.6" fill="#3aa83a"/>
<circle cx="634.80" cy="108.12" r="1.6" fill="#3aa83a"/>
<circle cx="636.72" cy="109.21" r="1.6" fill="#3aa83a"/>
<circle cx="638.63" cy="109.91" r="1.6" fill="#3aa83a"/>
<circle cx="640.55" cy="109.74" r="1.6" fill="#3aa83a"/>
<circle cx="642.46" cy="108.76" r="1.6" fill="#3aa83a"/>
<circle cx="644.38" cy="109.08" r="1.6" fill="#3aa83a"/>
<circle cx="646.29" cy="109.02" r="1.6" fill="#3aa83a"/>
<circle cx="648.21" cy="109.48" r="1.6" fill="#3aa83a"/>
<circle cx="650.12" cy="108.87" r="1.6" fill="#3aa83a"/>
<circle cx="652.04" cy="108.92" r="1.6" fill="#3aa83a"/>
<circle cx="653.95" cy="109.49" r="1.6" fill="#3aa83a"/>
<circle cx="655.87" cy="110.40" r="1.6" fill="#3aa83a"/>
<circle cx="657.78" cy="109.47" r="1.6" fill="#3aa83a"/>
<circle cx="659.70" cy="109.60" r="1.6" fill="#3aa83a"/>
<circle cx="661.62" cy="109.06" r="1.6" fill="#3aa83a"/>
<circle cx="546.71" cy="74.56" r="1.6" fill="#d0282e"/>
<circle cx="548.63" cy="65.96" r="1.6" fill="#d0282e"/>
<circle cx="550.54" cy="76.03" r="1.6" fill="#d0282e"/>
<circle cx="552.46" cy="75.95" r="1.6" fill="#d0282e"/>
<circle cx="554.38" cy="79.42" r="1.6" fill="#d0282e"/>
<circle cx="556.29" cy="78.13" r="1.6" fill="#d0282e"/>
<circle cx="558.20" cy="78.27" r="1.6" fill="#d0282e"/>
<circle cx="560.12" cy="78.01" r="1.6" fill="#d0282e"/>
<circle cx="562.03" cy="80.09" r="1.6" fill="#d0282e"/>
<circle cx="563.95" cy="81.66" r="1.6" fill="#d0282e"/>
<circle cx="565.87" cy="81.34" r="1.6" fill="#d0282e"/>
<circle cx="567.78" cy="81.17" r="1.6" fill="#d0282e"/>
<circle cx="569.69" cy="84.54" r="1.6" fill="#d0282e"/>
<circle cx="571.61" cy="83.72" r="1.6" fill="#d0282e"/>
<circle cx="573.52" cy="85.00" r="1.6" fill="#d0282e"/>
<circle cx="575.44" cy="86.83" r="1.6" fill="#d0282e"/>
<circle cx="577.35" cy="87.50" r="1.6" fill="#d0282e"/>
<circle cx="579.27" cy="87.40" r="1.6" fill="#d0282e"/>
<circle cx="581.18" cy="90.97" r="1.6" fill="#d0282e"/>
<circle cx="583.10" cy="87.59" r="1.6" fill="#d0282e"/>
<circle cx="585.01" cy="88.70" r="1.6" fill="#d0282e"/>
<circle cx="586.93" cy="89.08" r="1.6" fill="#d0282e"/>
<circle cx="588.84" cy="90.11" r="1.6" fill="#d0282e"/>
<circle cx="590.76" cy="93.72" r="1.6" fill="#d0282e"/>
<circle cx="592.67" cy="90.93" r="1.6" fill="#d0282e"/>
<circle cx="594.59" cy="93.01" r="1.6" fill="#d0282e"/>
<circle cx="596.50" cy="95.33" r="1.6" fill="#d0282e"/>
<circle cx="598.42" cy="94.95" r="1.6" fill="#d0282e"/>
<circle cx="600.33" cy="97.29" r="1.6" fill="#d0282e"/>
<circle cx="602.25" cy="99.42" r="1.6" fill="#d0282e"/>
<circle cx="604.16" cy="98.08" r="1.6" fill="#d0282e"/>
<circle cx="606.08" cy="99.13" r="1.6" fill="#d0282e"/>
<circle cx="608.00" cy="99.48" r="1.6" fill="#d0282e"/>
<circle cx="609.91" cy="99.67" r="1.6" fill="#d0282e"/>
<circle cx="611.82" cy="101.21" r="1.6" fill="#d0282e"/>
<circle cx="613.74" cy="100.88" r="1.6" fill="#d0282e"/>
<circle cx="615.65" cy="101.54" r="1.6" fill="#d0282e"/>
<circle cx="617.57" cy="103.50" r="1.6" fill="#d0282e"/>
<circle cx="619.48" cy="105.67" r="1.6" fill="#d0282e"/>
<circle cx="621.40" cy="106.56" r="1.6" fill="#d0282e"/>
<circle cx="623.31" cy="107.79" r="1.6" fill="#d0282e"/>
<circle cx="625.23" cy="107.12" r="1.6" fill="#d0282e"/>
<circle cx="627.14" cy="107.86" r="1.6" fill="#d0282e"/>
<circle cx="629.06" cy="109.21" r="1.6" fill="#d0282e"/>
<circle cx="630.97" cy="108.18" r="1.6" fill="#d0282e"/>
<circle cx="632.89" cy="109.01" r="1.6" fill="#d0282e"/>
<circle cx="634.80" cy="109.27" r="1.6" fill="#d0282e"/>
<circle cx="636.72" cy="109.29" r="1.6" fill="#d0282e"/>
<circle cx="638.63" cy="108.87" r="1.6" fill="#d0282e"/>
<circle cx="640.55" cy="109.72" r="1.6" fill="#d0282e"/>
<circle cx="642.46" cy="108.89" r="1.6" fill="#d0282e"/>
<circle cx="644.38" cy="109.89" r="1.6" fill="#d0282e"/>
<circle cx="646.29" cy="108.56" r="1.6" fill="#d0282e"/>
<circle cx="648.21" cy="108.67" r="1.6" fill="#d0282e"/>
<circle cx="650.12" cy="109.22" r="1.6" fill="#d0282e"/>
<circle cx="652.04" cy="108.71" r="1.6" fill="#d0282e"/>
<circle cx="653.95" cy="108.98" r="1.6" fill="#d0282e"/>
<circle cx="655.87" cy="109.67" r="1.6" fill="#d0282e"/>
<circle cx="657.78" cy="109.16" r="1.6" fill="#d0282e"/>
<circle cx="659.70" cy="109.19" r="1.6" fill="#d0282e"/>
<circle cx="661.62" cy="109.12" r="1.6" fill="#d0282e"/>
<circle cx="546.71" cy="60.66" r="1.6" fill="#f0872a"/>
<circle cx="548.63" cy="67.98" r="1.6" fill="#f0872a"/>
<circle cx="550.54" cy="58.99" r="1.6" fill="#f0872a"/>
<circle cx="552.46" cy="62.22" r="1.6" fill="#f0872a"/>
<circle cx="554.38" cy="62.20" r="1.6" fill="#f0872a"/>
<circle cx="556.29" cy="59.73" r="1.6" fill="#f0872a"/>
<circle cx="558.20" cy="59.67" r="1.6" fill="#f0872a"/>
<circle cx="560.12" cy="59.32" r="1.6" fill="#f0872a"/>
<circle cx="562.03" cy="60.36" r="1.6" fill="#f0872a"/>
<circle cx="563.95" cy="60.44" r="1.6" fill="#f0872a"/>
<circle cx="565.87" cy="61.30" r="1.6" fill="#f0872a"/>
<circle cx="567.78" cy="60.68" r="1.6" fill="#f0872a"/>
<circle cx="569.69" cy="61.29" r="1.6" fill="#f0872a"/>
<circle cx="571.61" cy="63.35" r="1.6" fill="#f0872a"/>
<circle cx="573.52" cy="60.25" r="1.6" fill="#f0872a"/>
<circle cx="575.44" cy="61.67" r="1.6" fill="#f0872a"/>
<circle cx="577.35" cy="63.66" r="1.6" fill="#f0872a"/>
<circle cx="579.27" cy="64.31" r="1.6" fill="#f0872a"/>
<circle cx="581.18" cy="64.91" r="1.6" fill="#f0872a"/>
<circle cx="583.10" cy="64.03" r="1.6" fill="#f0872a"/>
<circle cx="585.01" cy="62.44" r="1.6" fill="#f0872a"/>
<circle cx="586.93" cy="62.17" r="1.6" fill="#f0872a"/>
<circle cx="588.84" cy="61.70" r="1.6" fill="#f0872a"/>
<circle cx="590.76" cy="60.71" r="1.6" fill="#f0872a"/>
<circle cx="592.67" cy="66.47" r="1.6" fill="#f0872a"/>
<circle cx="594.59" cy="62.27" r="1.6" fill="#f0872a"/>
<circle cx="596.50" cy="64.97" r="1.6" fill="#f0872a"/>
<circle cx="598.42" cy="65.64" r="1.6" fill="#f0872a"/>
<circle cx="600.33" cy="67.05" r="1.6" fill="#f0872a"/>
<circle cx="602.25" cy="59.84" r="1.6" fill="#f0872a"/>
<circle cx="604.16" cy="65.70" r="1.6" fill="#f0872a"/>
<circle cx="606.08" cy="62.83" r="1.6" fill="#f0872a"/>
<circle cx="608.00" cy="64.30" r="1.6" fill="#f0872a"/>
<circle cx="609.91" cy="61.93" r="1.6" fill="#f0872a"/>
<circle cx="611.82" cy="65.01" r="1.6" fill="#f0872a"/>
<circle cx="613.74" cy="64.72" r="1.6" fill="#f0872a"/>
<circle cx="615.65" cy="66.73" r="1.6" fill="#f0872a"/>
<circle cx="617.57" cy="64.87" r="1.6" fill="#f0872a"/>
<circle cx="619.48" cy="57.30" r="1.6" fill="#f0872a"/>
<circle cx="621.40" cy="64.22" r="1.6" fill="#f0872a"/>
<circle cx="623.31" cy="60.93" r="1.6" fill="#f0872a"/>
<circle cx="625.23" cy="61.28" r="1.6" fill="#f0872a"/>
<circle cx="627.14" cy="64.38" r="1.6" fill="#f0872a"/>
<circle cx="629.06" cy="60.57" r="1.6" fill="#f0872a"/>
<circle cx="630.97" cy="63.07" r="1.6" fill="#f0872a"/>
<circle cx="632.89" cy="61.54" r="1.6" fill="#f0872a"/>
<circle cx="634.80" cy="60.98" r="1.6" fill="#f0872a"/>
<circle cx="636.72" cy="61.43" r="1.6" fill="#f0872a"/>
<circle cx="638.63" cy="63.35" r="1.6" fill="#f0872a"/>
<circle cx="640.55" cy="62.42" r="1.6" fill="#f0872a"/>
<circle cx="642.46" cy="60.81" r="1.6" fill="#f0872a"/>
<circle cx="644.38" cy="64.24" r="1.6" fill="#f0872a"/>
<circle cx="646.29" cy="66.68" r="1.6" fill="#f0872a"/>
<circle cx="648.21" cy="69.62" r="1.6" fill="#f0872a"/>
<circle cx="650.12" cy="63.77" r="1.6" fill="#f0872a"/>
<circle cx="652.04" cy="62.21" r="1.6" fill="#f0872a"/>
<circle cx="653.95" cy="67.53" r="1.6" fill="#f0872a"/>
<circle cx="655.87" cy="62.22" r="1.6" fill="#f0872a"/>
<circle cx="657.78" cy="71.20" r="1.6" fill="#f0872a"/>
<circle cx="659.70" cy="66.74" r="1.6" fill="#f0872a"/>
<circle cx="661.62" cy="67.25" r="1.6" fill="#f0872a"/>
<circle cx="552.6" cy="30.6" r="1.2" fill="none" stroke="#f8d8bc" stroke-width="0.6"/>
<text x="557.10" y="33.50" font-size="8.5" fill="#f0872a" stroke="#f0872a" stroke-width="0.12" textLength="32.3" lengthAdjust="spacingAndGlyphs">p53NEM</text>
<text x="590.00" y="35.70" font-size="6.4" fill="#f0872a" stroke="#f0872a" stroke-width="0.09" textLength="3.9" lengthAdjust="spacingAndGlyphs">3</text>
<circle cx="553.0" cy="43.6" r="1.3" fill="#f0872a"/>
<text x="557.60" y="45.30" font-size="8.5" fill="#f0872a" stroke="#f0872a" stroke-width="0.12" textLength="32.3" lengthAdjust="spacingAndGlyphs">p53NEM</text>
<text x="590.50" y="47.50" font-size="6.4" fill="#f0872a" stroke="#f0872a" stroke-width="0.09" textLength="3.9" lengthAdjust="spacingAndGlyphs">2</text>
<circle cx="603" cy="30.4" r="1.3" fill="#3aa83a"/>
<text x="607.80" y="33.20" font-size="8.6" fill="#3aa83a" stroke="#3aa83a" stroke-width="0.12" textLength="34.6" lengthAdjust="spacingAndGlyphs">(p53NEM</text>
<text x="642.60" y="34.80" font-size="6.0" fill="#3aa83a" stroke="#3aa83a" stroke-width="0.08">2</text>
<text x="646.20" y="33.20" font-size="8.6" fill="#3aa83a" stroke="#3aa83a" stroke-width="0.12">)</text>
<text x="649.20" y="34.80" font-size="6.0" fill="#3aa83a" stroke="#3aa83a" stroke-width="0.08">2</text>
<text x="652.80" y="33.20" font-size="8.6" fill="#3aa83a" stroke="#3aa83a" stroke-width="0.12" textLength="18.3" lengthAdjust="spacingAndGlyphs">DNA</text>
<circle cx="603" cy="43.3" r="1.3" fill="#d0282e"/>
<text x="607.80" y="45.80" font-size="8.6" fill="#d0282e" stroke="#d0282e" stroke-width="0.12" textLength="34.6" lengthAdjust="spacingAndGlyphs">(p53NEM</text>
<text x="642.60" y="47.40" font-size="6.0" fill="#d0282e" stroke="#d0282e" stroke-width="0.08">2</text>
<text x="646.20" y="45.80" font-size="8.6" fill="#d0282e" stroke="#d0282e" stroke-width="0.12">)</text>
<text x="649.20" y="47.40" font-size="6.0" fill="#d0282e" stroke="#d0282e" stroke-width="0.08">4</text>
<text x="652.80" y="45.80" font-size="8.6" fill="#d0282e" stroke="#d0282e" stroke-width="0.12" textLength="19.2" lengthAdjust="spacingAndGlyphs">DNA</text>
<text x="515.10" y="138.60" font-size="13.2" fill="#111" stroke="#111" stroke-width="0.18" textLength="8.1" lengthAdjust="spacingAndGlyphs">C</text>
<defs><filter id="bl" x="-20%" y="-50%" width="140%" height="200%"><feGaussianBlur stdDeviation="2.0"/></filter><filter id="bl2" x="-20%" y="-50%" width="140%" height="200%"><feGaussianBlur stdDeviation="1.4"/></filter><filter id="bl3" x="-50%" y="-50%" width="200%" height="200%"><feGaussianBlur stdDeviation="6"/></filter><clipPath id="cc"><rect x="561.2" y="148.4" width="85.89999999999998" height="88.19999999999999"/></clipPath><linearGradient id="cb" x1="0" y1="1" x2="0" y2="0"><stop offset="0" stop-color="#fdf6e6"/><stop offset="0.2" stop-color="#fbe6c6"/><stop offset="0.45" stop-color="#f5b886"/><stop offset="0.65" stop-color="#e8643c"/><stop offset="0.85" stop-color="#c01c14"/><stop offset="1" stop-color="#7e0000"/></linearGradient></defs>
<g clip-path="url(#cc)">
<rect x="561.20" y="148.40" width="85.90" height="88.20" fill="#fdf5e4"/>
<ellipse cx="630" cy="205" rx="22" ry="30" fill="#f7dcbc" filter="url(#bl3)" opacity="0.75"/>
<ellipse cx="575" cy="190" rx="18" ry="12" fill="#f9e6cc" filter="url(#bl3)" opacity="0.6"/>
<ellipse cx="612" cy="190" rx="6" ry="16" fill="#f6d4b0" filter="url(#bl3)" opacity="0.7"/>
<ellipse cx="599" cy="196" rx="9" ry="8" fill="#f3c096" filter="url(#bl3)" opacity="0.8"/>
<g filter="url(#bl)"><path d="M550,205 L580,205 L592,203 L600,198.5 L606,196.5 L610.5,201 L611,210 L606,217.8 L550,217.8 Z" fill="#ea6a40"/></g>
<g filter="url(#bl2)"><path d="M550,206.8 L585,206.8 L595,205 L601,201.5 L605.5,203.5 L606,211 L600,215.8 L550,215.8 Z" fill="#d6301e"/></g>
<g filter="url(#bl2)"><path d="M550,208.5 L588,208.5 L596,206.5 L600.5,206.5 L600,212 L594,214 L550,214 Z" fill="#9a0808" opacity="0.9"/></g>
<g filter="url(#bl)"><rect x="603.5" y="155.8" width="55" height="17" rx="5" fill="#ea6a40"/></g>
<g filter="url(#bl2)"><rect x="605" y="158.3" width="55" height="12.5" rx="4" fill="#d42a1e"/></g>
<g filter="url(#bl2)"><rect x="609" y="161.0" width="50" height="7.5" rx="3" fill="#a00c0c" opacity="0.85"/></g>
<ellipse cx="612" cy="160" rx="4" ry="2.5" fill="#c81e18" filter="url(#bl2)" opacity="0.6"/>
<ellipse cx="622" cy="159.5" rx="5" ry="2.5" fill="#c81e18" filter="url(#bl2)" opacity="0.6"/>
<ellipse cx="636" cy="159.5" rx="5" ry="2.5" fill="#c81e18" filter="url(#bl2)" opacity="0.6"/>
<ellipse cx="628" cy="169" rx="5" ry="2" fill="#c81e18" filter="url(#bl2)" opacity="0.6"/>
<ellipse cx="644" cy="168" rx="4" ry="2" fill="#c81e18" filter="url(#bl2)" opacity="0.6"/>
<path d="M561.2,211.3 L604.0,211.3 L604.0,165.9 L647.1,165.9" stroke="#f08a2a" stroke-width="0.9" fill="none"/>
<circle cx="567.0" cy="214.3" r="1.45" fill="#f7a432"/>
<circle cx="575.1" cy="212.3" r="1.45" fill="#f7a432"/>
<circle cx="583.2" cy="212.3" r="1.45" fill="#f7a432"/>
<circle cx="591.3" cy="210.0" r="1.45" fill="#f7a432"/>
<circle cx="599.5" cy="206.0" r="1.45" fill="#f7a432"/>
<circle cx="607.5" cy="165.5" r="1.45" fill="#f7a432"/>
<circle cx="615.7" cy="168.8" r="1.45" fill="#f7a432"/>
<circle cx="623.6" cy="165.5" r="1.45" fill="#f7a432"/>
<circle cx="631.7" cy="160" r="1.45" fill="#f7a432"/>
<circle cx="639.9" cy="171.4" r="1.45" fill="#f7a432"/>
</g>
<rect x="561.2" y="148.4" width="85.9" height="88.2" fill="none" stroke="#444" stroke-width="0.8"/>
<line x1="558.20" y1="236.60" x2="561.20" y2="236.60" stroke="#333" stroke-width="0.7"/>
<text x="557.00" y="239.00" font-size="6.9" fill="#222" stroke="#222" stroke-width="0.10" text-anchor="end" textLength="16.2" lengthAdjust="spacingAndGlyphs">2000</text>
<line x1="558.20" y1="219.64" x2="561.20" y2="219.64" stroke="#333" stroke-width="0.7"/>
<text x="557.00" y="222.04" font-size="6.9" fill="#222" stroke="#222" stroke-width="0.10" text-anchor="end" textLength="16.2" lengthAdjust="spacingAndGlyphs">2250</text>
<line x1="558.20" y1="202.68" x2="561.20" y2="202.68" stroke="#333" stroke-width="0.7"/>
<text x="557.00" y="205.08" font-size="6.9" fill="#222" stroke="#222" stroke-width="0.10" text-anchor="end" textLength="16.2" lengthAdjust="spacingAndGlyphs">2500</text>
<line x1="558.20" y1="185.72" x2="561.20" y2="185.72" stroke="#333" stroke-width="0.7"/>
<text x="557.00" y="188.12" font-size="6.9" fill="#222" stroke="#222" stroke-width="0.10" text-anchor="end" textLength="16.2" lengthAdjust="spacingAndGlyphs">2750</text>
<line x1="558.20" y1="168.75" x2="561.20" y2="168.75" stroke="#333" stroke-width="0.7"/>
<text x="557.00" y="171.15" font-size="6.9" fill="#222" stroke="#222" stroke-width="0.10" text-anchor="end" textLength="16.2" lengthAdjust="spacingAndGlyphs">3000</text>
<line x1="558.20" y1="151.79" x2="561.20" y2="151.79" stroke="#333" stroke-width="0.7"/>
<text x="557.00" y="154.19" font-size="6.9" fill="#222" stroke="#222" stroke-width="0.10" text-anchor="end" textLength="16.2" lengthAdjust="spacingAndGlyphs">3250</text>
<line x1="579.28" y1="236.60" x2="579.28" y2="239.40" stroke="#333" stroke-width="0.7"/>
<text x="579.28" y="245.20" font-size="7.2" fill="#222" stroke="#222" stroke-width="0.10" text-anchor="middle" textLength="12.2" lengthAdjust="spacingAndGlyphs">200</text>
<line x1="601.89" y1="236.60" x2="601.89" y2="239.40" stroke="#333" stroke-width="0.7"/>
<text x="601.89" y="245.20" font-size="7.2" fill="#222" stroke="#222" stroke-width="0.10" text-anchor="middle" textLength="12.2" lengthAdjust="spacingAndGlyphs">300</text>
<line x1="624.49" y1="236.60" x2="624.49" y2="239.40" stroke="#333" stroke-width="0.7"/>
<text x="624.49" y="245.20" font-size="7.2" fill="#222" stroke="#222" stroke-width="0.10" text-anchor="middle" textLength="12.2" lengthAdjust="spacingAndGlyphs">400</text>
<line x1="647.10" y1="236.60" x2="647.10" y2="239.40" stroke="#333" stroke-width="0.7"/>
<text x="647.10" y="245.20" font-size="7.2" fill="#222" stroke="#222" stroke-width="0.10" text-anchor="middle" textLength="12.2" lengthAdjust="spacingAndGlyphs">500</text>
<text x="604.60" y="257.00" font-size="8.5" fill="#222" stroke="#222" stroke-width="0.12" text-anchor="middle" textLength="84.6" lengthAdjust="spacingAndGlyphs">Lab frame energy (eV)</text>
<g transform="rotate(-90 537.6 187)"><text x="537.6" y="187" font-size="7.9" fill="#222" text-anchor="middle" textLength="46" lengthAdjust="spacingAndGlyphs"><tspan font-size="5.2" dy="-2.8">TW</tspan><tspan dy="2.8">CCS</tspan><tspan font-size="5.2" dy="1.8">N2</tspan><tspan dy="-1.8"> (Å</tspan><tspan font-size="5.2" dy="-2.8">2</tspan><tspan dy="2.8">)</tspan></text></g>
<text x="564.00" y="158.90" font-size="10.2" fill="#d8703c" stroke="#d8703c" stroke-width="0.14" textLength="14.8" lengthAdjust="spacingAndGlyphs">9+</text>
<text x="565.60" y="201.00" font-size="11.0" fill="#111" stroke="#111" stroke-width="0.15">α</text>
<text x="617.80" y="178.80" font-size="11.0" fill="#111" stroke="#111" stroke-width="0.15">γ</text>
<text x="581.70" y="226.00" font-size="10.2" fill="#c4502e" stroke="#c4502e" stroke-width="0.14" textLength="52.2" lengthAdjust="spacingAndGlyphs">308±10 eV</text>
<rect x="652.40" y="148.90" width="5.10" height="87.40" fill="url(#cb)"/>
<rect x="652.4" y="148.9" width="5.1" height="87.4" fill="none" stroke="#666" stroke-width="0.5"/>
<text x="659.50" y="151.80" font-size="7.2" fill="#222" stroke="#222" stroke-width="0.10">1</text>
<text x="659.50" y="239.00" font-size="7.2" fill="#222" stroke="#222" stroke-width="0.10">0</text>
<line x1="657.50" y1="148.90" x2="659.20" y2="148.90" stroke="#444" stroke-width="0.6"/>
<line x1="657.50" y1="236.30" x2="659.20" y2="236.30" stroke="#444" stroke-width="0.6"/>
<text x="516.00" y="265.70" font-size="13.2" fill="#111" stroke="#111" stroke-width="0.18" textLength="8.7" lengthAdjust="spacingAndGlyphs">D</text>
<text x="536.00" y="279.80" font-size="10.8" fill="#4a88bf" stroke="#4a88bf" stroke-width="0.15" textLength="26.6" lengthAdjust="spacingAndGlyphs">(p53)</text>
<text x="563.60" y="282.20" font-size="7.4" fill="#4a88bf" stroke="#4a88bf" stroke-width="0.10">4</text>
<text x="569.00" y="279.80" font-size="10.8" fill="#4a88bf" stroke="#4a88bf" stroke-width="0.15" textLength="23.0" lengthAdjust="spacingAndGlyphs">DNA</text>
<text x="599.30" y="306.10" font-size="10.3" fill="#4a88bf" stroke="#4a88bf" stroke-width="0.14" textLength="47.7" lengthAdjust="spacingAndGlyphs">(p53NEM</text>
<text x="647.60" y="308.70" font-size="7.6" fill="#4a88bf" stroke="#4a88bf" stroke-width="0.11" textLength="3.8" lengthAdjust="spacingAndGlyphs">2</text>
<text x="652.50" y="306.10" font-size="10.3" fill="#4a88bf" stroke="#4a88bf" stroke-width="0.14">)</text>
<text x="656.00" y="308.70" font-size="7.6" fill="#4a88bf" stroke="#4a88bf" stroke-width="0.11" textLength="4.0" lengthAdjust="spacingAndGlyphs">4</text>
<text x="661.40" y="306.10" font-size="10.3" fill="#4a88bf" stroke="#4a88bf" stroke-width="0.14" textLength="22.8" lengthAdjust="spacingAndGlyphs">DNA</text>
<text x="506.90" y="385.10" font-size="10.3" fill="#4a88bf" stroke="#4a88bf" stroke-width="0.14" textLength="43.8" lengthAdjust="spacingAndGlyphs">p53NEM</text>
<text x="551.60" y="387.80" font-size="7.6" fill="#4a88bf" stroke="#4a88bf" stroke-width="0.11" textLength="8.3" lengthAdjust="spacingAndGlyphs">10</text>
<text x="626.80" y="387.00" font-size="10.3" fill="#4a88bf" stroke="#4a88bf" stroke-width="0.14" textLength="43.5" lengthAdjust="spacingAndGlyphs">p53NEM</text>
<text x="671.00" y="389.70" font-size="7.6" fill="#4a88bf" stroke="#4a88bf" stroke-width="0.11" textLength="4.0" lengthAdjust="spacingAndGlyphs">3</text>
<path d="M512.50,311.78 L513.00,311.20 L513.50,310.58 L514.00,309.92 L514.50,309.24 L515.00,308.53 L515.50,307.82 L516.00,307.11 L516.50,306.42 L517.00,305.75 L517.50,305.10 L518.00,304.50 L518.50,303.95 L519.00,303.45 L519.50,303.02 L520.00,302.66 L520.50,302.38 L521.00,302.17 L521.50,302.04 L522.00,302.00 L522.50,302.04 L523.00,302.17 L523.50,302.38 L524.00,302.66 L524.50,303.02 L525.00,303.45 L525.50,303.95 L526.00,304.50 L526.50,305.10 L527.00,305.75 L527.50,306.42 L528.00,307.11 L528.50,307.82 L529.00,308.53 L529.50,309.24 L530.00,309.92 L530.50,310.58 L531.00,311.20 L531.50,311.78 L532.00,312.31 L532.50,312.77 L533.00,313.17 L533.50,313.49 L534.00,313.74 L534.50,313.91 L535.00,313.99 L535.50,313.99 L536.00,313.91 L536.50,313.74 L537.00,313.49 L537.50,313.17 L538.00,312.77 L538.50,312.31 L539.00,311.78 L539.50,311.20 L540.00,310.58 L540.50,309.92 L541.00,309.24 L541.50,308.53 L542.00,307.82 L542.50,307.11 L543.00,306.42 L543.50,305.75 L544.00,305.10 L544.50,304.50 L545.00,303.95 L545.50,303.45 L546.00,303.02 L546.50,302.66 L547.00,302.38 L547.50,302.17 L548.00,302.04 L548.50,302.00 L549.00,302.04 L549.50,302.17 L550.00,302.38 L550.50,302.66 L551.00,303.02 L551.50,303.45 L552.00,303.95 L552.50,304.50 L553.00,305.10 L553.50,305.75 L554.00,306.42 L554.50,307.11 L555.00,307.82 L555.50,308.53 L556.00,309.24 L556.50,309.92 L557.00,310.58 L557.50,311.20 L558.00,311.78 L558.50,312.31 L559.00,312.77 L559.50,313.17 L560.00,313.49 L560.50,313.74 L561.00,313.91 L561.50,313.99 L562.00,313.99 L562.50,313.91 L563.00,313.74 L563.50,313.49 L564.00,313.17 L564.50,312.77 L565.00,312.31 L565.50,311.78 L566.00,311.20 L566.50,310.58 L567.00,309.92 L567.50,309.24 L568.00,308.53 L568.50,307.82 L569.00,307.11 L569.50,306.42 L570.00,305.75 L570.50,305.10 L571.00,304.50 L571.50,303.95 L572.00,303.45 L572.50,303.02 L573.00,302.66 L573.50,302.38 L574.00,302.17 L574.50,302.04 L575.00,302.00 L575.50,302.04 L576.00,302.17 L576.50,302.38" stroke="#b47cc4" stroke-width="2.0" fill="none" stroke-linecap="round" opacity="1.0"/>
<path d="M505.00,312.01 L505.50,311.86 L506.00,311.62 L506.50,311.32 L507.00,310.95 L507.50,310.52 L508.00,310.03 L508.50,309.49 L509.00,308.91 L509.50,308.29 L510.00,307.65 L510.50,307.00 L511.00,306.33 L511.50,305.67 L512.00,305.02 L512.50,304.40 L513.00,303.80 L513.50,303.24 L514.00,302.72 L514.50,302.26 L515.00,301.86 L515.50,301.52 L516.00,301.25 L516.50,301.06 L517.00,300.94 L517.50,300.90 L518.00,300.94 L518.50,301.06 L519.00,301.25 L519.50,301.52 L520.00,301.86 L520.50,302.26 L521.00,302.72 L521.50,303.24 L522.00,303.80 L522.50,304.40 L523.00,305.02 L523.50,305.67 L524.00,306.33 L524.50,307.00 L525.00,307.65 L525.50,308.29 L526.00,308.91 L526.50,309.49 L527.00,310.03 L527.50,310.52 L528.00,310.95 L528.50,311.32 L529.00,311.62 L529.50,311.86 L530.00,312.01 L530.50,312.09 L531.00,312.09 L531.50,312.01 L532.00,311.86 L532.50,311.62 L533.00,311.32 L533.50,310.95 L534.00,310.52 L534.50,310.03 L535.00,309.49 L535.50,308.91 L536.00,308.29 L536.50,307.65 L537.00,307.00 L537.50,306.33 L538.00,305.67 L538.50,305.02 L539.00,304.40 L539.50,303.80 L540.00,303.24 L540.50,302.72 L541.00,302.26 L541.50,301.86 L542.00,301.52 L542.50,301.25 L543.00,301.06 L543.50,300.94 L544.00,300.90 L544.50,300.94 L545.00,301.06 L545.50,301.25 L546.00,301.52 L546.50,301.86 L547.00,302.26 L547.50,302.72 L548.00,303.24 L548.50,303.80 L549.00,304.40 L549.50,305.02 L550.00,305.67 L550.50,306.33 L551.00,307.00 L551.50,307.65 L552.00,308.29 L552.50,308.91 L553.00,309.49 L553.50,310.03 L554.00,310.52 L554.50,310.95 L555.00,311.32 L555.50,311.62 L556.00,311.86 L556.50,312.01 L557.00,312.09 L557.50,312.09 L558.00,312.01 L558.50,311.86 L559.00,311.62 L559.50,311.32 L560.00,310.95 L560.50,310.52 L561.00,310.03 L561.50,309.49 L562.00,308.91 L562.50,308.29 L563.00,307.65 L563.50,307.00 L564.00,306.33 L564.50,305.67 L565.00,305.02 L565.50,304.40 L566.00,303.80 L566.50,303.24 L567.00,302.72 L567.50,302.26 L568.00,301.86 L568.50,301.52 L569.00,301.25" stroke="#4d6ea8" stroke-width="2.0" fill="none" stroke-linecap="round" opacity="1.0"/>
<circle cx="529.05" cy="299.40" r="12.2" fill="#a8b0d8" fill-opacity="0.8"/><circle cx="548.45" cy="299.40" r="12.2" fill="#a8b0d8" fill-opacity="0.8"/><circle cx="529.05" cy="318.60" r="12.2" fill="#a8b0d8" fill-opacity="0.8"/><circle cx="548.45" cy="318.60" r="12.2" fill="#a8b0d8" fill-opacity="0.8"/>
<circle cx="538.75" cy="309.30" r="0.7" fill="#fff"/>
<circle cx="522.75" cy="293.80" r="3.9" fill="#fff"/>
<circle cx="520.05" cy="292.90" r="2.3" fill="#55188a"/>
<line x1="520.05" y1="292.90" x2="522.45" y2="287.70" stroke="#333" stroke-width="0.5"/>
<circle cx="522.45" cy="287.70" r="1.6" fill="#f2ee3c"/>
<line x1="520.05" y1="292.90" x2="515.65" y2="296.80" stroke="#333" stroke-width="0.5"/>
<circle cx="515.65" cy="296.80" r="1.6" fill="#f2ee3c"/>
<circle cx="554.75" cy="293.80" r="3.9" fill="#fff"/>
<circle cx="557.45" cy="292.90" r="2.3" fill="#55188a"/>
<line x1="557.45" y1="292.90" x2="555.05" y2="287.70" stroke="#333" stroke-width="0.5"/>
<circle cx="555.05" cy="287.70" r="1.6" fill="#f2ee3c"/>
<line x1="557.45" y1="292.90" x2="561.85" y2="296.80" stroke="#333" stroke-width="0.5"/>
<circle cx="561.85" cy="296.80" r="1.6" fill="#f2ee3c"/>
<circle cx="522.75" cy="324.20" r="3.9" fill="#fff"/>
<circle cx="520.05" cy="325.10" r="2.3" fill="#55188a"/>
<line x1="520.05" y1="325.10" x2="522.45" y2="330.30" stroke="#333" stroke-width="0.5"/>
<circle cx="522.45" cy="330.30" r="1.6" fill="#f2ee3c"/>
<line x1="520.05" y1="325.10" x2="515.65" y2="321.20" stroke="#333" stroke-width="0.5"/>
<circle cx="515.65" cy="321.20" r="1.6" fill="#f2ee3c"/>
<circle cx="554.75" cy="324.20" r="3.9" fill="#fff"/>
<circle cx="557.45" cy="325.10" r="2.3" fill="#55188a"/>
<line x1="557.45" y1="325.10" x2="555.05" y2="330.30" stroke="#333" stroke-width="0.5"/>
<circle cx="555.05" cy="330.30" r="1.6" fill="#f2ee3c"/>
<line x1="557.45" y1="325.10" x2="561.85" y2="321.20" stroke="#333" stroke-width="0.5"/>
<circle cx="561.85" cy="321.20" r="1.6" fill="#f2ee3c"/>
<path d="M596.65,346.38 L597.15,345.80 L597.65,345.18 L598.15,344.52 L598.65,343.84 L599.15,343.13 L599.65,342.42 L600.15,341.71 L600.65,341.02 L601.15,340.35 L601.65,339.70 L602.15,339.10 L602.65,338.55 L603.15,338.05 L603.65,337.62 L604.15,337.26 L604.65,336.98 L605.15,336.77 L605.65,336.64 L606.15,336.60 L606.65,336.64 L607.15,336.77 L607.65,336.98 L608.15,337.26 L608.65,337.62 L609.15,338.05 L609.65,338.55 L610.15,339.10 L610.65,339.70 L611.15,340.35 L611.65,341.02 L612.15,341.71 L612.65,342.42 L613.15,343.13 L613.65,343.84 L614.15,344.52 L614.65,345.18 L615.15,345.80 L615.65,346.38 L616.15,346.91 L616.65,347.37 L617.15,347.77 L617.65,348.09 L618.15,348.34 L618.65,348.51 L619.15,348.59 L619.65,348.59 L620.15,348.51 L620.65,348.34 L621.15,348.09 L621.65,347.77 L622.15,347.37 L622.65,346.91 L623.15,346.38 L623.65,345.80 L624.15,345.18 L624.65,344.52 L625.15,343.84 L625.65,343.13 L626.15,342.42 L626.65,341.71 L627.15,341.02 L627.65,340.35 L628.15,339.70 L628.65,339.10 L629.15,338.55 L629.65,338.05 L630.15,337.62 L630.65,337.26 L631.15,336.98 L631.65,336.77 L632.15,336.64 L632.65,336.60 L633.15,336.64 L633.65,336.77 L634.15,336.98 L634.65,337.26 L635.15,337.62 L635.65,338.05 L636.15,338.55 L636.65,339.10 L637.15,339.70 L637.65,340.35 L638.15,341.02 L638.65,341.71 L639.15,342.42 L639.65,343.13 L640.15,343.84 L640.65,344.52 L641.15,345.18 L641.65,345.80 L642.15,346.38 L642.65,346.91 L643.15,347.37 L643.65,347.77 L644.15,348.09 L644.65,348.34 L645.15,348.51 L645.65,348.59 L646.15,348.59 L646.65,348.51 L647.15,348.34 L647.65,348.09 L648.15,347.77 L648.65,347.37 L649.15,346.91 L649.65,346.38 L650.15,345.80 L650.65,345.18 L651.15,344.52 L651.65,343.84 L652.15,343.13 L652.65,342.42 L653.15,341.71 L653.65,341.02 L654.15,340.35 L654.65,339.70 L655.15,339.10 L655.65,338.55 L656.15,338.05 L656.65,337.62 L657.15,337.26 L657.65,336.98 L658.15,336.77 L658.65,336.64 L659.15,336.60 L659.65,336.64 L660.15,336.77 L660.65,336.98" stroke="#b47cc4" stroke-width="2.0" fill="none" stroke-linecap="round" opacity="1.0"/>
<path d="M589.15,346.61 L589.65,346.46 L590.15,346.22 L590.65,345.92 L591.15,345.55 L591.65,345.12 L592.15,344.63 L592.65,344.09 L593.15,343.51 L593.65,342.89 L594.15,342.25 L594.65,341.60 L595.15,340.93 L595.65,340.27 L596.15,339.62 L596.65,339.00 L597.15,338.40 L597.65,337.84 L598.15,337.32 L598.65,336.86 L599.15,336.46 L599.65,336.12 L600.15,335.85 L600.65,335.66 L601.15,335.54 L601.65,335.50 L602.15,335.54 L602.65,335.66 L603.15,335.85 L603.65,336.12 L604.15,336.46 L604.65,336.86 L605.15,337.32 L605.65,337.84 L606.15,338.40 L606.65,339.00 L607.15,339.62 L607.65,340.27 L608.15,340.93 L608.65,341.60 L609.15,342.25 L609.65,342.89 L610.15,343.51 L610.65,344.09 L611.15,344.63 L611.65,345.12 L612.15,345.55 L612.65,345.92 L613.15,346.22 L613.65,346.46 L614.15,346.61 L614.65,346.69 L615.15,346.69 L615.65,346.61 L616.15,346.46 L616.65,346.22 L617.15,345.92 L617.65,345.55 L618.15,345.12 L618.65,344.63 L619.15,344.09 L619.65,343.51 L620.15,342.89 L620.65,342.25 L621.15,341.60 L621.65,340.93 L622.15,340.27 L622.65,339.62 L623.15,339.00 L623.65,338.40 L624.15,337.84 L624.65,337.32 L625.15,336.86 L625.65,336.46 L626.15,336.12 L626.65,335.85 L627.15,335.66 L627.65,335.54 L628.15,335.50 L628.65,335.54 L629.15,335.66 L629.65,335.85 L630.15,336.12 L630.65,336.46 L631.15,336.86 L631.65,337.32 L632.15,337.84 L632.65,338.40 L633.15,339.00 L633.65,339.62 L634.15,340.27 L634.65,340.93 L635.15,341.60 L635.65,342.25 L636.15,342.89 L636.65,343.51 L637.15,344.09 L637.65,344.63 L638.15,345.12 L638.65,345.55 L639.15,345.92 L639.65,346.22 L640.15,346.46 L640.65,346.61 L641.15,346.69 L641.65,346.69 L642.15,346.61 L642.65,346.46 L643.15,346.22 L643.65,345.92 L644.15,345.55 L644.65,345.12 L645.15,344.63 L645.65,344.09 L646.15,343.51 L646.65,342.89 L647.15,342.25 L647.65,341.60 L648.15,340.93 L648.65,340.27 L649.15,339.62 L649.65,339.00 L650.15,338.40 L650.65,337.84 L651.15,337.32 L651.65,336.86 L652.15,336.46 L652.65,336.12 L653.15,335.85" stroke="#4d6ea8" stroke-width="2.0" fill="none" stroke-linecap="round" opacity="1.0"/>
<circle cx="613.20" cy="334.00" r="12.2" fill="#a8b0d8" fill-opacity="0.8"/><circle cx="632.60" cy="334.00" r="12.2" fill="#a8b0d8" fill-opacity="0.8"/><circle cx="613.20" cy="353.20" r="12.2" fill="#a8b0d8" fill-opacity="0.8"/><circle cx="632.60" cy="353.20" r="12.2" fill="#a8b0d8" fill-opacity="0.8"/>
<circle cx="622.90" cy="343.90" r="0.7" fill="#fff"/>
<circle cx="606.90" cy="328.40" r="3.9" fill="#fff"/>
<circle cx="604.20" cy="327.50" r="2.3" fill="#55188a"/>
<line x1="604.20" y1="327.50" x2="606.60" y2="322.30" stroke="#333" stroke-width="0.5"/>
<circle cx="606.60" cy="322.30" r="1.6" fill="#f2ee3c"/>
<line x1="604.20" y1="327.50" x2="599.80" y2="331.40" stroke="#333" stroke-width="0.5"/>
<circle cx="599.80" cy="331.40" r="1.6" fill="#f2ee3c"/>
<circle cx="638.90" cy="328.40" r="3.9" fill="#fff"/>
<circle cx="641.60" cy="327.50" r="2.3" fill="#55188a"/>
<line x1="641.60" y1="327.50" x2="639.20" y2="322.30" stroke="#333" stroke-width="0.5"/>
<circle cx="639.20" cy="322.30" r="1.6" fill="#f2ee3c"/>
<line x1="641.60" y1="327.50" x2="646.00" y2="331.40" stroke="#333" stroke-width="0.5"/>
<circle cx="646.00" cy="331.40" r="1.6" fill="#f2ee3c"/>
<circle cx="606.90" cy="358.80" r="3.9" fill="#fff"/>
<circle cx="604.20" cy="359.70" r="2.3" fill="#55188a"/>
<line x1="604.20" y1="359.70" x2="606.60" y2="364.90" stroke="#333" stroke-width="0.5"/>
<circle cx="606.60" cy="364.90" r="1.6" fill="#f2ee3c"/>
<line x1="604.20" y1="359.70" x2="599.80" y2="355.80" stroke="#333" stroke-width="0.5"/>
<circle cx="599.80" cy="355.80" r="1.6" fill="#f2ee3c"/>
<circle cx="638.90" cy="358.80" r="3.9" fill="#fff"/>
<circle cx="641.60" cy="359.70" r="2.3" fill="#55188a"/>
<line x1="641.60" y1="359.70" x2="639.20" y2="364.90" stroke="#333" stroke-width="0.5"/>
<circle cx="639.20" cy="364.90" r="1.6" fill="#f2ee3c"/>
<line x1="641.60" y1="359.70" x2="646.00" y2="355.80" stroke="#333" stroke-width="0.5"/>
<circle cx="646.00" cy="355.80" r="1.6" fill="#f2ee3c"/>
<path d="M-1.80,0 Q0,-2.20 1.80,0" stroke="#ee7d22" stroke-width="2.7" fill="none" stroke-linecap="round" transform="translate(605.10,319.40) rotate(0)"/>
<path d="M-1.80,0 Q0,-2.20 1.80,0" stroke="#ee7d22" stroke-width="2.7" fill="none" stroke-linecap="round" transform="translate(639.90,319.40) rotate(0)"/>
<path d="M-1.80,0 Q0,-2.20 1.80,0" stroke="#ee7d22" stroke-width="2.7" fill="none" stroke-linecap="round" transform="translate(648.60,330.00) rotate(90)"/>
<path d="M-1.80,0 Q0,-2.20 1.80,0" stroke="#ee7d22" stroke-width="2.7" fill="none" stroke-linecap="round" transform="translate(597.50,354.40) rotate(-90)"/>
<path d="M-1.80,0 Q0,-2.20 1.80,0" stroke="#ee7d22" stroke-width="2.7" fill="none" stroke-linecap="round" transform="translate(648.20,354.40) rotate(90)"/>
<path d="M-1.80,0 Q0,-2.20 1.80,0" stroke="#ee7d22" stroke-width="2.7" fill="none" stroke-linecap="round" transform="translate(603.75,366.00) rotate(180)"/>
<path d="M-1.80,0 Q0,-2.20 1.80,0" stroke="#ee7d22" stroke-width="2.7" fill="none" stroke-linecap="round" transform="translate(641.25,365.80) rotate(180)"/>
<path d="M561.5,346.3 Q556.8,350.8 561.5,355.2" stroke="#ee7d22" stroke-width="3.0" fill="none" stroke-linecap="round"/>
<path d="M554.2,334.9 C573,343 590,356 591.2,373.4 C592,388 578,398 566.5,404.5" stroke="#6e8db0" stroke-width="3.0" fill="none"/>
<path d="M558.8,411.2 L563.0,399.8 L570.6,408.2 Z" fill="#6e8db0"/>
<circle cx="537.2" cy="416.5" r="12.3" fill="#b8bfe0"/>
<circle cx="528.6" cy="409.6" r="3.6" fill="#fff"/>
<line x1="530.69" y1="406.66" x2="529.69" y2="405.16" stroke="#333" stroke-width="0.5"/>
<circle cx="529.69" cy="405.16" r="1.6" fill="#f2ee3c"/>
<path d="M-1.80,0 Q0,-2.20 1.80,0" stroke="#ee7d22" stroke-width="2.7" fill="none" stroke-linecap="round" transform="translate(528.04,402.66) rotate(-33.5)"/>
<line x1="536.42" y1="404.73" x2="536.30" y2="402.93" stroke="#333" stroke-width="0.5"/>
<circle cx="536.30" cy="402.93" r="1.6" fill="#f2ee3c"/>
<path d="M-1.80,0 Q0,-2.20 1.80,0" stroke="#ee7d22" stroke-width="2.7" fill="none" stroke-linecap="round" transform="translate(536.10,399.94) rotate(-3.799999999999997)"/>
<line x1="541.43" y1="405.48" x2="542.07" y2="403.80" stroke="#333" stroke-width="0.5"/>
<circle cx="542.07" cy="403.80" r="1.6" fill="#f2ee3c"/>
<path d="M-1.80,0 Q0,-2.20 1.80,0" stroke="#ee7d22" stroke-width="2.7" fill="none" stroke-linecap="round" transform="translate(543.15,401.00) rotate(21)"/>
<line x1="545.73" y1="408.35" x2="547.03" y2="407.10" stroke="#333" stroke-width="0.5"/>
<circle cx="547.03" cy="407.10" r="1.6" fill="#f2ee3c"/>
<path d="M-1.80,0 Q0,-2.20 1.80,0" stroke="#ee7d22" stroke-width="2.7" fill="none" stroke-linecap="round" transform="translate(549.20,405.03) rotate(46.3)"/>
<line x1="548.83" y1="414.53" x2="550.61" y2="414.23" stroke="#333" stroke-width="0.5"/>
<circle cx="550.61" cy="414.23" r="1.6" fill="#f2ee3c"/>
<path d="M-1.80,0 Q0,-2.20 1.80,0" stroke="#ee7d22" stroke-width="2.7" fill="none" stroke-linecap="round" transform="translate(553.57,413.73) rotate(80.4)"/>
<line x1="548.40" y1="420.22" x2="550.10" y2="420.79" stroke="#333" stroke-width="0.5"/>
<circle cx="550.10" cy="420.79" r="1.6" fill="#f2ee3c"/>
<path d="M-1.80,0 Q0,-2.20 1.80,0" stroke="#ee7d22" stroke-width="2.7" fill="none" stroke-linecap="round" transform="translate(552.95,421.74) rotate(108.4)"/>
<line x1="545.37" y1="425.02" x2="546.61" y2="426.32" stroke="#333" stroke-width="0.5"/>
<circle cx="546.61" cy="426.32" r="1.6" fill="#f2ee3c"/>
<path d="M-1.80,0 Q0,-2.20 1.80,0" stroke="#ee7d22" stroke-width="2.7" fill="none" stroke-linecap="round" transform="translate(548.69,428.48) rotate(136.2)"/>
<line x1="525.68" y1="413.93" x2="523.93" y2="413.53" stroke="#333" stroke-width="0.5"/>
<circle cx="523.93" cy="413.53" r="1.6" fill="#f2ee3c"/>
<path d="M-1.80,0 Q0,-2.20 1.80,0" stroke="#ee7d22" stroke-width="2.7" fill="none" stroke-linecap="round" transform="translate(521.00,412.88) rotate(-77.4)"/>
<line x1="525.57" y1="418.51" x2="523.80" y2="418.81" stroke="#333" stroke-width="0.5"/>
<circle cx="523.80" cy="418.81" r="1.6" fill="#f2ee3c"/>
<path d="M-1.80,0 Q0,-2.20 1.80,0" stroke="#ee7d22" stroke-width="2.7" fill="none" stroke-linecap="round" transform="translate(520.84,419.33) rotate(260.2)"/>
<line x1="527.23" y1="422.81" x2="525.70" y2="423.77" stroke="#333" stroke-width="0.5"/>
<circle cx="525.70" cy="423.77" r="1.6" fill="#f2ee3c"/>
<path d="M-1.80,0 Q0,-2.20 1.80,0" stroke="#ee7d22" stroke-width="2.7" fill="none" stroke-linecap="round" transform="translate(523.17,425.37) rotate(237.7)"/>
<circle cx="607.9" cy="397.7" r="12.2" fill="#b8bfe0"/>
<circle cx="600.8" cy="391.8" r="3.9" fill="#fff"/>
<circle cx="598.2" cy="390.3" r="2.3" fill="#55188a"/>
<circle cx="606.5" cy="384.6" r="1.6" fill="#f2ee3c"/>
<circle cx="600.8" cy="385.6" r="1.6" fill="#f2ee3c"/>
<circle cx="594.4" cy="394.0" r="1.6" fill="#f2ee3c"/>
<path d="M-1.80,0 Q0,-2.20 1.80,0" stroke="#ee7d22" stroke-width="2.7" fill="none" stroke-linecap="round" transform="translate(606.50,381.20) rotate(0)"/>
<path d="M-1.80,0 Q0,-2.20 1.80,0" stroke="#ee7d22" stroke-width="2.7" fill="none" stroke-linecap="round" transform="translate(599.30,382.60) rotate(-35)"/>
<path d="M-1.80,0 Q0,-2.20 1.80,0" stroke="#ee7d22" stroke-width="2.7" fill="none" stroke-linecap="round" transform="translate(591.30,393.60) rotate(-90)"/>
<g transform="translate(603.75,425.5) rotate(-24.2)"><path d="M0.00,1.42 L0.50,0.48 L1.01,-0.50 L1.51,-1.44 L2.01,-2.30 L2.52,-3.02 L3.02,-3.56 L3.53,-3.90 L4.03,-4.00 L4.53,-3.87 L5.04,-3.51 L5.54,-2.94 L6.04,-2.20 L6.55,-1.33 L7.05,-0.38 L7.55,0.59 L8.06,1.52 L8.56,2.37 L9.07,3.08 L9.57,3.60 L10.07,3.91 L10.58,4.00 L11.08,3.84 L11.58,3.46 L12.09,2.88 L12.59,2.13 L13.09,1.25 L13.60,0.29 L14.10,-0.68 L14.60,-1.61 L15.11,-2.44 L15.61,-3.13 L16.12,-3.64 L16.62,-3.93 L17.12,-3.99 L17.63,-3.82 L18.13,-3.42 L18.63,-2.82 L19.14,-2.05 L19.64,-1.16 L20.14,-0.20 L20.65,0.77 L21.15,1.69 L21.66,2.51 L22.16,3.19 L22.66,3.68 L23.17,3.95 L23.67,3.99 L24.17,3.79 L24.68,3.37 L25.18,2.75 L25.68,1.97 L26.19,1.07 L26.69,0.11 L27.20,-0.85 L27.70,-1.77 L28.20,-2.58 L28.71,-3.24 L29.21,-3.71 L29.71,-3.96 L30.22,-3.98 L30.72,-3.76 L31.22,-3.32 L31.73,-2.68 L32.23,-1.89 L32.73,-0.99 L33.24,-0.02 L33.74,0.94 L34.25,1.85 L34.75,2.65 L35.25,3.30 L35.76,3.74 L36.26,3.97 L36.76,3.97 L37.27,3.73 L37.77,3.27 L38.27,2.62 L38.78,1.81 L39.28,0.90 L39.79,-0.07 L40.29,-1.03 L40.79,-1.93 L41.30,-2.72 L41.80,-3.35" stroke="#b47cc4" stroke-width="1.5" fill="none" stroke-linecap="round" opacity="1.0"/><path d="M0.00,0.48 L0.50,1.42 L1.01,2.28 L1.51,3.01 L2.01,3.55 L2.52,3.89 L3.02,4.00 L3.53,3.87 L4.03,3.52 L4.53,2.95 L5.04,2.21 L5.54,1.35 L6.04,0.40 L6.55,-0.57 L7.05,-1.51 L7.55,-2.36 L8.06,-3.07 L8.56,-3.60 L9.07,-3.91 L9.57,-4.00 L10.07,-3.85 L10.58,-3.47 L11.08,-2.89 L11.58,-2.14 L12.09,-1.26 L12.59,-0.31 L13.09,0.66 L13.60,1.59 L14.10,2.43 L14.60,3.12 L15.11,3.63 L15.61,3.93 L16.12,3.99 L16.62,3.82 L17.12,3.43 L17.63,2.83 L18.13,2.06 L18.63,1.17 L19.14,0.22 L19.64,-0.75 L20.14,-1.68 L20.65,-2.50 L21.15,-3.18 L21.66,-3.67 L22.16,-3.95 L22.66,-3.99 L23.17,-3.79 L23.67,-3.38 L24.17,-2.76 L24.68,-1.98 L25.18,-1.09 L25.68,-0.13 L26.19,0.84 L26.69,1.76 L27.20,2.57 L27.70,3.23 L28.20,3.71 L28.71,3.96 L29.21,3.98 L29.71,3.76 L30.22,3.33 L30.72,2.69 L31.22,1.90 L31.73,1.00 L32.23,0.04 L32.73,-0.93 L33.24,-1.84 L33.74,-2.64 L34.25,-3.29 L34.75,-3.74 L35.25,-3.97 L35.76,-3.97 L36.26,-3.73 L36.76,-3.28 L37.27,-2.63 L37.77,-1.82 L38.27,-0.91 L38.78,0.05 L39.28,1.02 L39.79,1.92 L40.29,2.71 L40.79,3.34 L41.30,3.77 L41.80,3.98" stroke="#4d6ea8" stroke-width="1.5" fill="none" stroke-linecap="round" opacity="1.0"/></g>
<path d="M617.2,406.6 L623.6,413.8 M623.8,406.6 L617.0,413.8" stroke="#e03030" stroke-width="1.1"/>
</svg>
</body></html>
